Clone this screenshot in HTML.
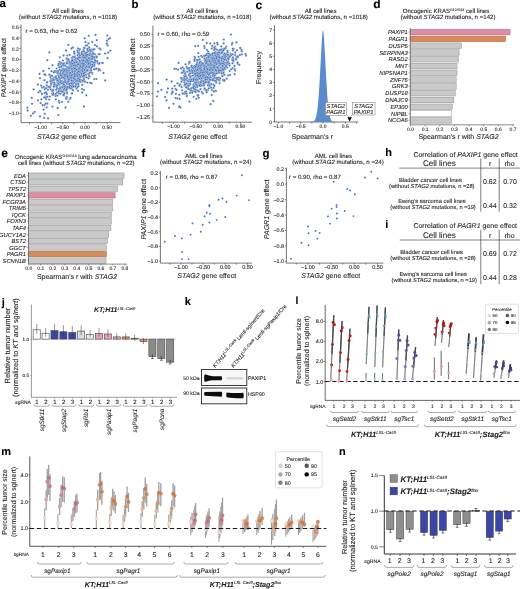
<!DOCTYPE html><html><head><meta charset="utf-8"><style>html,body{margin:0;padding:0;background:#fff;}svg{display:block;opacity:0.999;}text{font-family:"Liberation Sans",sans-serif;text-rendering:geometricPrecision;stroke:#231f20;stroke-width:0.1px;}</style></head><body>
<svg width="520" height="589" viewBox="0 0 520 589" fill="#231f20">
<rect width="520" height="589" fill="#fff"/>
<text x="-0.40" y="6.60" font-size="11.5" font-weight="bold" fill="#000">a</text>
<text x="68.00" y="13.00" font-size="6.1" text-anchor="middle">All cell lines</text>
<text x="68.00" y="18.80" font-size="6.1" text-anchor="middle">(without <tspan font-style="italic">STAG2</tspan> mutations, n =1018)</text>
<line x1="21.00" y1="24.50" x2="21.00" y2="122.60" stroke="#3c3c3c" stroke-width="0.7"/>
<line x1="21.00" y1="122.60" x2="120.40" y2="122.60" stroke="#3c3c3c" stroke-width="0.7"/>
<line x1="19.40" y1="27.16" x2="21.00" y2="27.16" stroke="#3c3c3c" stroke-width="0.6"/>
<text x="18.70" y="28.96" font-size="5.0" text-anchor="end">0.6</text>
<line x1="19.40" y1="37.94" x2="21.00" y2="37.94" stroke="#3c3c3c" stroke-width="0.6"/>
<text x="18.70" y="39.74" font-size="5.0" text-anchor="end">0.4</text>
<line x1="19.40" y1="48.72" x2="21.00" y2="48.72" stroke="#3c3c3c" stroke-width="0.6"/>
<text x="18.70" y="50.52" font-size="5.0" text-anchor="end">0.2</text>
<line x1="19.40" y1="59.50" x2="21.00" y2="59.50" stroke="#3c3c3c" stroke-width="0.6"/>
<text x="18.70" y="61.30" font-size="5.0" text-anchor="end">0.0</text>
<line x1="19.40" y1="70.28" x2="21.00" y2="70.28" stroke="#3c3c3c" stroke-width="0.6"/>
<text x="18.70" y="72.08" font-size="5.0" text-anchor="end">−0.2</text>
<line x1="19.40" y1="81.06" x2="21.00" y2="81.06" stroke="#3c3c3c" stroke-width="0.6"/>
<text x="18.70" y="82.86" font-size="5.0" text-anchor="end">−0.4</text>
<line x1="19.40" y1="91.84" x2="21.00" y2="91.84" stroke="#3c3c3c" stroke-width="0.6"/>
<text x="18.70" y="93.64" font-size="5.0" text-anchor="end">−0.6</text>
<line x1="19.40" y1="102.62" x2="21.00" y2="102.62" stroke="#3c3c3c" stroke-width="0.6"/>
<text x="18.70" y="104.42" font-size="5.0" text-anchor="end">−0.8</text>
<line x1="19.40" y1="113.40" x2="21.00" y2="113.40" stroke="#3c3c3c" stroke-width="0.6"/>
<text x="18.70" y="115.20" font-size="5.0" text-anchor="end">−1.0</text>
<line x1="29.50" y1="122.60" x2="29.50" y2="124.20" stroke="#3c3c3c" stroke-width="0.6"/>
<line x1="40.60" y1="122.60" x2="40.60" y2="124.20" stroke="#3c3c3c" stroke-width="0.6"/>
<text x="40.60" y="128.50" font-size="5.0" text-anchor="middle">−1.00</text>
<line x1="51.70" y1="122.60" x2="51.70" y2="124.20" stroke="#3c3c3c" stroke-width="0.6"/>
<line x1="62.80" y1="122.60" x2="62.80" y2="124.20" stroke="#3c3c3c" stroke-width="0.6"/>
<text x="62.80" y="128.50" font-size="5.0" text-anchor="middle">−0.50</text>
<line x1="73.90" y1="122.60" x2="73.90" y2="124.20" stroke="#3c3c3c" stroke-width="0.6"/>
<line x1="85.00" y1="122.60" x2="85.00" y2="124.20" stroke="#3c3c3c" stroke-width="0.6"/>
<text x="85.00" y="128.50" font-size="5.0" text-anchor="middle">0.00</text>
<line x1="96.10" y1="122.60" x2="96.10" y2="124.20" stroke="#3c3c3c" stroke-width="0.6"/>
<line x1="107.20" y1="122.60" x2="107.20" y2="124.20" stroke="#3c3c3c" stroke-width="0.6"/>
<text x="107.20" y="128.50" font-size="5.0" text-anchor="middle">0.50</text>
<text x="66.40" y="138.82" font-size="7.0" text-anchor="middle"><tspan font-style="italic">STAG2</tspan> gene effect</text>
<text transform="translate(4.00,67.60) rotate(-90)" x="0" y="2.47" font-size="6.85" text-anchor="middle"><tspan font-style="italic">PAXIP1</tspan> gene effect</text>
<text x="25.50" y="33.40" font-size="6.1">r = 0.63, rho = 0.62</text>
<g fill="#3f6db5" stroke="#fff" stroke-width="0.3"><circle cx="79.7" cy="60.8" r="1.15"/><circle cx="60.6" cy="71.4" r="1.15"/><circle cx="69.5" cy="68.9" r="1.15"/><circle cx="79.1" cy="68.0" r="1.15"/><circle cx="67.2" cy="76.7" r="1.15"/><circle cx="82.6" cy="65.8" r="1.15"/><circle cx="52.2" cy="90.5" r="1.15"/><circle cx="61.7" cy="65.8" r="1.15"/><circle cx="44.4" cy="105.2" r="1.15"/><circle cx="58.9" cy="81.0" r="1.15"/><circle cx="74.3" cy="52.8" r="1.15"/><circle cx="59.8" cy="57.3" r="1.15"/><circle cx="83.3" cy="70.2" r="1.15"/><circle cx="69.9" cy="76.4" r="1.15"/><circle cx="54.1" cy="87.2" r="1.15"/><circle cx="65.0" cy="79.2" r="1.15"/><circle cx="69.8" cy="68.6" r="1.15"/><circle cx="72.8" cy="86.6" r="1.15"/><circle cx="57.4" cy="73.3" r="1.15"/><circle cx="86.2" cy="64.2" r="1.15"/><circle cx="72.1" cy="72.0" r="1.15"/><circle cx="64.3" cy="86.6" r="1.15"/><circle cx="58.1" cy="81.1" r="1.15"/><circle cx="56.6" cy="79.4" r="1.15"/><circle cx="72.2" cy="79.3" r="1.15"/><circle cx="71.5" cy="65.5" r="1.15"/><circle cx="58.6" cy="81.4" r="1.15"/><circle cx="84.6" cy="63.3" r="1.15"/><circle cx="44.5" cy="80.2" r="1.15"/><circle cx="68.3" cy="74.7" r="1.15"/><circle cx="81.1" cy="59.5" r="1.15"/><circle cx="74.6" cy="73.2" r="1.15"/><circle cx="49.7" cy="86.9" r="1.15"/><circle cx="59.2" cy="77.2" r="1.15"/><circle cx="82.9" cy="72.4" r="1.15"/><circle cx="89.7" cy="58.6" r="1.15"/><circle cx="58.2" cy="65.5" r="1.15"/><circle cx="54.0" cy="84.5" r="1.15"/><circle cx="85.5" cy="64.1" r="1.15"/><circle cx="67.4" cy="71.1" r="1.15"/><circle cx="79.2" cy="53.4" r="1.15"/><circle cx="47.2" cy="81.8" r="1.15"/><circle cx="64.1" cy="88.0" r="1.15"/><circle cx="66.0" cy="80.4" r="1.15"/><circle cx="76.7" cy="79.3" r="1.15"/><circle cx="63.5" cy="91.9" r="1.15"/><circle cx="64.7" cy="76.7" r="1.15"/><circle cx="63.1" cy="65.1" r="1.15"/><circle cx="75.1" cy="66.2" r="1.15"/><circle cx="73.0" cy="68.2" r="1.15"/><circle cx="62.3" cy="71.0" r="1.15"/><circle cx="63.5" cy="85.3" r="1.15"/><circle cx="94.5" cy="69.3" r="1.15"/><circle cx="51.0" cy="84.9" r="1.15"/><circle cx="72.9" cy="77.4" r="1.15"/><circle cx="79.9" cy="64.0" r="1.15"/><circle cx="78.1" cy="74.0" r="1.15"/><circle cx="74.8" cy="69.8" r="1.15"/><circle cx="70.0" cy="98.9" r="1.15"/><circle cx="69.0" cy="84.4" r="1.15"/><circle cx="90.9" cy="57.0" r="1.15"/><circle cx="49.4" cy="52.4" r="1.15"/><circle cx="62.5" cy="84.8" r="1.15"/><circle cx="57.7" cy="79.5" r="1.15"/><circle cx="89.8" cy="53.5" r="1.15"/><circle cx="76.2" cy="84.0" r="1.15"/><circle cx="77.6" cy="64.4" r="1.15"/><circle cx="96.8" cy="40.2" r="1.15"/><circle cx="80.0" cy="73.6" r="1.15"/><circle cx="61.1" cy="62.8" r="1.15"/><circle cx="72.3" cy="68.0" r="1.15"/><circle cx="72.9" cy="76.8" r="1.15"/><circle cx="45.0" cy="96.7" r="1.15"/><circle cx="71.8" cy="72.1" r="1.15"/><circle cx="84.4" cy="67.9" r="1.15"/><circle cx="68.0" cy="79.4" r="1.15"/><circle cx="76.5" cy="88.7" r="1.15"/><circle cx="79.8" cy="64.3" r="1.15"/><circle cx="52.4" cy="80.5" r="1.15"/><circle cx="59.4" cy="73.3" r="1.15"/><circle cx="62.7" cy="77.2" r="1.15"/><circle cx="70.6" cy="97.8" r="1.15"/><circle cx="68.7" cy="87.8" r="1.15"/><circle cx="71.6" cy="69.9" r="1.15"/><circle cx="75.0" cy="68.6" r="1.15"/><circle cx="83.5" cy="69.7" r="1.15"/><circle cx="76.6" cy="65.9" r="1.15"/><circle cx="65.7" cy="70.8" r="1.15"/><circle cx="63.8" cy="77.0" r="1.15"/><circle cx="76.0" cy="70.6" r="1.15"/><circle cx="49.7" cy="96.6" r="1.15"/><circle cx="47.3" cy="60.2" r="1.15"/><circle cx="67.3" cy="67.8" r="1.15"/><circle cx="33.6" cy="89.3" r="1.15"/><circle cx="70.5" cy="75.8" r="1.15"/><circle cx="65.2" cy="72.7" r="1.15"/><circle cx="67.9" cy="87.0" r="1.15"/><circle cx="50.5" cy="75.5" r="1.15"/><circle cx="84.7" cy="63.8" r="1.15"/><circle cx="66.6" cy="69.9" r="1.15"/><circle cx="61.0" cy="90.1" r="1.15"/><circle cx="85.6" cy="68.6" r="1.15"/><circle cx="77.3" cy="71.9" r="1.15"/><circle cx="66.8" cy="75.3" r="1.15"/><circle cx="72.2" cy="59.9" r="1.15"/><circle cx="66.3" cy="79.0" r="1.15"/><circle cx="59.5" cy="80.2" r="1.15"/><circle cx="91.7" cy="61.4" r="1.15"/><circle cx="65.2" cy="79.8" r="1.15"/><circle cx="63.6" cy="85.4" r="1.15"/><circle cx="57.1" cy="72.7" r="1.15"/><circle cx="67.1" cy="73.3" r="1.15"/><circle cx="83.0" cy="66.2" r="1.15"/><circle cx="94.2" cy="79.1" r="1.15"/><circle cx="63.0" cy="72.7" r="1.15"/><circle cx="57.6" cy="81.8" r="1.15"/><circle cx="76.5" cy="76.6" r="1.15"/><circle cx="85.9" cy="64.3" r="1.15"/><circle cx="82.5" cy="65.7" r="1.15"/><circle cx="60.5" cy="72.3" r="1.15"/><circle cx="82.3" cy="70.6" r="1.15"/><circle cx="87.3" cy="69.8" r="1.15"/><circle cx="76.1" cy="59.7" r="1.15"/><circle cx="61.6" cy="74.7" r="1.15"/><circle cx="100.2" cy="70.3" r="1.15"/><circle cx="91.7" cy="83.3" r="1.15"/><circle cx="81.6" cy="57.9" r="1.15"/><circle cx="81.9" cy="65.6" r="1.15"/><circle cx="75.7" cy="61.7" r="1.15"/><circle cx="63.3" cy="82.5" r="1.15"/><circle cx="77.6" cy="83.2" r="1.15"/><circle cx="84.6" cy="66.0" r="1.15"/><circle cx="73.4" cy="86.3" r="1.15"/><circle cx="78.4" cy="76.2" r="1.15"/><circle cx="59.8" cy="84.5" r="1.15"/><circle cx="98.6" cy="70.5" r="1.15"/><circle cx="86.6" cy="60.6" r="1.15"/><circle cx="48.1" cy="118.4" r="1.15"/><circle cx="61.9" cy="81.3" r="1.15"/><circle cx="87.8" cy="55.6" r="1.15"/><circle cx="86.1" cy="63.0" r="1.15"/><circle cx="76.3" cy="71.6" r="1.15"/><circle cx="79.3" cy="71.2" r="1.15"/><circle cx="68.6" cy="72.0" r="1.15"/><circle cx="92.7" cy="64.5" r="1.15"/><circle cx="77.7" cy="70.8" r="1.15"/><circle cx="82.4" cy="65.8" r="1.15"/><circle cx="45.8" cy="97.8" r="1.15"/><circle cx="88.3" cy="50.9" r="1.15"/><circle cx="73.5" cy="81.3" r="1.15"/><circle cx="85.9" cy="45.7" r="1.15"/><circle cx="72.4" cy="71.9" r="1.15"/><circle cx="66.6" cy="77.2" r="1.15"/><circle cx="96.9" cy="57.3" r="1.15"/><circle cx="96.1" cy="57.5" r="1.15"/><circle cx="83.9" cy="69.0" r="1.15"/><circle cx="67.2" cy="82.2" r="1.15"/><circle cx="77.3" cy="65.5" r="1.15"/><circle cx="66.6" cy="98.9" r="1.15"/><circle cx="82.9" cy="64.6" r="1.15"/><circle cx="82.5" cy="72.0" r="1.15"/><circle cx="81.6" cy="58.1" r="1.15"/><circle cx="105.1" cy="53.6" r="1.15"/><circle cx="90.4" cy="68.4" r="1.15"/><circle cx="44.7" cy="89.2" r="1.15"/><circle cx="78.8" cy="66.9" r="1.15"/><circle cx="82.2" cy="85.0" r="1.15"/><circle cx="76.0" cy="82.0" r="1.15"/><circle cx="59.7" cy="89.1" r="1.15"/><circle cx="88.5" cy="70.4" r="1.15"/><circle cx="77.8" cy="70.3" r="1.15"/><circle cx="68.6" cy="60.0" r="1.15"/><circle cx="66.1" cy="77.4" r="1.15"/><circle cx="78.6" cy="62.1" r="1.15"/><circle cx="86.6" cy="58.9" r="1.15"/><circle cx="95.5" cy="34.9" r="1.15"/><circle cx="67.8" cy="61.2" r="1.15"/><circle cx="52.7" cy="95.2" r="1.15"/><circle cx="56.0" cy="77.5" r="1.15"/><circle cx="61.3" cy="73.9" r="1.15"/><circle cx="89.5" cy="53.5" r="1.15"/><circle cx="85.1" cy="81.8" r="1.15"/><circle cx="65.2" cy="66.0" r="1.15"/><circle cx="63.1" cy="76.6" r="1.15"/><circle cx="62.6" cy="82.9" r="1.15"/><circle cx="58.4" cy="72.2" r="1.15"/><circle cx="84.9" cy="62.7" r="1.15"/><circle cx="78.4" cy="75.0" r="1.15"/><circle cx="86.3" cy="57.1" r="1.15"/><circle cx="70.0" cy="76.7" r="1.15"/><circle cx="96.3" cy="56.5" r="1.15"/><circle cx="74.2" cy="51.6" r="1.15"/><circle cx="83.2" cy="70.2" r="1.15"/><circle cx="33.0" cy="113.4" r="1.15"/><circle cx="79.3" cy="62.2" r="1.15"/><circle cx="84.6" cy="73.4" r="1.15"/><circle cx="85.5" cy="72.4" r="1.15"/><circle cx="63.4" cy="76.7" r="1.15"/><circle cx="60.1" cy="87.2" r="1.15"/><circle cx="58.6" cy="84.4" r="1.15"/><circle cx="90.2" cy="58.4" r="1.15"/><circle cx="50.9" cy="79.1" r="1.15"/><circle cx="80.1" cy="64.9" r="1.15"/><circle cx="75.4" cy="73.1" r="1.15"/><circle cx="69.8" cy="54.9" r="1.15"/><circle cx="67.0" cy="97.2" r="1.15"/><circle cx="85.9" cy="66.3" r="1.15"/><circle cx="84.0" cy="61.5" r="1.15"/><circle cx="84.7" cy="67.6" r="1.15"/><circle cx="65.9" cy="71.9" r="1.15"/><circle cx="107.2" cy="35.6" r="1.15"/><circle cx="71.9" cy="57.9" r="1.15"/><circle cx="70.5" cy="65.1" r="1.15"/><circle cx="57.9" cy="88.7" r="1.15"/><circle cx="77.3" cy="65.9" r="1.15"/><circle cx="76.0" cy="60.4" r="1.15"/><circle cx="40.0" cy="116.4" r="1.15"/><circle cx="69.3" cy="65.1" r="1.15"/><circle cx="68.8" cy="83.7" r="1.15"/><circle cx="71.0" cy="77.9" r="1.15"/><circle cx="70.2" cy="64.7" r="1.15"/><circle cx="72.9" cy="90.3" r="1.15"/><circle cx="67.0" cy="93.5" r="1.15"/><circle cx="96.7" cy="56.9" r="1.15"/><circle cx="65.5" cy="107.5" r="1.15"/><circle cx="70.8" cy="85.8" r="1.15"/><circle cx="72.1" cy="83.2" r="1.15"/><circle cx="65.6" cy="70.7" r="1.15"/><circle cx="76.8" cy="88.1" r="1.15"/><circle cx="78.6" cy="56.1" r="1.15"/><circle cx="57.9" cy="73.6" r="1.15"/><circle cx="63.4" cy="68.6" r="1.15"/><circle cx="87.0" cy="66.3" r="1.15"/><circle cx="67.2" cy="87.2" r="1.15"/><circle cx="69.3" cy="78.8" r="1.15"/><circle cx="34.7" cy="111.9" r="1.15"/><circle cx="79.0" cy="73.3" r="1.15"/><circle cx="49.0" cy="68.6" r="1.15"/><circle cx="95.1" cy="45.2" r="1.15"/><circle cx="69.1" cy="73.1" r="1.15"/><circle cx="78.7" cy="68.5" r="1.15"/><circle cx="84.5" cy="47.9" r="1.15"/><circle cx="87.7" cy="70.0" r="1.15"/><circle cx="68.5" cy="83.0" r="1.15"/><circle cx="84.0" cy="54.0" r="1.15"/><circle cx="71.9" cy="84.0" r="1.15"/><circle cx="75.1" cy="71.6" r="1.15"/><circle cx="82.4" cy="81.4" r="1.15"/><circle cx="68.4" cy="79.2" r="1.15"/><circle cx="84.6" cy="62.7" r="1.15"/><circle cx="77.2" cy="80.6" r="1.15"/><circle cx="61.9" cy="74.6" r="1.15"/><circle cx="72.7" cy="84.0" r="1.15"/><circle cx="77.9" cy="81.6" r="1.15"/><circle cx="77.8" cy="73.9" r="1.15"/><circle cx="69.7" cy="88.5" r="1.15"/><circle cx="81.0" cy="69.2" r="1.15"/><circle cx="64.0" cy="92.8" r="1.15"/><circle cx="86.5" cy="70.5" r="1.15"/><circle cx="74.8" cy="86.2" r="1.15"/><circle cx="50.2" cy="87.7" r="1.15"/><circle cx="61.8" cy="63.3" r="1.15"/><circle cx="80.5" cy="80.7" r="1.15"/><circle cx="58.0" cy="72.1" r="1.15"/><circle cx="96.3" cy="79.1" r="1.15"/><circle cx="67.5" cy="61.7" r="1.15"/><circle cx="60.2" cy="64.1" r="1.15"/><circle cx="44.8" cy="113.9" r="1.15"/><circle cx="74.1" cy="77.3" r="1.15"/><circle cx="45.6" cy="103.6" r="1.15"/><circle cx="73.2" cy="74.7" r="1.15"/><circle cx="81.9" cy="51.6" r="1.15"/><circle cx="75.2" cy="74.8" r="1.15"/><circle cx="66.1" cy="82.4" r="1.15"/><circle cx="65.5" cy="88.6" r="1.15"/><circle cx="74.3" cy="65.9" r="1.15"/><circle cx="71.3" cy="64.0" r="1.15"/><circle cx="72.0" cy="65.4" r="1.15"/><circle cx="67.5" cy="77.0" r="1.15"/><circle cx="80.4" cy="56.4" r="1.15"/><circle cx="69.6" cy="87.8" r="1.15"/><circle cx="64.7" cy="79.2" r="1.15"/><circle cx="61.4" cy="67.6" r="1.15"/><circle cx="84.3" cy="60.0" r="1.15"/><circle cx="89.0" cy="75.5" r="1.15"/><circle cx="50.6" cy="89.4" r="1.15"/><circle cx="85.8" cy="53.4" r="1.15"/><circle cx="79.0" cy="67.8" r="1.15"/><circle cx="95.8" cy="68.8" r="1.15"/><circle cx="81.2" cy="60.0" r="1.15"/><circle cx="71.1" cy="68.1" r="1.15"/><circle cx="81.6" cy="72.6" r="1.15"/><circle cx="67.3" cy="60.0" r="1.15"/><circle cx="42.6" cy="105.2" r="1.15"/><circle cx="78.3" cy="68.4" r="1.15"/><circle cx="66.1" cy="72.5" r="1.15"/><circle cx="60.1" cy="81.4" r="1.15"/><circle cx="74.0" cy="73.1" r="1.15"/><circle cx="90.3" cy="54.4" r="1.15"/><circle cx="108.3" cy="52.7" r="1.15"/><circle cx="71.6" cy="77.1" r="1.15"/><circle cx="77.9" cy="68.5" r="1.15"/><circle cx="84.0" cy="74.6" r="1.15"/><circle cx="82.6" cy="73.8" r="1.15"/><circle cx="88.5" cy="78.3" r="1.15"/><circle cx="57.4" cy="81.8" r="1.15"/><circle cx="59.8" cy="64.2" r="1.15"/><circle cx="44.5" cy="93.2" r="1.15"/><circle cx="89.6" cy="55.3" r="1.15"/><circle cx="66.5" cy="97.2" r="1.15"/><circle cx="69.4" cy="83.7" r="1.15"/><circle cx="60.6" cy="82.8" r="1.15"/><circle cx="74.0" cy="59.7" r="1.15"/><circle cx="53.4" cy="90.0" r="1.15"/><circle cx="70.7" cy="80.5" r="1.15"/><circle cx="58.3" cy="79.8" r="1.15"/><circle cx="84.1" cy="81.1" r="1.15"/><circle cx="66.1" cy="98.2" r="1.15"/><circle cx="84.8" cy="60.5" r="1.15"/><circle cx="86.3" cy="56.4" r="1.15"/><circle cx="27.6" cy="110.5" r="1.15"/><circle cx="70.0" cy="67.9" r="1.15"/><circle cx="67.3" cy="55.6" r="1.15"/><circle cx="86.2" cy="68.3" r="1.15"/><circle cx="82.2" cy="71.9" r="1.15"/><circle cx="62.0" cy="78.3" r="1.15"/><circle cx="72.7" cy="75.4" r="1.15"/><circle cx="83.0" cy="76.9" r="1.15"/><circle cx="83.1" cy="58.6" r="1.15"/><circle cx="72.8" cy="47.5" r="1.15"/><circle cx="66.9" cy="84.3" r="1.15"/><circle cx="78.8" cy="58.9" r="1.15"/><circle cx="72.9" cy="79.2" r="1.15"/><circle cx="107.7" cy="45.4" r="1.15"/><circle cx="71.6" cy="74.6" r="1.15"/><circle cx="71.8" cy="93.6" r="1.15"/><circle cx="71.1" cy="70.6" r="1.15"/><circle cx="85.4" cy="64.8" r="1.15"/><circle cx="45.9" cy="97.6" r="1.15"/><circle cx="61.4" cy="81.3" r="1.15"/><circle cx="65.3" cy="70.3" r="1.15"/><circle cx="30.9" cy="115.8" r="1.15"/><circle cx="75.3" cy="73.4" r="1.15"/><circle cx="63.6" cy="55.5" r="1.15"/><circle cx="65.7" cy="74.4" r="1.15"/><circle cx="54.8" cy="85.0" r="1.15"/><circle cx="83.2" cy="57.8" r="1.15"/><circle cx="66.6" cy="58.4" r="1.15"/><circle cx="81.1" cy="60.8" r="1.15"/><circle cx="41.4" cy="99.4" r="1.15"/><circle cx="72.1" cy="93.4" r="1.15"/><circle cx="42.1" cy="87.7" r="1.15"/><circle cx="82.5" cy="76.8" r="1.15"/><circle cx="65.6" cy="87.0" r="1.15"/><circle cx="65.8" cy="74.7" r="1.15"/><circle cx="27.4" cy="107.6" r="1.15"/><circle cx="70.5" cy="71.1" r="1.15"/><circle cx="86.6" cy="77.4" r="1.15"/><circle cx="92.2" cy="42.0" r="1.15"/><circle cx="85.8" cy="69.5" r="1.15"/><circle cx="89.2" cy="62.3" r="1.15"/><circle cx="40.5" cy="91.7" r="1.15"/><circle cx="52.0" cy="93.8" r="1.15"/><circle cx="60.8" cy="77.6" r="1.15"/><circle cx="62.6" cy="83.4" r="1.15"/><circle cx="92.3" cy="73.5" r="1.15"/><circle cx="65.0" cy="79.7" r="1.15"/><circle cx="62.3" cy="92.4" r="1.15"/><circle cx="80.9" cy="82.1" r="1.15"/><circle cx="74.4" cy="74.5" r="1.15"/><circle cx="56.2" cy="89.8" r="1.15"/><circle cx="84.1" cy="67.2" r="1.15"/><circle cx="65.2" cy="65.3" r="1.15"/><circle cx="73.8" cy="68.2" r="1.15"/><circle cx="86.0" cy="67.7" r="1.15"/><circle cx="73.2" cy="78.6" r="1.15"/><circle cx="76.8" cy="61.4" r="1.15"/><circle cx="80.1" cy="62.2" r="1.15"/><circle cx="75.3" cy="76.5" r="1.15"/><circle cx="77.3" cy="65.0" r="1.15"/><circle cx="75.8" cy="79.2" r="1.15"/><circle cx="69.7" cy="67.2" r="1.15"/><circle cx="82.8" cy="66.9" r="1.15"/><circle cx="73.5" cy="85.8" r="1.15"/><circle cx="73.8" cy="79.9" r="1.15"/><circle cx="78.7" cy="64.6" r="1.15"/><circle cx="78.0" cy="66.7" r="1.15"/><circle cx="54.0" cy="86.4" r="1.15"/><circle cx="55.8" cy="96.0" r="1.15"/><circle cx="55.3" cy="77.4" r="1.15"/><circle cx="66.9" cy="92.7" r="1.15"/><circle cx="84.7" cy="76.9" r="1.15"/><circle cx="79.3" cy="50.6" r="1.15"/><circle cx="90.3" cy="53.9" r="1.15"/><circle cx="56.5" cy="68.6" r="1.15"/><circle cx="70.2" cy="65.9" r="1.15"/><circle cx="65.9" cy="76.3" r="1.15"/><circle cx="88.8" cy="35.8" r="1.15"/><circle cx="83.9" cy="106.5" r="1.15"/><circle cx="62.9" cy="60.6" r="1.15"/><circle cx="67.2" cy="79.7" r="1.15"/><circle cx="77.8" cy="70.4" r="1.15"/><circle cx="93.5" cy="53.6" r="1.15"/><circle cx="56.9" cy="88.0" r="1.15"/><circle cx="60.5" cy="91.3" r="1.15"/><circle cx="59.3" cy="89.9" r="1.15"/><circle cx="72.2" cy="76.3" r="1.15"/><circle cx="55.9" cy="94.0" r="1.15"/><circle cx="78.0" cy="72.6" r="1.15"/><circle cx="61.1" cy="74.3" r="1.15"/><circle cx="62.5" cy="75.2" r="1.15"/><circle cx="82.2" cy="65.5" r="1.15"/><circle cx="76.5" cy="81.2" r="1.15"/><circle cx="80.4" cy="64.1" r="1.15"/><circle cx="95.0" cy="69.0" r="1.15"/><circle cx="60.3" cy="93.8" r="1.15"/><circle cx="82.0" cy="75.5" r="1.15"/><circle cx="64.4" cy="87.1" r="1.15"/><circle cx="78.2" cy="70.2" r="1.15"/><circle cx="78.3" cy="70.0" r="1.15"/><circle cx="53.8" cy="94.9" r="1.15"/><circle cx="67.5" cy="70.4" r="1.15"/><circle cx="71.6" cy="70.3" r="1.15"/><circle cx="79.8" cy="49.1" r="1.15"/><circle cx="84.4" cy="66.1" r="1.15"/><circle cx="62.8" cy="73.7" r="1.15"/><circle cx="73.7" cy="64.1" r="1.15"/><circle cx="88.5" cy="62.3" r="1.15"/><circle cx="75.7" cy="71.1" r="1.15"/><circle cx="57.1" cy="79.8" r="1.15"/><circle cx="84.0" cy="68.0" r="1.15"/><circle cx="63.3" cy="88.9" r="1.15"/><circle cx="58.9" cy="100.9" r="1.15"/><circle cx="84.5" cy="58.7" r="1.15"/><circle cx="77.8" cy="77.4" r="1.15"/><circle cx="84.8" cy="58.4" r="1.15"/><circle cx="81.9" cy="52.4" r="1.15"/><circle cx="84.8" cy="64.9" r="1.15"/><circle cx="82.6" cy="62.8" r="1.15"/><circle cx="72.1" cy="57.8" r="1.15"/><circle cx="66.4" cy="87.0" r="1.15"/><circle cx="92.2" cy="49.7" r="1.15"/><circle cx="59.5" cy="61.8" r="1.15"/><circle cx="64.8" cy="80.3" r="1.15"/><circle cx="80.6" cy="64.7" r="1.15"/><circle cx="46.0" cy="88.2" r="1.15"/><circle cx="76.6" cy="76.1" r="1.15"/><circle cx="87.5" cy="67.3" r="1.15"/><circle cx="53.1" cy="94.6" r="1.15"/><circle cx="90.0" cy="60.9" r="1.15"/><circle cx="71.3" cy="83.4" r="1.15"/><circle cx="74.1" cy="64.8" r="1.15"/><circle cx="87.2" cy="67.4" r="1.15"/><circle cx="57.9" cy="84.5" r="1.15"/><circle cx="86.1" cy="74.7" r="1.15"/><circle cx="81.2" cy="71.5" r="1.15"/><circle cx="76.9" cy="59.5" r="1.15"/><circle cx="84.5" cy="69.6" r="1.15"/><circle cx="77.7" cy="70.0" r="1.15"/><circle cx="54.3" cy="77.7" r="1.15"/><circle cx="81.3" cy="60.6" r="1.15"/><circle cx="63.9" cy="89.4" r="1.15"/><circle cx="89.8" cy="63.7" r="1.15"/><circle cx="72.5" cy="83.8" r="1.15"/><circle cx="90.9" cy="51.4" r="1.15"/><circle cx="91.4" cy="67.6" r="1.15"/><circle cx="61.5" cy="87.1" r="1.15"/><circle cx="63.8" cy="90.4" r="1.15"/><circle cx="97.9" cy="63.2" r="1.15"/><circle cx="68.3" cy="44.9" r="1.15"/><circle cx="88.3" cy="73.9" r="1.15"/><circle cx="53.9" cy="72.0" r="1.15"/><circle cx="72.9" cy="72.2" r="1.15"/><circle cx="73.7" cy="69.1" r="1.15"/><circle cx="85.5" cy="68.1" r="1.15"/><circle cx="47.0" cy="82.6" r="1.15"/><circle cx="82.1" cy="61.8" r="1.15"/><circle cx="70.7" cy="67.8" r="1.15"/><circle cx="46.7" cy="94.2" r="1.15"/><circle cx="83.6" cy="77.1" r="1.15"/><circle cx="47.3" cy="96.7" r="1.15"/><circle cx="72.7" cy="87.6" r="1.15"/><circle cx="86.9" cy="58.0" r="1.15"/><circle cx="68.9" cy="84.6" r="1.15"/><circle cx="92.3" cy="65.0" r="1.15"/><circle cx="78.0" cy="62.8" r="1.15"/><circle cx="77.3" cy="50.6" r="1.15"/><circle cx="77.1" cy="68.8" r="1.15"/><circle cx="49.2" cy="99.6" r="1.15"/><circle cx="67.8" cy="72.7" r="1.15"/><circle cx="80.9" cy="61.1" r="1.15"/><circle cx="77.6" cy="55.1" r="1.15"/><circle cx="65.1" cy="86.0" r="1.15"/><circle cx="64.0" cy="76.9" r="1.15"/><circle cx="58.9" cy="93.6" r="1.15"/><circle cx="74.9" cy="72.7" r="1.15"/><circle cx="65.3" cy="70.7" r="1.15"/><circle cx="68.9" cy="81.5" r="1.15"/><circle cx="61.2" cy="66.7" r="1.15"/><circle cx="52.4" cy="91.4" r="1.15"/><circle cx="79.5" cy="75.7" r="1.15"/><circle cx="80.2" cy="56.6" r="1.15"/><circle cx="108.6" cy="39.1" r="1.15"/><circle cx="71.0" cy="70.9" r="1.15"/><circle cx="83.5" cy="55.2" r="1.15"/><circle cx="82.5" cy="60.0" r="1.15"/><circle cx="84.6" cy="55.7" r="1.15"/><circle cx="87.4" cy="49.0" r="1.15"/><circle cx="75.7" cy="73.0" r="1.15"/><circle cx="77.5" cy="72.8" r="1.15"/><circle cx="52.4" cy="106.7" r="1.15"/><circle cx="79.5" cy="78.3" r="1.15"/><circle cx="94.6" cy="49.3" r="1.15"/><circle cx="78.0" cy="81.6" r="1.15"/><circle cx="55.9" cy="84.3" r="1.15"/><circle cx="51.4" cy="71.2" r="1.15"/><circle cx="78.4" cy="71.2" r="1.15"/><circle cx="69.8" cy="78.8" r="1.15"/><circle cx="85.7" cy="58.1" r="1.15"/><circle cx="91.7" cy="72.4" r="1.15"/><circle cx="90.7" cy="66.0" r="1.15"/><circle cx="92.6" cy="64.9" r="1.15"/><circle cx="71.5" cy="48.5" r="1.15"/><circle cx="61.7" cy="80.8" r="1.15"/><circle cx="59.4" cy="82.2" r="1.15"/><circle cx="79.8" cy="55.5" r="1.15"/><circle cx="71.3" cy="63.4" r="1.15"/><circle cx="43.6" cy="109.6" r="1.15"/><circle cx="80.2" cy="68.4" r="1.15"/><circle cx="85.3" cy="60.3" r="1.15"/><circle cx="72.6" cy="61.3" r="1.15"/><circle cx="62.1" cy="87.3" r="1.15"/><circle cx="46.7" cy="107.3" r="1.15"/><circle cx="86.6" cy="70.0" r="1.15"/><circle cx="83.5" cy="68.6" r="1.15"/><circle cx="68.6" cy="77.6" r="1.15"/><circle cx="58.3" cy="115.1" r="1.15"/><circle cx="71.7" cy="70.8" r="1.15"/><circle cx="79.6" cy="66.1" r="1.15"/><circle cx="50.3" cy="81.2" r="1.15"/><circle cx="85.5" cy="42.2" r="1.15"/><circle cx="53.9" cy="86.5" r="1.15"/><circle cx="45.6" cy="75.0" r="1.15"/><circle cx="83.3" cy="70.4" r="1.15"/><circle cx="85.6" cy="74.8" r="1.15"/><circle cx="61.2" cy="77.8" r="1.15"/><circle cx="80.1" cy="57.6" r="1.15"/><circle cx="56.6" cy="85.5" r="1.15"/><circle cx="66.9" cy="76.6" r="1.15"/><circle cx="90.6" cy="70.2" r="1.15"/><circle cx="69.8" cy="61.9" r="1.15"/><circle cx="79.2" cy="53.7" r="1.15"/><circle cx="57.2" cy="92.3" r="1.15"/><circle cx="64.7" cy="78.9" r="1.15"/><circle cx="83.8" cy="61.5" r="1.15"/><circle cx="67.3" cy="74.9" r="1.15"/><circle cx="78.6" cy="65.3" r="1.15"/><circle cx="53.5" cy="93.1" r="1.15"/><circle cx="95.3" cy="62.4" r="1.15"/><circle cx="92.6" cy="57.4" r="1.15"/><circle cx="72.3" cy="81.2" r="1.15"/><circle cx="88.7" cy="57.6" r="1.15"/><circle cx="84.0" cy="48.0" r="1.15"/><circle cx="60.4" cy="80.9" r="1.15"/><circle cx="90.1" cy="82.8" r="1.15"/><circle cx="73.3" cy="80.6" r="1.15"/><circle cx="78.2" cy="72.2" r="1.15"/><circle cx="60.4" cy="87.9" r="1.15"/><circle cx="44.1" cy="117.9" r="1.15"/><circle cx="68.8" cy="59.8" r="1.15"/><circle cx="57.8" cy="72.3" r="1.15"/><circle cx="90.5" cy="62.5" r="1.15"/><circle cx="57.7" cy="108.0" r="1.15"/><circle cx="84.7" cy="81.4" r="1.15"/><circle cx="72.2" cy="60.7" r="1.15"/><circle cx="84.9" cy="70.7" r="1.15"/><circle cx="89.6" cy="67.3" r="1.15"/><circle cx="93.7" cy="58.5" r="1.15"/><circle cx="72.3" cy="66.8" r="1.15"/><circle cx="89.1" cy="51.2" r="1.15"/><circle cx="57.4" cy="85.8" r="1.15"/><circle cx="73.8" cy="77.9" r="1.15"/><circle cx="68.7" cy="82.0" r="1.15"/><circle cx="65.5" cy="81.4" r="1.15"/><circle cx="72.2" cy="80.3" r="1.15"/><circle cx="67.5" cy="78.7" r="1.15"/><circle cx="83.8" cy="61.4" r="1.15"/><circle cx="80.3" cy="68.6" r="1.15"/><circle cx="55.8" cy="76.3" r="1.15"/><circle cx="98.6" cy="54.2" r="1.15"/><circle cx="59.8" cy="69.7" r="1.15"/><circle cx="79.6" cy="76.4" r="1.15"/><circle cx="68.3" cy="59.4" r="1.15"/><circle cx="70.4" cy="76.3" r="1.15"/><circle cx="66.9" cy="90.3" r="1.15"/><circle cx="64.2" cy="63.3" r="1.15"/><circle cx="91.4" cy="55.9" r="1.15"/><circle cx="78.9" cy="72.7" r="1.15"/><circle cx="47.9" cy="89.7" r="1.15"/><circle cx="76.0" cy="67.0" r="1.15"/><circle cx="58.6" cy="82.3" r="1.15"/><circle cx="91.7" cy="67.2" r="1.15"/><circle cx="73.7" cy="72.1" r="1.15"/><circle cx="56.3" cy="71.3" r="1.15"/><circle cx="87.1" cy="45.3" r="1.15"/><circle cx="71.6" cy="61.0" r="1.15"/><circle cx="82.5" cy="64.0" r="1.15"/><circle cx="37.8" cy="84.5" r="1.15"/><circle cx="91.4" cy="51.0" r="1.15"/><circle cx="72.0" cy="85.1" r="1.15"/><circle cx="86.5" cy="66.6" r="1.15"/><circle cx="84.4" cy="75.7" r="1.15"/><circle cx="71.2" cy="73.3" r="1.15"/><circle cx="68.4" cy="75.8" r="1.15"/><circle cx="66.6" cy="82.2" r="1.15"/><circle cx="75.2" cy="86.6" r="1.15"/><circle cx="48.7" cy="87.0" r="1.15"/><circle cx="87.0" cy="61.0" r="1.15"/><circle cx="79.1" cy="74.3" r="1.15"/><circle cx="82.0" cy="72.9" r="1.15"/><circle cx="76.0" cy="59.2" r="1.15"/><circle cx="77.6" cy="87.0" r="1.15"/><circle cx="100.6" cy="49.4" r="1.15"/><circle cx="71.1" cy="88.4" r="1.15"/><circle cx="63.8" cy="76.4" r="1.15"/><circle cx="52.6" cy="78.9" r="1.15"/><circle cx="76.0" cy="81.0" r="1.15"/><circle cx="99.3" cy="48.3" r="1.15"/><circle cx="83.3" cy="60.4" r="1.15"/><circle cx="66.1" cy="74.2" r="1.15"/><circle cx="71.4" cy="65.9" r="1.15"/><circle cx="58.4" cy="81.8" r="1.15"/><circle cx="73.0" cy="80.8" r="1.15"/><circle cx="103.5" cy="73.0" r="1.15"/><circle cx="83.3" cy="74.5" r="1.15"/><circle cx="92.7" cy="52.3" r="1.15"/><circle cx="46.1" cy="99.2" r="1.15"/><circle cx="74.5" cy="74.2" r="1.15"/><circle cx="71.6" cy="77.5" r="1.15"/><circle cx="44.4" cy="74.5" r="1.15"/><circle cx="41.1" cy="85.7" r="1.15"/><circle cx="74.9" cy="79.6" r="1.15"/><circle cx="85.3" cy="52.9" r="1.15"/><circle cx="72.8" cy="71.7" r="1.15"/><circle cx="78.6" cy="71.0" r="1.15"/><circle cx="90.1" cy="49.5" r="1.15"/><circle cx="82.7" cy="54.9" r="1.15"/><circle cx="64.8" cy="88.6" r="1.15"/><circle cx="58.2" cy="83.7" r="1.15"/><circle cx="77.2" cy="80.5" r="1.15"/><circle cx="110.3" cy="50.6" r="1.15"/><circle cx="79.3" cy="66.0" r="1.15"/><circle cx="82.1" cy="66.7" r="1.15"/><circle cx="99.7" cy="54.2" r="1.15"/><circle cx="64.1" cy="75.9" r="1.15"/><circle cx="66.1" cy="87.6" r="1.15"/><circle cx="73.8" cy="73.3" r="1.15"/><circle cx="98.9" cy="63.9" r="1.15"/><circle cx="69.3" cy="63.1" r="1.15"/><circle cx="91.0" cy="59.6" r="1.15"/><circle cx="40.0" cy="78.2" r="1.15"/><circle cx="80.6" cy="68.2" r="1.15"/><circle cx="61.3" cy="70.4" r="1.15"/><circle cx="71.8" cy="77.9" r="1.15"/><circle cx="74.9" cy="56.3" r="1.15"/><circle cx="69.0" cy="83.6" r="1.15"/><circle cx="50.2" cy="87.1" r="1.15"/><circle cx="79.1" cy="67.3" r="1.15"/><circle cx="82.9" cy="73.5" r="1.15"/><circle cx="85.4" cy="61.8" r="1.15"/><circle cx="62.7" cy="91.8" r="1.15"/><circle cx="58.1" cy="81.6" r="1.15"/><circle cx="88.5" cy="51.0" r="1.15"/><circle cx="84.6" cy="38.3" r="1.15"/><circle cx="80.8" cy="69.7" r="1.15"/><circle cx="74.4" cy="57.3" r="1.15"/><circle cx="59.6" cy="79.3" r="1.15"/><circle cx="92.4" cy="53.8" r="1.15"/><circle cx="82.6" cy="56.2" r="1.15"/><circle cx="72.2" cy="66.2" r="1.15"/><circle cx="54.5" cy="71.0" r="1.15"/><circle cx="72.2" cy="74.8" r="1.15"/><circle cx="72.8" cy="84.2" r="1.15"/><circle cx="76.3" cy="69.3" r="1.15"/><circle cx="87.8" cy="50.8" r="1.15"/><circle cx="81.2" cy="80.1" r="1.15"/><circle cx="76.1" cy="69.2" r="1.15"/><circle cx="65.7" cy="69.0" r="1.15"/><circle cx="63.1" cy="72.8" r="1.15"/><circle cx="60.1" cy="74.0" r="1.15"/><circle cx="69.6" cy="73.2" r="1.15"/><circle cx="69.1" cy="77.8" r="1.15"/><circle cx="78.0" cy="66.4" r="1.15"/><circle cx="73.9" cy="65.3" r="1.15"/><circle cx="52.9" cy="82.4" r="1.15"/><circle cx="66.5" cy="89.3" r="1.15"/><circle cx="72.1" cy="81.3" r="1.15"/><circle cx="69.2" cy="70.8" r="1.15"/><circle cx="83.1" cy="69.2" r="1.15"/><circle cx="94.6" cy="59.7" r="1.15"/><circle cx="78.0" cy="58.0" r="1.15"/><circle cx="89.2" cy="55.1" r="1.15"/><circle cx="78.6" cy="75.0" r="1.15"/><circle cx="72.9" cy="81.2" r="1.15"/><circle cx="93.7" cy="49.4" r="1.15"/><circle cx="105.2" cy="80.4" r="1.15"/><circle cx="66.7" cy="83.9" r="1.15"/><circle cx="77.9" cy="52.4" r="1.15"/><circle cx="89.8" cy="58.3" r="1.15"/><circle cx="67.8" cy="88.0" r="1.15"/><circle cx="71.3" cy="66.3" r="1.15"/><circle cx="59.9" cy="77.7" r="1.15"/><circle cx="79.6" cy="71.5" r="1.15"/><circle cx="42.0" cy="94.0" r="1.15"/><circle cx="68.6" cy="80.0" r="1.15"/><circle cx="77.4" cy="84.1" r="1.15"/><circle cx="74.2" cy="62.3" r="1.15"/><circle cx="78.1" cy="78.7" r="1.15"/><circle cx="83.9" cy="79.2" r="1.15"/><circle cx="90.4" cy="70.8" r="1.15"/><circle cx="74.4" cy="53.5" r="1.15"/><circle cx="57.3" cy="79.4" r="1.15"/><circle cx="73.9" cy="69.5" r="1.15"/><circle cx="79.2" cy="76.0" r="1.15"/><circle cx="71.5" cy="80.5" r="1.15"/><circle cx="106.7" cy="43.3" r="1.15"/><circle cx="59.1" cy="91.4" r="1.15"/><circle cx="88.0" cy="65.5" r="1.15"/><circle cx="78.6" cy="59.3" r="1.15"/><circle cx="77.5" cy="65.7" r="1.15"/><circle cx="80.2" cy="77.1" r="1.15"/><circle cx="38.4" cy="92.3" r="1.15"/><circle cx="81.6" cy="75.2" r="1.15"/><circle cx="95.2" cy="61.8" r="1.15"/><circle cx="80.7" cy="79.9" r="1.15"/><circle cx="89.8" cy="72.8" r="1.15"/><circle cx="79.2" cy="74.6" r="1.15"/><circle cx="50.6" cy="76.9" r="1.15"/><circle cx="32.0" cy="103.8" r="1.15"/><circle cx="94.3" cy="64.5" r="1.15"/><circle cx="82.4" cy="64.1" r="1.15"/><circle cx="67.3" cy="68.3" r="1.15"/><circle cx="106.8" cy="43.8" r="1.15"/><circle cx="61.7" cy="75.7" r="1.15"/><circle cx="54.2" cy="84.3" r="1.15"/><circle cx="75.0" cy="71.8" r="1.15"/><circle cx="92.5" cy="54.4" r="1.15"/><circle cx="65.7" cy="82.0" r="1.15"/><circle cx="70.7" cy="76.3" r="1.15"/><circle cx="86.6" cy="56.5" r="1.15"/><circle cx="74.7" cy="66.9" r="1.15"/><circle cx="64.0" cy="82.0" r="1.15"/><circle cx="64.0" cy="95.5" r="1.15"/><circle cx="74.6" cy="73.2" r="1.15"/><circle cx="76.4" cy="73.5" r="1.15"/><circle cx="74.6" cy="64.4" r="1.15"/><circle cx="93.6" cy="54.2" r="1.15"/><circle cx="72.1" cy="74.7" r="1.15"/><circle cx="43.8" cy="87.0" r="1.15"/><circle cx="66.7" cy="62.7" r="1.15"/><circle cx="49.3" cy="74.7" r="1.15"/><circle cx="76.1" cy="58.5" r="1.15"/><circle cx="89.2" cy="47.5" r="1.15"/><circle cx="78.9" cy="57.2" r="1.15"/><circle cx="67.0" cy="63.6" r="1.15"/><circle cx="77.5" cy="57.9" r="1.15"/><circle cx="84.3" cy="69.6" r="1.15"/><circle cx="46.1" cy="92.2" r="1.15"/><circle cx="56.0" cy="78.1" r="1.15"/><circle cx="76.7" cy="64.6" r="1.15"/><circle cx="65.4" cy="75.7" r="1.15"/><circle cx="69.7" cy="74.9" r="1.15"/><circle cx="68.2" cy="77.6" r="1.15"/><circle cx="99.5" cy="63.2" r="1.15"/><circle cx="39.5" cy="73.9" r="1.15"/><circle cx="77.3" cy="58.3" r="1.15"/><circle cx="58.5" cy="75.7" r="1.15"/><circle cx="82.8" cy="64.7" r="1.15"/><circle cx="79.0" cy="69.5" r="1.15"/><circle cx="38.0" cy="100.4" r="1.15"/><circle cx="64.1" cy="86.3" r="1.15"/><circle cx="70.0" cy="77.7" r="1.15"/><circle cx="75.2" cy="67.9" r="1.15"/><circle cx="68.1" cy="80.4" r="1.15"/><circle cx="70.3" cy="72.6" r="1.15"/><circle cx="57.5" cy="95.6" r="1.15"/><circle cx="56.0" cy="79.3" r="1.15"/><circle cx="62.0" cy="101.9" r="1.15"/><circle cx="87.0" cy="69.6" r="1.15"/><circle cx="83.4" cy="60.7" r="1.15"/><circle cx="44.2" cy="97.6" r="1.15"/><circle cx="43.3" cy="71.0" r="1.15"/><circle cx="74.9" cy="79.6" r="1.15"/><circle cx="53.1" cy="89.9" r="1.15"/><circle cx="89.4" cy="76.3" r="1.15"/><circle cx="78.4" cy="64.9" r="1.15"/><circle cx="87.6" cy="54.8" r="1.15"/><circle cx="79.3" cy="69.5" r="1.15"/><circle cx="51.5" cy="80.6" r="1.15"/><circle cx="59.4" cy="102.7" r="1.15"/><circle cx="63.8" cy="65.6" r="1.15"/><circle cx="69.9" cy="85.5" r="1.15"/><circle cx="55.9" cy="99.3" r="1.15"/><circle cx="87.9" cy="62.2" r="1.15"/><circle cx="72.9" cy="90.1" r="1.15"/><circle cx="81.4" cy="71.7" r="1.15"/><circle cx="72.6" cy="86.6" r="1.15"/><circle cx="90.6" cy="63.0" r="1.15"/><circle cx="68.0" cy="81.9" r="1.15"/><circle cx="60.8" cy="75.5" r="1.15"/><circle cx="71.5" cy="65.9" r="1.15"/><circle cx="95.1" cy="60.4" r="1.15"/><circle cx="80.5" cy="66.5" r="1.15"/><circle cx="90.6" cy="65.1" r="1.15"/><circle cx="64.3" cy="78.4" r="1.15"/><circle cx="52.7" cy="89.8" r="1.15"/><circle cx="73.7" cy="65.5" r="1.15"/><circle cx="87.3" cy="82.7" r="1.15"/><circle cx="80.0" cy="80.6" r="1.15"/><circle cx="52.2" cy="75.9" r="1.15"/><circle cx="64.5" cy="93.7" r="1.15"/><circle cx="90.7" cy="51.0" r="1.15"/><circle cx="71.4" cy="86.7" r="1.15"/><circle cx="78.4" cy="83.9" r="1.15"/><circle cx="55.1" cy="72.0" r="1.15"/><circle cx="94.3" cy="65.9" r="1.15"/><circle cx="91.6" cy="58.9" r="1.15"/><circle cx="60.4" cy="82.5" r="1.15"/><circle cx="60.2" cy="88.2" r="1.15"/><circle cx="97.2" cy="61.2" r="1.15"/><circle cx="88.2" cy="62.2" r="1.15"/><circle cx="73.6" cy="78.2" r="1.15"/><circle cx="79.8" cy="61.0" r="1.15"/><circle cx="79.1" cy="57.3" r="1.15"/><circle cx="71.1" cy="64.1" r="1.15"/><circle cx="79.3" cy="68.5" r="1.15"/><circle cx="62.1" cy="91.6" r="1.15"/><circle cx="75.9" cy="74.6" r="1.15"/><circle cx="87.3" cy="62.5" r="1.15"/><circle cx="74.0" cy="67.8" r="1.15"/><circle cx="88.4" cy="64.6" r="1.15"/><circle cx="89.9" cy="62.4" r="1.15"/><circle cx="102.9" cy="63.0" r="1.15"/><circle cx="78.1" cy="48.3" r="1.15"/><circle cx="86.3" cy="95.3" r="1.15"/><circle cx="91.3" cy="70.0" r="1.15"/><circle cx="82.6" cy="61.7" r="1.15"/><circle cx="71.3" cy="75.8" r="1.15"/><circle cx="79.7" cy="81.4" r="1.15"/><circle cx="79.9" cy="68.1" r="1.15"/><circle cx="72.7" cy="60.4" r="1.15"/><circle cx="82.8" cy="80.4" r="1.15"/><circle cx="81.5" cy="73.8" r="1.15"/><circle cx="70.2" cy="72.8" r="1.15"/><circle cx="86.0" cy="55.2" r="1.15"/><circle cx="87.6" cy="48.8" r="1.15"/><circle cx="82.2" cy="60.3" r="1.15"/><circle cx="76.0" cy="65.4" r="1.15"/><circle cx="83.3" cy="58.1" r="1.15"/><circle cx="88.3" cy="67.3" r="1.15"/><circle cx="96.5" cy="68.6" r="1.15"/><circle cx="75.3" cy="70.4" r="1.15"/><circle cx="84.4" cy="73.5" r="1.15"/><circle cx="82.4" cy="75.8" r="1.15"/><circle cx="77.0" cy="74.6" r="1.15"/><circle cx="75.5" cy="65.7" r="1.15"/><circle cx="74.2" cy="82.9" r="1.15"/><circle cx="54.4" cy="82.7" r="1.15"/><circle cx="107.0" cy="40.7" r="1.15"/><circle cx="87.3" cy="60.4" r="1.15"/><circle cx="47.4" cy="103.7" r="1.15"/><circle cx="89.0" cy="58.6" r="1.15"/><circle cx="83.5" cy="57.3" r="1.15"/><circle cx="82.2" cy="92.5" r="1.15"/><circle cx="76.5" cy="62.7" r="1.15"/><circle cx="78.6" cy="63.4" r="1.15"/><circle cx="73.1" cy="56.9" r="1.15"/><circle cx="82.2" cy="70.9" r="1.15"/><circle cx="82.8" cy="62.0" r="1.15"/><circle cx="88.4" cy="67.4" r="1.15"/><circle cx="77.2" cy="76.1" r="1.15"/><circle cx="72.0" cy="83.1" r="1.15"/><circle cx="74.9" cy="68.6" r="1.15"/><circle cx="62.1" cy="83.2" r="1.15"/><circle cx="52.9" cy="90.8" r="1.15"/><circle cx="79.9" cy="71.9" r="1.15"/><circle cx="79.5" cy="79.9" r="1.15"/><circle cx="65.9" cy="90.5" r="1.15"/><circle cx="74.6" cy="62.8" r="1.15"/><circle cx="67.4" cy="74.4" r="1.15"/><circle cx="86.9" cy="59.8" r="1.15"/><circle cx="94.9" cy="54.3" r="1.15"/><circle cx="66.7" cy="72.0" r="1.15"/><circle cx="75.5" cy="86.6" r="1.15"/><circle cx="72.5" cy="70.1" r="1.15"/><circle cx="75.0" cy="71.1" r="1.15"/><circle cx="53.8" cy="72.3" r="1.15"/><circle cx="58.6" cy="63.9" r="1.15"/><circle cx="81.6" cy="63.1" r="1.15"/><circle cx="78.1" cy="90.8" r="1.15"/><circle cx="72.7" cy="71.3" r="1.15"/><circle cx="68.3" cy="81.0" r="1.15"/><circle cx="51.0" cy="83.3" r="1.15"/><circle cx="65.0" cy="75.1" r="1.15"/><circle cx="56.9" cy="80.5" r="1.15"/><circle cx="46.8" cy="94.0" r="1.15"/><circle cx="98.6" cy="68.8" r="1.15"/><circle cx="86.4" cy="71.4" r="1.15"/><circle cx="67.5" cy="86.8" r="1.15"/><circle cx="81.4" cy="70.4" r="1.15"/><circle cx="83.6" cy="55.3" r="1.15"/><circle cx="82.7" cy="71.5" r="1.15"/><circle cx="66.7" cy="70.1" r="1.15"/><circle cx="63.0" cy="63.9" r="1.15"/><circle cx="74.9" cy="75.5" r="1.15"/><circle cx="71.2" cy="63.1" r="1.15"/><circle cx="82.8" cy="68.7" r="1.15"/><circle cx="81.7" cy="75.4" r="1.15"/><circle cx="66.5" cy="89.5" r="1.15"/><circle cx="59.2" cy="67.2" r="1.15"/><circle cx="86.8" cy="52.5" r="1.15"/><circle cx="67.2" cy="67.2" r="1.15"/><circle cx="68.3" cy="101.7" r="1.15"/><circle cx="81.8" cy="54.2" r="1.15"/><circle cx="65.7" cy="74.4" r="1.15"/><circle cx="82.1" cy="70.2" r="1.15"/><circle cx="92.4" cy="64.6" r="1.15"/><circle cx="52.8" cy="80.6" r="1.15"/><circle cx="63.2" cy="69.3" r="1.15"/><circle cx="55.9" cy="77.1" r="1.15"/><circle cx="68.6" cy="76.6" r="1.15"/><circle cx="83.0" cy="76.3" r="1.15"/><circle cx="84.7" cy="72.6" r="1.15"/><circle cx="48.4" cy="87.0" r="1.15"/><circle cx="92.8" cy="66.3" r="1.15"/><circle cx="63.6" cy="77.4" r="1.15"/><circle cx="67.0" cy="75.7" r="1.15"/><circle cx="86.8" cy="70.4" r="1.15"/><circle cx="77.5" cy="72.8" r="1.15"/><circle cx="92.4" cy="58.3" r="1.15"/><circle cx="76.5" cy="69.7" r="1.15"/><circle cx="59.9" cy="78.3" r="1.15"/><circle cx="72.5" cy="63.7" r="1.15"/><circle cx="49.3" cy="86.8" r="1.15"/><circle cx="78.1" cy="64.2" r="1.15"/><circle cx="81.4" cy="63.3" r="1.15"/><circle cx="54.2" cy="79.8" r="1.15"/><circle cx="94.1" cy="57.2" r="1.15"/><circle cx="67.9" cy="70.7" r="1.15"/><circle cx="102.2" cy="62.8" r="1.15"/><circle cx="68.5" cy="68.8" r="1.15"/><circle cx="63.9" cy="84.4" r="1.15"/><circle cx="78.5" cy="71.4" r="1.15"/><circle cx="83.6" cy="73.8" r="1.15"/><circle cx="78.6" cy="86.1" r="1.15"/><circle cx="78.8" cy="64.2" r="1.15"/><circle cx="64.4" cy="74.7" r="1.15"/><circle cx="82.2" cy="67.6" r="1.15"/><circle cx="68.4" cy="67.4" r="1.15"/><circle cx="66.0" cy="70.9" r="1.15"/><circle cx="92.6" cy="56.5" r="1.15"/><circle cx="88.6" cy="63.2" r="1.15"/><circle cx="69.0" cy="79.2" r="1.15"/><circle cx="69.3" cy="87.2" r="1.15"/><circle cx="83.5" cy="50.2" r="1.15"/><circle cx="83.9" cy="89.9" r="1.15"/><circle cx="83.9" cy="51.4" r="1.15"/><circle cx="82.4" cy="63.7" r="1.15"/><circle cx="63.9" cy="71.4" r="1.15"/><circle cx="72.4" cy="71.9" r="1.15"/><circle cx="67.5" cy="76.9" r="1.15"/><circle cx="93.1" cy="53.5" r="1.15"/><circle cx="97.0" cy="46.4" r="1.15"/><circle cx="57.9" cy="80.3" r="1.15"/><circle cx="92.1" cy="61.6" r="1.15"/><circle cx="110.0" cy="38.2" r="1.15"/><circle cx="50.8" cy="81.3" r="1.15"/><circle cx="84.9" cy="57.3" r="1.15"/><circle cx="89.3" cy="66.9" r="1.15"/><circle cx="58.5" cy="91.3" r="1.15"/><circle cx="56.9" cy="78.9" r="1.15"/><circle cx="62.0" cy="77.1" r="1.15"/><circle cx="66.0" cy="50.5" r="1.15"/><circle cx="76.1" cy="84.6" r="1.15"/><circle cx="40.0" cy="90.9" r="1.15"/><circle cx="107.6" cy="58.2" r="1.15"/><circle cx="69.6" cy="84.0" r="1.15"/><circle cx="94.1" cy="69.2" r="1.15"/><circle cx="71.8" cy="68.9" r="1.15"/><circle cx="40.6" cy="103.0" r="1.15"/><circle cx="31.8" cy="98.0" r="1.15"/><circle cx="65.2" cy="76.0" r="1.15"/><circle cx="82.0" cy="89.1" r="1.15"/><circle cx="58.1" cy="70.8" r="1.15"/><circle cx="56.2" cy="85.8" r="1.15"/><circle cx="93.8" cy="62.5" r="1.15"/><circle cx="87.8" cy="60.7" r="1.15"/><circle cx="63.4" cy="94.8" r="1.15"/><circle cx="88.5" cy="43.3" r="1.15"/><circle cx="83.2" cy="66.0" r="1.15"/><circle cx="74.6" cy="76.5" r="1.15"/><circle cx="84.0" cy="63.9" r="1.15"/><circle cx="71.0" cy="77.8" r="1.15"/><circle cx="53.7" cy="79.9" r="1.15"/><circle cx="87.4" cy="70.4" r="1.15"/><circle cx="64.3" cy="69.9" r="1.15"/><circle cx="73.3" cy="86.3" r="1.15"/><circle cx="78.2" cy="63.4" r="1.15"/><circle cx="52.5" cy="65.2" r="1.15"/><circle cx="74.7" cy="74.3" r="1.15"/><circle cx="46.7" cy="85.5" r="1.15"/><circle cx="99.1" cy="69.4" r="1.15"/><circle cx="71.2" cy="83.5" r="1.15"/><circle cx="58.8" cy="77.2" r="1.15"/><circle cx="83.3" cy="60.3" r="1.15"/><circle cx="78.1" cy="64.4" r="1.15"/><circle cx="83.9" cy="75.6" r="1.15"/><circle cx="69.0" cy="68.2" r="1.15"/></g>
<text x="131.40" y="8.20" font-size="11.5" font-weight="bold" fill="#000">b</text>
<text x="202.30" y="13.00" font-size="6.1" text-anchor="middle">All cell lines</text>
<text x="202.30" y="18.80" font-size="6.1" text-anchor="middle">(without <tspan font-style="italic">STAG2</tspan> mutations, n =1018)</text>
<line x1="152.90" y1="25.50" x2="152.90" y2="122.20" stroke="#3c3c3c" stroke-width="0.7"/>
<line x1="152.90" y1="122.20" x2="252.00" y2="122.20" stroke="#3c3c3c" stroke-width="0.7"/>
<line x1="151.30" y1="34.20" x2="152.90" y2="34.20" stroke="#3c3c3c" stroke-width="0.6"/>
<text x="150.00" y="36.11" font-size="5.3" text-anchor="end">0.50</text>
<line x1="151.30" y1="46.08" x2="152.90" y2="46.08" stroke="#3c3c3c" stroke-width="0.6"/>
<text x="150.00" y="47.98" font-size="5.3" text-anchor="end">0.25</text>
<line x1="151.30" y1="57.95" x2="152.90" y2="57.95" stroke="#3c3c3c" stroke-width="0.6"/>
<text x="150.00" y="59.86" font-size="5.3" text-anchor="end">0.00</text>
<line x1="151.30" y1="69.83" x2="152.90" y2="69.83" stroke="#3c3c3c" stroke-width="0.6"/>
<text x="150.00" y="71.73" font-size="5.3" text-anchor="end">−0.25</text>
<line x1="151.30" y1="81.70" x2="152.90" y2="81.70" stroke="#3c3c3c" stroke-width="0.6"/>
<text x="150.00" y="83.61" font-size="5.3" text-anchor="end">−0.50</text>
<line x1="151.30" y1="93.58" x2="152.90" y2="93.58" stroke="#3c3c3c" stroke-width="0.6"/>
<text x="150.00" y="95.48" font-size="5.3" text-anchor="end">−0.75</text>
<line x1="151.30" y1="105.45" x2="152.90" y2="105.45" stroke="#3c3c3c" stroke-width="0.6"/>
<text x="150.00" y="107.36" font-size="5.3" text-anchor="end">−1.00</text>
<line x1="151.30" y1="117.33" x2="152.90" y2="117.33" stroke="#3c3c3c" stroke-width="0.6"/>
<text x="150.00" y="119.23" font-size="5.3" text-anchor="end">−1.25</text>
<line x1="162.35" y1="122.20" x2="162.35" y2="123.80" stroke="#3c3c3c" stroke-width="0.6"/>
<line x1="173.50" y1="122.20" x2="173.50" y2="123.80" stroke="#3c3c3c" stroke-width="0.6"/>
<text x="173.50" y="128.10" font-size="5.0" text-anchor="middle">−1.00</text>
<line x1="184.65" y1="122.20" x2="184.65" y2="123.80" stroke="#3c3c3c" stroke-width="0.6"/>
<line x1="195.80" y1="122.20" x2="195.80" y2="123.80" stroke="#3c3c3c" stroke-width="0.6"/>
<text x="195.80" y="128.10" font-size="5.0" text-anchor="middle">−0.50</text>
<line x1="206.95" y1="122.20" x2="206.95" y2="123.80" stroke="#3c3c3c" stroke-width="0.6"/>
<line x1="218.10" y1="122.20" x2="218.10" y2="123.80" stroke="#3c3c3c" stroke-width="0.6"/>
<text x="218.10" y="128.10" font-size="5.0" text-anchor="middle">0.00</text>
<line x1="229.25" y1="122.20" x2="229.25" y2="123.80" stroke="#3c3c3c" stroke-width="0.6"/>
<line x1="240.40" y1="122.20" x2="240.40" y2="123.80" stroke="#3c3c3c" stroke-width="0.6"/>
<text x="240.40" y="128.10" font-size="5.0" text-anchor="middle">0.50</text>
<text x="197.70" y="138.82" font-size="7.0" text-anchor="middle"><tspan font-style="italic">STAG2</tspan> gene effect</text>
<text transform="translate(133.00,67.60) rotate(-90)" x="0" y="2.47" font-size="6.85" text-anchor="middle"><tspan font-style="italic">PAGR1</tspan> gene effect</text>
<text x="157.40" y="35.60" font-size="6.1">r = 0.60, rho = 0.59</text>
<g fill="#3f6db5" stroke="#fff" stroke-width="0.3"><circle cx="204.7" cy="79.9" r="1.15"/><circle cx="206.3" cy="63.3" r="1.15"/><circle cx="203.6" cy="63.1" r="1.15"/><circle cx="206.3" cy="75.5" r="1.15"/><circle cx="208.9" cy="63.8" r="1.15"/><circle cx="211.5" cy="73.7" r="1.15"/><circle cx="204.7" cy="70.1" r="1.15"/><circle cx="198.4" cy="67.3" r="1.15"/><circle cx="191.1" cy="90.5" r="1.15"/><circle cx="219.8" cy="61.5" r="1.15"/><circle cx="218.4" cy="61.6" r="1.15"/><circle cx="198.0" cy="67.1" r="1.15"/><circle cx="205.2" cy="68.0" r="1.15"/><circle cx="201.2" cy="80.3" r="1.15"/><circle cx="221.3" cy="63.6" r="1.15"/><circle cx="188.4" cy="69.6" r="1.15"/><circle cx="174.6" cy="85.9" r="1.15"/><circle cx="211.1" cy="59.1" r="1.15"/><circle cx="213.2" cy="68.0" r="1.15"/><circle cx="217.6" cy="65.2" r="1.15"/><circle cx="167.0" cy="92.3" r="1.15"/><circle cx="197.7" cy="85.6" r="1.15"/><circle cx="223.6" cy="64.4" r="1.15"/><circle cx="210.0" cy="73.3" r="1.15"/><circle cx="209.2" cy="77.7" r="1.15"/><circle cx="230.6" cy="54.4" r="1.15"/><circle cx="196.0" cy="85.8" r="1.15"/><circle cx="208.9" cy="74.0" r="1.15"/><circle cx="184.2" cy="81.1" r="1.15"/><circle cx="200.4" cy="61.2" r="1.15"/><circle cx="211.9" cy="73.1" r="1.15"/><circle cx="210.6" cy="70.6" r="1.15"/><circle cx="202.2" cy="77.8" r="1.15"/><circle cx="196.2" cy="73.2" r="1.15"/><circle cx="217.6" cy="44.5" r="1.15"/><circle cx="204.8" cy="55.5" r="1.15"/><circle cx="219.3" cy="78.1" r="1.15"/><circle cx="187.2" cy="71.9" r="1.15"/><circle cx="198.9" cy="60.0" r="1.15"/><circle cx="210.6" cy="73.0" r="1.15"/><circle cx="198.1" cy="68.7" r="1.15"/><circle cx="202.3" cy="75.6" r="1.15"/><circle cx="175.9" cy="93.8" r="1.15"/><circle cx="218.1" cy="53.1" r="1.15"/><circle cx="216.5" cy="67.7" r="1.15"/><circle cx="209.5" cy="63.8" r="1.15"/><circle cx="200.7" cy="70.6" r="1.15"/><circle cx="207.8" cy="90.3" r="1.15"/><circle cx="199.6" cy="59.3" r="1.15"/><circle cx="222.8" cy="71.9" r="1.15"/><circle cx="199.8" cy="76.4" r="1.15"/><circle cx="206.4" cy="67.2" r="1.15"/><circle cx="217.6" cy="64.3" r="1.15"/><circle cx="186.1" cy="84.6" r="1.15"/><circle cx="218.8" cy="64.9" r="1.15"/><circle cx="221.1" cy="56.7" r="1.15"/><circle cx="198.5" cy="70.9" r="1.15"/><circle cx="184.6" cy="71.2" r="1.15"/><circle cx="187.2" cy="78.0" r="1.15"/><circle cx="222.4" cy="56.6" r="1.15"/><circle cx="184.6" cy="81.9" r="1.15"/><circle cx="227.8" cy="52.8" r="1.15"/><circle cx="216.8" cy="79.9" r="1.15"/><circle cx="220.1" cy="63.8" r="1.15"/><circle cx="211.8" cy="48.4" r="1.15"/><circle cx="197.1" cy="62.7" r="1.15"/><circle cx="215.9" cy="69.0" r="1.15"/><circle cx="200.2" cy="62.1" r="1.15"/><circle cx="190.0" cy="92.9" r="1.15"/><circle cx="225.1" cy="58.9" r="1.15"/><circle cx="207.3" cy="63.1" r="1.15"/><circle cx="213.3" cy="73.5" r="1.15"/><circle cx="226.7" cy="78.7" r="1.15"/><circle cx="218.5" cy="67.0" r="1.15"/><circle cx="217.7" cy="59.3" r="1.15"/><circle cx="189.3" cy="69.2" r="1.15"/><circle cx="204.6" cy="48.0" r="1.15"/><circle cx="219.0" cy="72.6" r="1.15"/><circle cx="183.6" cy="79.9" r="1.15"/><circle cx="195.2" cy="87.3" r="1.15"/><circle cx="211.1" cy="65.7" r="1.15"/><circle cx="200.3" cy="82.0" r="1.15"/><circle cx="206.2" cy="63.5" r="1.15"/><circle cx="217.5" cy="72.9" r="1.15"/><circle cx="186.8" cy="96.3" r="1.15"/><circle cx="220.0" cy="68.4" r="1.15"/><circle cx="209.4" cy="79.0" r="1.15"/><circle cx="195.1" cy="77.9" r="1.15"/><circle cx="204.5" cy="80.6" r="1.15"/><circle cx="198.9" cy="78.4" r="1.15"/><circle cx="210.9" cy="55.2" r="1.15"/><circle cx="196.4" cy="69.4" r="1.15"/><circle cx="226.9" cy="54.7" r="1.15"/><circle cx="218.8" cy="56.7" r="1.15"/><circle cx="187.1" cy="87.3" r="1.15"/><circle cx="197.7" cy="81.1" r="1.15"/><circle cx="206.8" cy="43.0" r="1.15"/><circle cx="223.4" cy="60.1" r="1.15"/><circle cx="179.4" cy="107.2" r="1.15"/><circle cx="218.9" cy="50.7" r="1.15"/><circle cx="215.9" cy="71.1" r="1.15"/><circle cx="225.7" cy="63.7" r="1.15"/><circle cx="182.5" cy="67.3" r="1.15"/><circle cx="199.4" cy="71.7" r="1.15"/><circle cx="205.3" cy="79.5" r="1.15"/><circle cx="189.9" cy="74.0" r="1.15"/><circle cx="190.4" cy="76.3" r="1.15"/><circle cx="198.7" cy="71.6" r="1.15"/><circle cx="223.6" cy="72.0" r="1.15"/><circle cx="214.0" cy="74.6" r="1.15"/><circle cx="203.9" cy="64.6" r="1.15"/><circle cx="212.7" cy="74.5" r="1.15"/><circle cx="218.5" cy="62.9" r="1.15"/><circle cx="207.7" cy="76.8" r="1.15"/><circle cx="223.4" cy="61.2" r="1.15"/><circle cx="215.4" cy="52.1" r="1.15"/><circle cx="205.7" cy="67.5" r="1.15"/><circle cx="178.0" cy="69.6" r="1.15"/><circle cx="221.5" cy="63.3" r="1.15"/><circle cx="180.2" cy="84.4" r="1.15"/><circle cx="202.8" cy="80.4" r="1.15"/><circle cx="223.2" cy="80.4" r="1.15"/><circle cx="187.0" cy="95.9" r="1.15"/><circle cx="201.3" cy="70.4" r="1.15"/><circle cx="209.4" cy="66.8" r="1.15"/><circle cx="208.9" cy="63.9" r="1.15"/><circle cx="207.9" cy="72.0" r="1.15"/><circle cx="182.6" cy="93.5" r="1.15"/><circle cx="230.8" cy="54.0" r="1.15"/><circle cx="194.7" cy="66.1" r="1.15"/><circle cx="206.9" cy="64.8" r="1.15"/><circle cx="213.9" cy="72.9" r="1.15"/><circle cx="198.6" cy="83.0" r="1.15"/><circle cx="216.3" cy="82.7" r="1.15"/><circle cx="212.9" cy="73.5" r="1.15"/><circle cx="209.3" cy="73.9" r="1.15"/><circle cx="210.5" cy="65.0" r="1.15"/><circle cx="216.5" cy="59.4" r="1.15"/><circle cx="211.4" cy="69.0" r="1.15"/><circle cx="205.9" cy="59.0" r="1.15"/><circle cx="212.8" cy="64.6" r="1.15"/><circle cx="205.0" cy="80.9" r="1.15"/><circle cx="201.4" cy="71.7" r="1.15"/><circle cx="245.5" cy="54.0" r="1.15"/><circle cx="207.4" cy="71.9" r="1.15"/><circle cx="204.5" cy="59.9" r="1.15"/><circle cx="181.6" cy="72.7" r="1.15"/><circle cx="241.8" cy="54.5" r="1.15"/><circle cx="187.9" cy="88.7" r="1.15"/><circle cx="198.5" cy="82.9" r="1.15"/><circle cx="197.3" cy="60.8" r="1.15"/><circle cx="203.7" cy="78.1" r="1.15"/><circle cx="195.4" cy="81.9" r="1.15"/><circle cx="207.8" cy="72.8" r="1.15"/><circle cx="206.4" cy="75.7" r="1.15"/><circle cx="200.5" cy="67.4" r="1.15"/><circle cx="205.3" cy="79.4" r="1.15"/><circle cx="202.9" cy="39.9" r="1.15"/><circle cx="220.0" cy="65.8" r="1.15"/><circle cx="219.7" cy="68.8" r="1.15"/><circle cx="204.2" cy="72.9" r="1.15"/><circle cx="220.4" cy="57.3" r="1.15"/><circle cx="194.6" cy="91.4" r="1.15"/><circle cx="203.9" cy="65.2" r="1.15"/><circle cx="195.7" cy="69.8" r="1.15"/><circle cx="186.8" cy="84.7" r="1.15"/><circle cx="182.1" cy="90.3" r="1.15"/><circle cx="194.3" cy="88.5" r="1.15"/><circle cx="226.1" cy="62.9" r="1.15"/><circle cx="219.3" cy="66.3" r="1.15"/><circle cx="204.9" cy="74.8" r="1.15"/><circle cx="220.2" cy="65.4" r="1.15"/><circle cx="197.0" cy="59.9" r="1.15"/><circle cx="208.5" cy="73.6" r="1.15"/><circle cx="206.6" cy="69.7" r="1.15"/><circle cx="223.5" cy="54.6" r="1.15"/><circle cx="203.6" cy="74.0" r="1.15"/><circle cx="198.4" cy="95.5" r="1.15"/><circle cx="213.7" cy="55.8" r="1.15"/><circle cx="197.3" cy="73.4" r="1.15"/><circle cx="219.0" cy="64.2" r="1.15"/><circle cx="210.5" cy="73.5" r="1.15"/><circle cx="186.5" cy="78.7" r="1.15"/><circle cx="190.7" cy="80.9" r="1.15"/><circle cx="236.5" cy="57.0" r="1.15"/><circle cx="203.6" cy="81.2" r="1.15"/><circle cx="202.1" cy="77.0" r="1.15"/><circle cx="189.4" cy="101.7" r="1.15"/><circle cx="200.9" cy="62.0" r="1.15"/><circle cx="194.2" cy="72.1" r="1.15"/><circle cx="231.1" cy="55.2" r="1.15"/><circle cx="226.2" cy="46.6" r="1.15"/><circle cx="211.9" cy="79.6" r="1.15"/><circle cx="184.6" cy="85.5" r="1.15"/><circle cx="208.1" cy="69.2" r="1.15"/><circle cx="212.7" cy="70.5" r="1.15"/><circle cx="224.4" cy="49.2" r="1.15"/><circle cx="211.7" cy="88.1" r="1.15"/><circle cx="206.9" cy="57.6" r="1.15"/><circle cx="185.5" cy="64.3" r="1.15"/><circle cx="217.6" cy="59.9" r="1.15"/><circle cx="212.3" cy="45.9" r="1.15"/><circle cx="195.3" cy="80.9" r="1.15"/><circle cx="176.0" cy="68.8" r="1.15"/><circle cx="189.7" cy="83.2" r="1.15"/><circle cx="208.7" cy="88.5" r="1.15"/><circle cx="213.1" cy="62.9" r="1.15"/><circle cx="188.9" cy="63.7" r="1.15"/><circle cx="231.0" cy="34.6" r="1.15"/><circle cx="195.8" cy="67.9" r="1.15"/><circle cx="192.7" cy="91.2" r="1.15"/><circle cx="204.9" cy="80.9" r="1.15"/><circle cx="196.7" cy="73.0" r="1.15"/><circle cx="197.8" cy="68.9" r="1.15"/><circle cx="218.5" cy="53.4" r="1.15"/><circle cx="202.6" cy="69.7" r="1.15"/><circle cx="210.0" cy="66.4" r="1.15"/><circle cx="213.7" cy="60.7" r="1.15"/><circle cx="204.5" cy="69.9" r="1.15"/><circle cx="211.7" cy="62.5" r="1.15"/><circle cx="189.8" cy="89.5" r="1.15"/><circle cx="220.3" cy="71.0" r="1.15"/><circle cx="231.8" cy="44.7" r="1.15"/><circle cx="223.5" cy="72.3" r="1.15"/><circle cx="218.7" cy="77.6" r="1.15"/><circle cx="219.1" cy="54.1" r="1.15"/><circle cx="206.6" cy="54.8" r="1.15"/><circle cx="194.6" cy="75.7" r="1.15"/><circle cx="225.2" cy="58.6" r="1.15"/><circle cx="237.9" cy="57.3" r="1.15"/><circle cx="217.9" cy="57.4" r="1.15"/><circle cx="216.9" cy="64.6" r="1.15"/><circle cx="197.0" cy="79.7" r="1.15"/><circle cx="211.7" cy="71.5" r="1.15"/><circle cx="228.2" cy="75.4" r="1.15"/><circle cx="201.8" cy="91.9" r="1.15"/><circle cx="189.6" cy="85.1" r="1.15"/><circle cx="222.7" cy="51.4" r="1.15"/><circle cx="218.1" cy="64.3" r="1.15"/><circle cx="201.5" cy="71.5" r="1.15"/><circle cx="214.4" cy="58.8" r="1.15"/><circle cx="223.8" cy="39.6" r="1.15"/><circle cx="210.2" cy="71.8" r="1.15"/><circle cx="194.3" cy="75.0" r="1.15"/><circle cx="202.7" cy="73.1" r="1.15"/><circle cx="182.9" cy="72.7" r="1.15"/><circle cx="199.1" cy="70.6" r="1.15"/><circle cx="184.9" cy="73.2" r="1.15"/><circle cx="207.5" cy="67.8" r="1.15"/><circle cx="223.9" cy="59.2" r="1.15"/><circle cx="193.4" cy="66.7" r="1.15"/><circle cx="216.4" cy="69.3" r="1.15"/><circle cx="205.7" cy="72.8" r="1.15"/><circle cx="216.9" cy="61.9" r="1.15"/><circle cx="225.1" cy="55.9" r="1.15"/><circle cx="190.4" cy="76.1" r="1.15"/><circle cx="235.1" cy="55.1" r="1.15"/><circle cx="221.0" cy="53.6" r="1.15"/><circle cx="210.0" cy="84.4" r="1.15"/><circle cx="224.2" cy="81.0" r="1.15"/><circle cx="217.9" cy="57.5" r="1.15"/><circle cx="211.7" cy="95.1" r="1.15"/><circle cx="203.1" cy="63.8" r="1.15"/><circle cx="201.9" cy="74.4" r="1.15"/><circle cx="193.4" cy="86.4" r="1.15"/><circle cx="161.3" cy="89.9" r="1.15"/><circle cx="171.6" cy="93.8" r="1.15"/><circle cx="212.0" cy="63.6" r="1.15"/><circle cx="209.9" cy="66.7" r="1.15"/><circle cx="209.8" cy="59.4" r="1.15"/><circle cx="217.7" cy="67.8" r="1.15"/><circle cx="207.2" cy="63.0" r="1.15"/><circle cx="205.5" cy="67.3" r="1.15"/><circle cx="207.7" cy="67.0" r="1.15"/><circle cx="211.7" cy="65.4" r="1.15"/><circle cx="198.8" cy="97.8" r="1.15"/><circle cx="183.6" cy="68.8" r="1.15"/><circle cx="205.5" cy="59.4" r="1.15"/><circle cx="203.6" cy="77.3" r="1.15"/><circle cx="226.2" cy="56.5" r="1.15"/><circle cx="181.6" cy="87.0" r="1.15"/><circle cx="213.4" cy="63.2" r="1.15"/><circle cx="207.7" cy="69.3" r="1.15"/><circle cx="189.5" cy="74.2" r="1.15"/><circle cx="219.4" cy="80.7" r="1.15"/><circle cx="220.9" cy="59.5" r="1.15"/><circle cx="200.1" cy="70.9" r="1.15"/><circle cx="213.7" cy="69.4" r="1.15"/><circle cx="221.4" cy="58.6" r="1.15"/><circle cx="221.0" cy="58.5" r="1.15"/><circle cx="184.6" cy="83.0" r="1.15"/><circle cx="204.8" cy="82.7" r="1.15"/><circle cx="204.3" cy="46.2" r="1.15"/><circle cx="229.3" cy="57.0" r="1.15"/><circle cx="187.4" cy="80.9" r="1.15"/><circle cx="191.8" cy="78.8" r="1.15"/><circle cx="216.7" cy="54.2" r="1.15"/><circle cx="202.3" cy="72.9" r="1.15"/><circle cx="206.2" cy="73.1" r="1.15"/><circle cx="180.5" cy="107.5" r="1.15"/><circle cx="213.7" cy="55.2" r="1.15"/><circle cx="226.9" cy="56.1" r="1.15"/><circle cx="207.7" cy="63.8" r="1.15"/><circle cx="241.3" cy="49.8" r="1.15"/><circle cx="226.0" cy="65.6" r="1.15"/><circle cx="206.7" cy="76.2" r="1.15"/><circle cx="217.0" cy="68.7" r="1.15"/><circle cx="205.0" cy="65.2" r="1.15"/><circle cx="201.2" cy="76.9" r="1.15"/><circle cx="213.4" cy="72.9" r="1.15"/><circle cx="215.2" cy="46.7" r="1.15"/><circle cx="175.5" cy="88.9" r="1.15"/><circle cx="213.8" cy="53.4" r="1.15"/><circle cx="158.0" cy="91.7" r="1.15"/><circle cx="214.9" cy="54.5" r="1.15"/><circle cx="222.9" cy="73.9" r="1.15"/><circle cx="214.5" cy="47.4" r="1.15"/><circle cx="190.4" cy="72.0" r="1.15"/><circle cx="228.2" cy="63.8" r="1.15"/><circle cx="224.5" cy="59.5" r="1.15"/><circle cx="174.4" cy="68.9" r="1.15"/><circle cx="216.5" cy="80.0" r="1.15"/><circle cx="207.1" cy="67.6" r="1.15"/><circle cx="207.7" cy="64.4" r="1.15"/><circle cx="246.1" cy="55.7" r="1.15"/><circle cx="208.3" cy="66.3" r="1.15"/><circle cx="222.9" cy="79.9" r="1.15"/><circle cx="197.3" cy="90.5" r="1.15"/><circle cx="220.8" cy="67.9" r="1.15"/><circle cx="188.8" cy="81.7" r="1.15"/><circle cx="236.3" cy="59.5" r="1.15"/><circle cx="184.0" cy="69.7" r="1.15"/><circle cx="204.6" cy="73.2" r="1.15"/><circle cx="192.4" cy="68.1" r="1.15"/><circle cx="184.3" cy="75.4" r="1.15"/><circle cx="233.5" cy="61.4" r="1.15"/><circle cx="210.5" cy="68.3" r="1.15"/><circle cx="208.8" cy="73.5" r="1.15"/><circle cx="203.6" cy="81.6" r="1.15"/><circle cx="203.7" cy="66.7" r="1.15"/><circle cx="198.0" cy="71.2" r="1.15"/><circle cx="209.4" cy="80.7" r="1.15"/><circle cx="219.1" cy="55.9" r="1.15"/><circle cx="181.0" cy="68.4" r="1.15"/><circle cx="199.9" cy="78.9" r="1.15"/><circle cx="198.1" cy="68.6" r="1.15"/><circle cx="217.7" cy="58.1" r="1.15"/><circle cx="228.1" cy="61.1" r="1.15"/><circle cx="215.6" cy="66.4" r="1.15"/><circle cx="224.0" cy="57.3" r="1.15"/><circle cx="197.6" cy="76.0" r="1.15"/><circle cx="202.7" cy="77.8" r="1.15"/><circle cx="195.6" cy="89.7" r="1.15"/><circle cx="210.1" cy="75.6" r="1.15"/><circle cx="194.5" cy="84.8" r="1.15"/><circle cx="213.2" cy="65.0" r="1.15"/><circle cx="218.7" cy="68.4" r="1.15"/><circle cx="198.0" cy="69.8" r="1.15"/><circle cx="206.7" cy="66.6" r="1.15"/><circle cx="172.4" cy="91.3" r="1.15"/><circle cx="216.6" cy="64.2" r="1.15"/><circle cx="206.5" cy="71.1" r="1.15"/><circle cx="193.6" cy="84.6" r="1.15"/><circle cx="189.3" cy="79.6" r="1.15"/><circle cx="208.4" cy="56.5" r="1.15"/><circle cx="195.0" cy="77.9" r="1.15"/><circle cx="221.1" cy="50.9" r="1.15"/><circle cx="215.9" cy="68.0" r="1.15"/><circle cx="204.4" cy="82.9" r="1.15"/><circle cx="212.0" cy="61.1" r="1.15"/><circle cx="205.7" cy="68.1" r="1.15"/><circle cx="210.7" cy="104.2" r="1.15"/><circle cx="218.8" cy="72.2" r="1.15"/><circle cx="215.9" cy="91.0" r="1.15"/><circle cx="212.2" cy="66.7" r="1.15"/><circle cx="213.5" cy="70.5" r="1.15"/><circle cx="214.4" cy="70.0" r="1.15"/><circle cx="201.4" cy="77.8" r="1.15"/><circle cx="206.6" cy="63.5" r="1.15"/><circle cx="199.4" cy="84.4" r="1.15"/><circle cx="213.6" cy="87.8" r="1.15"/><circle cx="198.3" cy="53.1" r="1.15"/><circle cx="191.6" cy="72.6" r="1.15"/><circle cx="208.0" cy="64.5" r="1.15"/><circle cx="187.6" cy="87.7" r="1.15"/><circle cx="205.8" cy="68.7" r="1.15"/><circle cx="211.0" cy="71.0" r="1.15"/><circle cx="184.9" cy="84.2" r="1.15"/><circle cx="219.0" cy="58.8" r="1.15"/><circle cx="208.7" cy="61.8" r="1.15"/><circle cx="209.3" cy="85.4" r="1.15"/><circle cx="226.8" cy="64.8" r="1.15"/><circle cx="184.0" cy="93.7" r="1.15"/><circle cx="206.5" cy="81.9" r="1.15"/><circle cx="200.6" cy="69.7" r="1.15"/><circle cx="205.8" cy="69.9" r="1.15"/><circle cx="184.1" cy="80.3" r="1.15"/><circle cx="217.1" cy="79.4" r="1.15"/><circle cx="201.0" cy="71.1" r="1.15"/><circle cx="191.3" cy="88.2" r="1.15"/><circle cx="195.2" cy="83.5" r="1.15"/><circle cx="206.1" cy="64.5" r="1.15"/><circle cx="208.1" cy="61.8" r="1.15"/><circle cx="219.7" cy="64.5" r="1.15"/><circle cx="221.6" cy="61.8" r="1.15"/><circle cx="197.6" cy="79.6" r="1.15"/><circle cx="207.9" cy="59.5" r="1.15"/><circle cx="193.1" cy="88.0" r="1.15"/><circle cx="222.0" cy="71.9" r="1.15"/><circle cx="201.7" cy="75.3" r="1.15"/><circle cx="205.2" cy="65.7" r="1.15"/><circle cx="195.4" cy="83.7" r="1.15"/><circle cx="199.9" cy="72.3" r="1.15"/><circle cx="191.3" cy="70.1" r="1.15"/><circle cx="193.5" cy="84.9" r="1.15"/><circle cx="188.2" cy="85.2" r="1.15"/><circle cx="207.2" cy="70.3" r="1.15"/><circle cx="199.5" cy="77.5" r="1.15"/><circle cx="192.5" cy="80.7" r="1.15"/><circle cx="201.3" cy="63.2" r="1.15"/><circle cx="213.3" cy="101.0" r="1.15"/><circle cx="222.2" cy="68.1" r="1.15"/><circle cx="211.9" cy="60.1" r="1.15"/><circle cx="210.1" cy="76.1" r="1.15"/><circle cx="204.6" cy="89.6" r="1.15"/><circle cx="185.0" cy="92.1" r="1.15"/><circle cx="218.7" cy="70.8" r="1.15"/><circle cx="189.6" cy="83.6" r="1.15"/><circle cx="221.9" cy="58.7" r="1.15"/><circle cx="224.3" cy="55.3" r="1.15"/><circle cx="200.1" cy="86.2" r="1.15"/><circle cx="215.4" cy="66.9" r="1.15"/><circle cx="213.2" cy="64.9" r="1.15"/><circle cx="201.0" cy="64.0" r="1.15"/><circle cx="208.0" cy="80.0" r="1.15"/><circle cx="191.3" cy="66.4" r="1.15"/><circle cx="212.3" cy="67.9" r="1.15"/><circle cx="223.8" cy="64.4" r="1.15"/><circle cx="197.4" cy="80.6" r="1.15"/><circle cx="215.8" cy="57.9" r="1.15"/><circle cx="207.5" cy="76.4" r="1.15"/><circle cx="213.9" cy="91.5" r="1.15"/><circle cx="226.3" cy="60.1" r="1.15"/><circle cx="193.1" cy="72.3" r="1.15"/><circle cx="205.0" cy="75.4" r="1.15"/><circle cx="216.9" cy="49.7" r="1.15"/><circle cx="200.5" cy="89.2" r="1.15"/><circle cx="197.1" cy="67.5" r="1.15"/><circle cx="220.7" cy="59.2" r="1.15"/><circle cx="195.0" cy="78.3" r="1.15"/><circle cx="232.8" cy="54.3" r="1.15"/><circle cx="237.7" cy="63.8" r="1.15"/><circle cx="197.2" cy="73.8" r="1.15"/><circle cx="215.3" cy="54.0" r="1.15"/><circle cx="183.6" cy="70.6" r="1.15"/><circle cx="219.7" cy="65.2" r="1.15"/><circle cx="234.7" cy="74.2" r="1.15"/><circle cx="202.4" cy="84.4" r="1.15"/><circle cx="210.9" cy="87.4" r="1.15"/><circle cx="223.9" cy="60.7" r="1.15"/><circle cx="196.0" cy="80.2" r="1.15"/><circle cx="203.4" cy="73.7" r="1.15"/><circle cx="202.8" cy="93.4" r="1.15"/><circle cx="208.3" cy="59.0" r="1.15"/><circle cx="191.9" cy="81.2" r="1.15"/><circle cx="199.2" cy="75.7" r="1.15"/><circle cx="214.4" cy="68.5" r="1.15"/><circle cx="193.6" cy="68.8" r="1.15"/><circle cx="208.6" cy="63.3" r="1.15"/><circle cx="189.5" cy="62.8" r="1.15"/><circle cx="196.9" cy="82.3" r="1.15"/><circle cx="191.0" cy="76.2" r="1.15"/><circle cx="205.2" cy="64.2" r="1.15"/><circle cx="213.3" cy="69.0" r="1.15"/><circle cx="225.9" cy="62.8" r="1.15"/><circle cx="210.5" cy="56.8" r="1.15"/><circle cx="195.0" cy="58.2" r="1.15"/><circle cx="205.5" cy="63.1" r="1.15"/><circle cx="207.9" cy="70.7" r="1.15"/><circle cx="188.4" cy="88.9" r="1.15"/><circle cx="199.2" cy="75.4" r="1.15"/><circle cx="206.6" cy="54.2" r="1.15"/><circle cx="216.4" cy="54.2" r="1.15"/><circle cx="202.8" cy="84.1" r="1.15"/><circle cx="199.2" cy="63.3" r="1.15"/><circle cx="157.0" cy="96.3" r="1.15"/><circle cx="206.5" cy="68.6" r="1.15"/><circle cx="229.2" cy="56.2" r="1.15"/><circle cx="201.7" cy="85.4" r="1.15"/><circle cx="222.4" cy="69.5" r="1.15"/><circle cx="212.8" cy="69.9" r="1.15"/><circle cx="213.6" cy="84.9" r="1.15"/><circle cx="208.0" cy="69.3" r="1.15"/><circle cx="211.5" cy="63.3" r="1.15"/><circle cx="209.9" cy="72.5" r="1.15"/><circle cx="172.5" cy="92.5" r="1.15"/><circle cx="205.6" cy="73.1" r="1.15"/><circle cx="212.6" cy="76.1" r="1.15"/><circle cx="197.4" cy="95.2" r="1.15"/><circle cx="203.5" cy="69.0" r="1.15"/><circle cx="213.1" cy="75.9" r="1.15"/><circle cx="190.3" cy="84.1" r="1.15"/><circle cx="209.2" cy="56.1" r="1.15"/><circle cx="209.4" cy="77.2" r="1.15"/><circle cx="196.1" cy="71.3" r="1.15"/><circle cx="215.6" cy="62.5" r="1.15"/><circle cx="200.1" cy="84.6" r="1.15"/><circle cx="215.3" cy="48.7" r="1.15"/><circle cx="237.1" cy="50.3" r="1.15"/><circle cx="198.2" cy="67.7" r="1.15"/><circle cx="207.9" cy="62.8" r="1.15"/><circle cx="216.1" cy="66.7" r="1.15"/><circle cx="223.9" cy="61.6" r="1.15"/><circle cx="225.6" cy="65.6" r="1.15"/><circle cx="195.5" cy="75.5" r="1.15"/><circle cx="158.0" cy="83.2" r="1.15"/><circle cx="208.8" cy="65.8" r="1.15"/><circle cx="197.4" cy="64.8" r="1.15"/><circle cx="209.7" cy="64.7" r="1.15"/><circle cx="223.2" cy="72.4" r="1.15"/><circle cx="208.6" cy="68.5" r="1.15"/><circle cx="213.8" cy="60.5" r="1.15"/><circle cx="229.6" cy="65.7" r="1.15"/><circle cx="232.9" cy="50.5" r="1.15"/><circle cx="212.5" cy="56.8" r="1.15"/><circle cx="217.9" cy="54.2" r="1.15"/><circle cx="207.2" cy="59.4" r="1.15"/><circle cx="209.4" cy="82.5" r="1.15"/><circle cx="208.6" cy="63.7" r="1.15"/><circle cx="194.6" cy="60.9" r="1.15"/><circle cx="203.7" cy="66.6" r="1.15"/><circle cx="187.0" cy="86.8" r="1.15"/><circle cx="210.1" cy="64.6" r="1.15"/><circle cx="195.8" cy="75.5" r="1.15"/><circle cx="200.2" cy="76.7" r="1.15"/><circle cx="208.3" cy="72.1" r="1.15"/><circle cx="209.5" cy="65.3" r="1.15"/><circle cx="194.9" cy="67.4" r="1.15"/><circle cx="216.4" cy="69.9" r="1.15"/><circle cx="222.4" cy="76.1" r="1.15"/><circle cx="206.1" cy="78.7" r="1.15"/><circle cx="204.1" cy="69.6" r="1.15"/><circle cx="219.1" cy="58.4" r="1.15"/><circle cx="202.2" cy="57.0" r="1.15"/><circle cx="208.9" cy="71.4" r="1.15"/><circle cx="213.9" cy="58.1" r="1.15"/><circle cx="186.2" cy="76.0" r="1.15"/><circle cx="211.9" cy="62.6" r="1.15"/><circle cx="210.6" cy="69.7" r="1.15"/><circle cx="224.1" cy="60.5" r="1.15"/><circle cx="224.2" cy="57.1" r="1.15"/><circle cx="188.7" cy="85.4" r="1.15"/><circle cx="210.9" cy="77.6" r="1.15"/><circle cx="202.2" cy="75.0" r="1.15"/><circle cx="206.4" cy="68.5" r="1.15"/><circle cx="221.6" cy="73.4" r="1.15"/><circle cx="194.1" cy="86.1" r="1.15"/><circle cx="203.4" cy="85.7" r="1.15"/><circle cx="199.7" cy="75.5" r="1.15"/><circle cx="207.6" cy="73.8" r="1.15"/><circle cx="216.0" cy="69.5" r="1.15"/><circle cx="183.7" cy="70.8" r="1.15"/><circle cx="210.7" cy="62.8" r="1.15"/><circle cx="192.3" cy="71.5" r="1.15"/><circle cx="215.5" cy="53.1" r="1.15"/><circle cx="200.2" cy="76.3" r="1.15"/><circle cx="211.6" cy="65.4" r="1.15"/><circle cx="218.1" cy="67.2" r="1.15"/><circle cx="201.3" cy="73.8" r="1.15"/><circle cx="186.7" cy="83.4" r="1.15"/><circle cx="219.9" cy="50.5" r="1.15"/><circle cx="209.2" cy="79.6" r="1.15"/><circle cx="206.3" cy="71.9" r="1.15"/><circle cx="211.0" cy="54.4" r="1.15"/><circle cx="190.5" cy="76.6" r="1.15"/><circle cx="212.1" cy="57.9" r="1.15"/><circle cx="208.8" cy="64.3" r="1.15"/><circle cx="204.7" cy="68.0" r="1.15"/><circle cx="222.5" cy="57.1" r="1.15"/><circle cx="193.7" cy="96.8" r="1.15"/><circle cx="227.4" cy="62.5" r="1.15"/><circle cx="204.9" cy="67.4" r="1.15"/><circle cx="211.5" cy="84.1" r="1.15"/><circle cx="210.2" cy="43.4" r="1.15"/><circle cx="206.2" cy="90.2" r="1.15"/><circle cx="203.3" cy="64.2" r="1.15"/><circle cx="196.4" cy="79.5" r="1.15"/><circle cx="197.9" cy="72.5" r="1.15"/><circle cx="217.1" cy="62.5" r="1.15"/><circle cx="215.9" cy="71.2" r="1.15"/><circle cx="219.7" cy="64.1" r="1.15"/><circle cx="205.0" cy="65.3" r="1.15"/><circle cx="193.6" cy="79.0" r="1.15"/><circle cx="227.4" cy="58.7" r="1.15"/><circle cx="193.3" cy="87.4" r="1.15"/><circle cx="218.3" cy="60.4" r="1.15"/><circle cx="211.7" cy="64.5" r="1.15"/><circle cx="214.2" cy="47.8" r="1.15"/><circle cx="227.7" cy="58.5" r="1.15"/><circle cx="179.2" cy="106.3" r="1.15"/><circle cx="223.5" cy="72.8" r="1.15"/><circle cx="199.7" cy="72.8" r="1.15"/><circle cx="220.0" cy="64.4" r="1.15"/><circle cx="208.1" cy="51.6" r="1.15"/><circle cx="219.7" cy="72.3" r="1.15"/><circle cx="213.4" cy="80.2" r="1.15"/><circle cx="206.1" cy="73.5" r="1.15"/><circle cx="207.3" cy="72.8" r="1.15"/><circle cx="218.0" cy="53.9" r="1.15"/><circle cx="199.9" cy="62.1" r="1.15"/><circle cx="203.0" cy="65.5" r="1.15"/><circle cx="176.5" cy="89.9" r="1.15"/><circle cx="208.5" cy="75.0" r="1.15"/><circle cx="204.0" cy="72.4" r="1.15"/><circle cx="208.7" cy="83.2" r="1.15"/><circle cx="215.7" cy="68.6" r="1.15"/><circle cx="211.3" cy="68.0" r="1.15"/><circle cx="208.6" cy="71.9" r="1.15"/><circle cx="232.3" cy="59.2" r="1.15"/><circle cx="218.3" cy="66.3" r="1.15"/><circle cx="217.7" cy="55.7" r="1.15"/><circle cx="192.9" cy="75.7" r="1.15"/><circle cx="215.2" cy="71.7" r="1.15"/><circle cx="208.7" cy="75.1" r="1.15"/><circle cx="209.2" cy="60.8" r="1.15"/><circle cx="222.8" cy="68.8" r="1.15"/><circle cx="209.8" cy="74.4" r="1.15"/><circle cx="200.1" cy="74.2" r="1.15"/><circle cx="224.3" cy="69.1" r="1.15"/><circle cx="197.3" cy="73.0" r="1.15"/><circle cx="219.8" cy="69.6" r="1.15"/><circle cx="228.6" cy="58.2" r="1.15"/><circle cx="215.6" cy="60.3" r="1.15"/><circle cx="207.8" cy="60.3" r="1.15"/><circle cx="211.3" cy="61.6" r="1.15"/><circle cx="192.4" cy="72.9" r="1.15"/><circle cx="212.9" cy="78.9" r="1.15"/><circle cx="232.5" cy="68.1" r="1.15"/><circle cx="196.5" cy="76.8" r="1.15"/><circle cx="216.1" cy="67.7" r="1.15"/><circle cx="207.3" cy="71.4" r="1.15"/><circle cx="198.3" cy="69.0" r="1.15"/><circle cx="205.2" cy="61.6" r="1.15"/><circle cx="207.4" cy="67.8" r="1.15"/><circle cx="205.8" cy="63.1" r="1.15"/><circle cx="179.3" cy="94.8" r="1.15"/><circle cx="196.8" cy="78.2" r="1.15"/><circle cx="213.7" cy="65.1" r="1.15"/><circle cx="202.5" cy="72.7" r="1.15"/><circle cx="212.7" cy="64.5" r="1.15"/><circle cx="196.7" cy="64.5" r="1.15"/><circle cx="188.9" cy="75.0" r="1.15"/><circle cx="181.0" cy="78.1" r="1.15"/><circle cx="218.2" cy="62.1" r="1.15"/><circle cx="204.3" cy="66.5" r="1.15"/><circle cx="204.6" cy="72.3" r="1.15"/><circle cx="185.8" cy="76.3" r="1.15"/><circle cx="185.3" cy="74.0" r="1.15"/><circle cx="219.1" cy="52.5" r="1.15"/><circle cx="179.4" cy="85.5" r="1.15"/><circle cx="218.4" cy="61.8" r="1.15"/><circle cx="167.9" cy="88.4" r="1.15"/><circle cx="189.9" cy="70.8" r="1.15"/><circle cx="204.7" cy="88.4" r="1.15"/><circle cx="232.5" cy="60.3" r="1.15"/><circle cx="225.3" cy="69.2" r="1.15"/><circle cx="219.6" cy="59.2" r="1.15"/><circle cx="223.7" cy="43.4" r="1.15"/><circle cx="223.4" cy="66.5" r="1.15"/><circle cx="215.3" cy="57.4" r="1.15"/><circle cx="237.5" cy="62.5" r="1.15"/><circle cx="215.7" cy="77.7" r="1.15"/><circle cx="217.2" cy="66.9" r="1.15"/><circle cx="200.7" cy="69.1" r="1.15"/><circle cx="214.4" cy="43.4" r="1.15"/><circle cx="192.3" cy="71.0" r="1.15"/><circle cx="215.1" cy="58.0" r="1.15"/><circle cx="198.8" cy="65.0" r="1.15"/><circle cx="219.4" cy="57.9" r="1.15"/><circle cx="198.7" cy="75.4" r="1.15"/><circle cx="209.0" cy="60.1" r="1.15"/><circle cx="222.1" cy="59.8" r="1.15"/><circle cx="220.7" cy="57.6" r="1.15"/><circle cx="195.2" cy="46.1" r="1.15"/><circle cx="191.7" cy="67.4" r="1.15"/><circle cx="201.3" cy="78.0" r="1.15"/><circle cx="237.8" cy="56.3" r="1.15"/><circle cx="217.1" cy="63.3" r="1.15"/><circle cx="207.4" cy="78.6" r="1.15"/><circle cx="198.6" cy="91.5" r="1.15"/><circle cx="219.2" cy="59.9" r="1.15"/><circle cx="224.2" cy="68.4" r="1.15"/><circle cx="212.3" cy="59.9" r="1.15"/><circle cx="240.2" cy="47.9" r="1.15"/><circle cx="208.2" cy="61.3" r="1.15"/><circle cx="208.8" cy="81.5" r="1.15"/><circle cx="177.5" cy="83.4" r="1.15"/><circle cx="214.8" cy="48.8" r="1.15"/><circle cx="227.0" cy="67.5" r="1.15"/><circle cx="221.3" cy="46.5" r="1.15"/><circle cx="207.4" cy="67.6" r="1.15"/><circle cx="199.3" cy="85.4" r="1.15"/><circle cx="209.4" cy="78.1" r="1.15"/><circle cx="224.5" cy="74.8" r="1.15"/><circle cx="225.6" cy="48.2" r="1.15"/><circle cx="193.7" cy="78.4" r="1.15"/><circle cx="211.5" cy="70.2" r="1.15"/><circle cx="219.9" cy="65.2" r="1.15"/><circle cx="222.7" cy="65.3" r="1.15"/><circle cx="219.1" cy="72.1" r="1.15"/><circle cx="201.8" cy="65.0" r="1.15"/><circle cx="222.7" cy="62.3" r="1.15"/><circle cx="185.3" cy="84.4" r="1.15"/><circle cx="196.3" cy="65.9" r="1.15"/><circle cx="224.4" cy="80.2" r="1.15"/><circle cx="171.7" cy="81.5" r="1.15"/><circle cx="166.6" cy="79.6" r="1.15"/><circle cx="196.3" cy="75.0" r="1.15"/><circle cx="197.2" cy="79.3" r="1.15"/><circle cx="193.6" cy="78.7" r="1.15"/><circle cx="217.0" cy="70.6" r="1.15"/><circle cx="191.6" cy="65.8" r="1.15"/><circle cx="184.4" cy="79.8" r="1.15"/><circle cx="209.6" cy="70.5" r="1.15"/><circle cx="215.9" cy="73.9" r="1.15"/><circle cx="232.9" cy="57.3" r="1.15"/><circle cx="239.3" cy="64.9" r="1.15"/><circle cx="202.3" cy="71.4" r="1.15"/><circle cx="194.6" cy="74.1" r="1.15"/><circle cx="222.3" cy="65.9" r="1.15"/><circle cx="214.6" cy="74.0" r="1.15"/><circle cx="216.6" cy="71.0" r="1.15"/><circle cx="198.0" cy="95.8" r="1.15"/><circle cx="185.7" cy="79.7" r="1.15"/><circle cx="198.2" cy="77.6" r="1.15"/><circle cx="194.4" cy="83.4" r="1.15"/><circle cx="228.7" cy="58.8" r="1.15"/><circle cx="207.7" cy="74.2" r="1.15"/><circle cx="169.0" cy="108.0" r="1.15"/><circle cx="206.8" cy="71.1" r="1.15"/><circle cx="206.0" cy="67.0" r="1.15"/><circle cx="223.7" cy="63.0" r="1.15"/><circle cx="196.0" cy="69.1" r="1.15"/><circle cx="207.2" cy="62.3" r="1.15"/><circle cx="201.2" cy="77.3" r="1.15"/><circle cx="234.5" cy="66.0" r="1.15"/><circle cx="200.6" cy="70.3" r="1.15"/><circle cx="200.8" cy="72.2" r="1.15"/><circle cx="195.9" cy="66.5" r="1.15"/><circle cx="201.6" cy="81.4" r="1.15"/><circle cx="223.4" cy="61.4" r="1.15"/><circle cx="218.4" cy="56.8" r="1.15"/><circle cx="205.8" cy="76.8" r="1.15"/><circle cx="188.2" cy="85.8" r="1.15"/><circle cx="213.7" cy="70.1" r="1.15"/><circle cx="177.4" cy="98.5" r="1.15"/><circle cx="197.3" cy="75.9" r="1.15"/><circle cx="186.7" cy="67.0" r="1.15"/><circle cx="198.0" cy="75.5" r="1.15"/><circle cx="215.6" cy="66.8" r="1.15"/><circle cx="206.8" cy="63.4" r="1.15"/><circle cx="182.7" cy="79.9" r="1.15"/><circle cx="209.3" cy="57.1" r="1.15"/><circle cx="231.2" cy="69.3" r="1.15"/><circle cx="214.5" cy="58.8" r="1.15"/><circle cx="211.8" cy="65.7" r="1.15"/><circle cx="194.1" cy="89.0" r="1.15"/><circle cx="214.0" cy="65.2" r="1.15"/><circle cx="222.6" cy="70.2" r="1.15"/><circle cx="227.4" cy="50.7" r="1.15"/><circle cx="214.5" cy="85.8" r="1.15"/><circle cx="222.1" cy="49.7" r="1.15"/><circle cx="205.0" cy="70.9" r="1.15"/><circle cx="233.8" cy="49.1" r="1.15"/><circle cx="217.7" cy="59.9" r="1.15"/><circle cx="217.4" cy="63.1" r="1.15"/><circle cx="196.3" cy="82.3" r="1.15"/><circle cx="201.2" cy="70.1" r="1.15"/><circle cx="221.5" cy="49.5" r="1.15"/><circle cx="208.3" cy="82.4" r="1.15"/><circle cx="214.4" cy="77.7" r="1.15"/><circle cx="188.9" cy="68.5" r="1.15"/><circle cx="224.7" cy="69.1" r="1.15"/><circle cx="186.0" cy="93.6" r="1.15"/><circle cx="204.1" cy="56.0" r="1.15"/><circle cx="202.6" cy="63.3" r="1.15"/><circle cx="186.1" cy="87.5" r="1.15"/><circle cx="198.7" cy="56.8" r="1.15"/><circle cx="222.8" cy="50.9" r="1.15"/><circle cx="220.5" cy="62.6" r="1.15"/><circle cx="229.7" cy="71.1" r="1.15"/><circle cx="203.6" cy="83.5" r="1.15"/><circle cx="211.0" cy="63.3" r="1.15"/><circle cx="218.9" cy="60.5" r="1.15"/><circle cx="165.2" cy="97.0" r="1.15"/><circle cx="216.8" cy="69.8" r="1.15"/><circle cx="179.7" cy="98.9" r="1.15"/><circle cx="221.2" cy="70.2" r="1.15"/><circle cx="213.3" cy="69.4" r="1.15"/><circle cx="216.1" cy="66.9" r="1.15"/><circle cx="203.5" cy="71.0" r="1.15"/><circle cx="204.5" cy="58.4" r="1.15"/><circle cx="202.6" cy="76.3" r="1.15"/><circle cx="217.5" cy="52.7" r="1.15"/><circle cx="211.4" cy="63.3" r="1.15"/><circle cx="211.5" cy="68.9" r="1.15"/><circle cx="225.9" cy="65.9" r="1.15"/><circle cx="220.2" cy="78.5" r="1.15"/><circle cx="208.0" cy="65.1" r="1.15"/><circle cx="222.9" cy="68.7" r="1.15"/><circle cx="207.8" cy="77.1" r="1.15"/><circle cx="190.8" cy="79.4" r="1.15"/><circle cx="211.3" cy="71.0" r="1.15"/><circle cx="210.6" cy="70.9" r="1.15"/><circle cx="224.5" cy="53.3" r="1.15"/><circle cx="214.3" cy="65.1" r="1.15"/><circle cx="205.8" cy="60.2" r="1.15"/><circle cx="204.4" cy="69.4" r="1.15"/><circle cx="208.2" cy="55.8" r="1.15"/><circle cx="219.2" cy="57.4" r="1.15"/><circle cx="213.6" cy="61.5" r="1.15"/><circle cx="215.6" cy="55.8" r="1.15"/><circle cx="223.3" cy="69.9" r="1.15"/><circle cx="214.0" cy="67.5" r="1.15"/><circle cx="210.3" cy="77.1" r="1.15"/><circle cx="216.5" cy="73.4" r="1.15"/><circle cx="214.5" cy="62.4" r="1.15"/><circle cx="225.1" cy="57.2" r="1.15"/><circle cx="214.2" cy="62.7" r="1.15"/><circle cx="203.4" cy="70.0" r="1.15"/><circle cx="192.2" cy="92.8" r="1.15"/><circle cx="221.7" cy="59.9" r="1.15"/><circle cx="195.3" cy="83.0" r="1.15"/><circle cx="229.2" cy="63.4" r="1.15"/><circle cx="214.7" cy="63.1" r="1.15"/><circle cx="173.6" cy="103.8" r="1.15"/><circle cx="208.7" cy="73.2" r="1.15"/><circle cx="190.9" cy="90.7" r="1.15"/><circle cx="214.3" cy="53.1" r="1.15"/><circle cx="213.4" cy="79.0" r="1.15"/><circle cx="202.5" cy="74.9" r="1.15"/><circle cx="219.8" cy="49.9" r="1.15"/><circle cx="207.1" cy="72.9" r="1.15"/><circle cx="198.1" cy="45.9" r="1.15"/><circle cx="233.2" cy="59.2" r="1.15"/><circle cx="191.9" cy="79.9" r="1.15"/><circle cx="207.1" cy="78.0" r="1.15"/><circle cx="234.7" cy="69.2" r="1.15"/><circle cx="223.9" cy="63.2" r="1.15"/><circle cx="222.6" cy="57.0" r="1.15"/><circle cx="224.1" cy="64.3" r="1.15"/><circle cx="198.7" cy="91.2" r="1.15"/><circle cx="223.6" cy="59.7" r="1.15"/><circle cx="199.1" cy="66.0" r="1.15"/><circle cx="219.0" cy="72.7" r="1.15"/><circle cx="175.6" cy="98.1" r="1.15"/><circle cx="195.8" cy="73.5" r="1.15"/><circle cx="219.6" cy="83.3" r="1.15"/><circle cx="217.2" cy="42.8" r="1.15"/><circle cx="199.1" cy="73.8" r="1.15"/><circle cx="197.4" cy="67.9" r="1.15"/><circle cx="197.2" cy="87.0" r="1.15"/><circle cx="220.8" cy="63.4" r="1.15"/><circle cx="189.2" cy="70.7" r="1.15"/><circle cx="212.4" cy="55.2" r="1.15"/><circle cx="194.7" cy="57.0" r="1.15"/><circle cx="195.9" cy="84.4" r="1.15"/><circle cx="219.0" cy="79.9" r="1.15"/><circle cx="208.6" cy="56.9" r="1.15"/><circle cx="213.6" cy="69.7" r="1.15"/><circle cx="189.5" cy="61.8" r="1.15"/><circle cx="215.8" cy="81.4" r="1.15"/><circle cx="214.3" cy="50.0" r="1.15"/><circle cx="219.6" cy="70.0" r="1.15"/><circle cx="224.6" cy="67.8" r="1.15"/><circle cx="232.3" cy="42.9" r="1.15"/><circle cx="213.3" cy="74.0" r="1.15"/><circle cx="187.2" cy="68.5" r="1.15"/><circle cx="200.4" cy="76.4" r="1.15"/><circle cx="204.3" cy="69.3" r="1.15"/><circle cx="215.8" cy="62.7" r="1.15"/><circle cx="184.2" cy="80.0" r="1.15"/><circle cx="216.4" cy="64.2" r="1.15"/><circle cx="218.1" cy="69.1" r="1.15"/><circle cx="185.1" cy="76.4" r="1.15"/><circle cx="198.6" cy="69.0" r="1.15"/><circle cx="225.8" cy="54.7" r="1.15"/><circle cx="196.3" cy="98.8" r="1.15"/><circle cx="210.6" cy="62.2" r="1.15"/><circle cx="206.7" cy="68.3" r="1.15"/><circle cx="213.4" cy="57.3" r="1.15"/><circle cx="216.8" cy="77.9" r="1.15"/><circle cx="206.9" cy="49.9" r="1.15"/><circle cx="233.1" cy="60.6" r="1.15"/><circle cx="190.0" cy="73.6" r="1.15"/><circle cx="224.3" cy="59.6" r="1.15"/><circle cx="208.7" cy="77.9" r="1.15"/><circle cx="212.3" cy="54.5" r="1.15"/><circle cx="203.7" cy="75.1" r="1.15"/><circle cx="207.6" cy="69.4" r="1.15"/><circle cx="210.2" cy="79.8" r="1.15"/><circle cx="205.9" cy="55.6" r="1.15"/><circle cx="232.5" cy="63.4" r="1.15"/><circle cx="205.6" cy="81.0" r="1.15"/><circle cx="232.7" cy="48.6" r="1.15"/><circle cx="216.4" cy="70.7" r="1.15"/><circle cx="198.5" cy="66.1" r="1.15"/><circle cx="210.7" cy="73.3" r="1.15"/><circle cx="201.4" cy="78.4" r="1.15"/><circle cx="239.8" cy="55.0" r="1.15"/><circle cx="210.2" cy="72.8" r="1.15"/><circle cx="217.8" cy="54.4" r="1.15"/><circle cx="212.1" cy="72.7" r="1.15"/><circle cx="230.0" cy="75.1" r="1.15"/><circle cx="227.6" cy="52.1" r="1.15"/><circle cx="196.7" cy="64.2" r="1.15"/><circle cx="201.1" cy="55.9" r="1.15"/><circle cx="181.5" cy="81.7" r="1.15"/><circle cx="200.5" cy="75.6" r="1.15"/><circle cx="189.1" cy="68.1" r="1.15"/><circle cx="241.8" cy="51.3" r="1.15"/><circle cx="192.8" cy="67.9" r="1.15"/><circle cx="216.7" cy="56.6" r="1.15"/><circle cx="186.1" cy="91.3" r="1.15"/><circle cx="224.3" cy="48.7" r="1.15"/><circle cx="209.2" cy="53.6" r="1.15"/><circle cx="219.3" cy="65.0" r="1.15"/><circle cx="197.4" cy="70.1" r="1.15"/><circle cx="181.6" cy="78.5" r="1.15"/><circle cx="204.5" cy="67.8" r="1.15"/><circle cx="191.6" cy="80.0" r="1.15"/><circle cx="201.4" cy="67.3" r="1.15"/><circle cx="218.8" cy="69.7" r="1.15"/><circle cx="209.9" cy="79.4" r="1.15"/><circle cx="206.6" cy="61.6" r="1.15"/><circle cx="204.0" cy="85.2" r="1.15"/><circle cx="200.4" cy="65.7" r="1.15"/><circle cx="217.0" cy="67.1" r="1.15"/><circle cx="222.9" cy="63.4" r="1.15"/><circle cx="199.2" cy="78.2" r="1.15"/><circle cx="218.7" cy="70.9" r="1.15"/><circle cx="196.5" cy="64.7" r="1.15"/><circle cx="236.5" cy="42.4" r="1.15"/><circle cx="212.4" cy="70.0" r="1.15"/><circle cx="219.2" cy="62.9" r="1.15"/><circle cx="194.6" cy="70.7" r="1.15"/><circle cx="212.9" cy="58.3" r="1.15"/><circle cx="218.2" cy="68.1" r="1.15"/><circle cx="200.7" cy="82.5" r="1.15"/><circle cx="193.6" cy="80.8" r="1.15"/><circle cx="210.4" cy="68.0" r="1.15"/><circle cx="207.9" cy="85.2" r="1.15"/><circle cx="216.5" cy="58.1" r="1.15"/><circle cx="207.6" cy="69.4" r="1.15"/><circle cx="204.4" cy="69.4" r="1.15"/><circle cx="190.4" cy="81.3" r="1.15"/><circle cx="198.4" cy="70.2" r="1.15"/><circle cx="205.9" cy="82.5" r="1.15"/><circle cx="200.8" cy="67.3" r="1.15"/><circle cx="198.7" cy="76.6" r="1.15"/><circle cx="209.6" cy="69.9" r="1.15"/><circle cx="209.8" cy="61.3" r="1.15"/><circle cx="214.7" cy="75.6" r="1.15"/><circle cx="207.3" cy="77.1" r="1.15"/><circle cx="190.2" cy="77.0" r="1.15"/><circle cx="193.7" cy="79.4" r="1.15"/><circle cx="211.7" cy="64.8" r="1.15"/><circle cx="219.4" cy="63.1" r="1.15"/><circle cx="235.2" cy="70.5" r="1.15"/><circle cx="209.8" cy="73.4" r="1.15"/><circle cx="194.3" cy="60.0" r="1.15"/><circle cx="214.7" cy="65.4" r="1.15"/><circle cx="210.0" cy="55.0" r="1.15"/><circle cx="221.8" cy="58.4" r="1.15"/><circle cx="172.2" cy="88.6" r="1.15"/><circle cx="196.7" cy="84.9" r="1.15"/><circle cx="206.6" cy="92.2" r="1.15"/><circle cx="221.1" cy="63.8" r="1.15"/><circle cx="215.4" cy="69.8" r="1.15"/><circle cx="209.5" cy="85.7" r="1.15"/><circle cx="220.1" cy="70.7" r="1.15"/><circle cx="207.0" cy="79.3" r="1.15"/><circle cx="199.9" cy="68.4" r="1.15"/><circle cx="205.6" cy="79.5" r="1.15"/><circle cx="195.8" cy="79.8" r="1.15"/><circle cx="217.7" cy="67.7" r="1.15"/><circle cx="197.1" cy="69.9" r="1.15"/><circle cx="223.5" cy="50.2" r="1.15"/><circle cx="195.9" cy="75.8" r="1.15"/><circle cx="222.1" cy="52.6" r="1.15"/><circle cx="204.2" cy="68.3" r="1.15"/><circle cx="206.2" cy="63.2" r="1.15"/><circle cx="178.6" cy="62.9" r="1.15"/><circle cx="212.7" cy="53.5" r="1.15"/><circle cx="222.2" cy="76.1" r="1.15"/><circle cx="208.2" cy="53.6" r="1.15"/><circle cx="235.2" cy="52.4" r="1.15"/><circle cx="227.9" cy="54.8" r="1.15"/><circle cx="166.5" cy="100.5" r="1.15"/><circle cx="214.8" cy="80.6" r="1.15"/><circle cx="218.9" cy="61.4" r="1.15"/><circle cx="211.9" cy="90.1" r="1.15"/><circle cx="195.6" cy="92.0" r="1.15"/><circle cx="214.0" cy="65.9" r="1.15"/><circle cx="209.0" cy="74.8" r="1.15"/><circle cx="235.7" cy="59.1" r="1.15"/><circle cx="210.6" cy="63.8" r="1.15"/><circle cx="184.1" cy="77.9" r="1.15"/><circle cx="197.4" cy="75.5" r="1.15"/><circle cx="205.3" cy="77.5" r="1.15"/><circle cx="211.1" cy="65.2" r="1.15"/><circle cx="223.4" cy="59.0" r="1.15"/><circle cx="229.9" cy="56.7" r="1.15"/><circle cx="197.5" cy="69.6" r="1.15"/><circle cx="224.6" cy="59.6" r="1.15"/><circle cx="202.8" cy="72.7" r="1.15"/><circle cx="186.7" cy="93.7" r="1.15"/><circle cx="212.6" cy="80.2" r="1.15"/></g>
<text x="255.60" y="8.60" font-size="12" font-weight="bold" fill="#000">c</text>
<text x="320.60" y="13.00" font-size="6.1" text-anchor="middle">All cell lines</text>
<text x="318.70" y="18.80" font-size="6.1" text-anchor="middle">(without <tspan font-style="italic">STAG2</tspan> mutations, n =1018)</text>
<line x1="274.50" y1="25.30" x2="274.50" y2="122.00" stroke="#3c3c3c" stroke-width="0.7"/>
<line x1="274.50" y1="122.00" x2="358.40" y2="122.00" stroke="#3c3c3c" stroke-width="0.7"/>
<line x1="272.90" y1="121.90" x2="274.50" y2="121.90" stroke="#3c3c3c" stroke-width="0.6"/>
<text x="272.00" y="123.70" font-size="5.0" text-anchor="end">0</text>
<line x1="272.90" y1="108.77" x2="274.50" y2="108.77" stroke="#3c3c3c" stroke-width="0.6"/>
<text x="272.00" y="110.57" font-size="5.0" text-anchor="end">1</text>
<line x1="272.90" y1="95.64" x2="274.50" y2="95.64" stroke="#3c3c3c" stroke-width="0.6"/>
<text x="272.00" y="97.44" font-size="5.0" text-anchor="end">2</text>
<line x1="272.90" y1="82.51" x2="274.50" y2="82.51" stroke="#3c3c3c" stroke-width="0.6"/>
<text x="272.00" y="84.31" font-size="5.0" text-anchor="end">3</text>
<line x1="272.90" y1="69.38" x2="274.50" y2="69.38" stroke="#3c3c3c" stroke-width="0.6"/>
<text x="272.00" y="71.18" font-size="5.0" text-anchor="end">4</text>
<line x1="272.90" y1="56.25" x2="274.50" y2="56.25" stroke="#3c3c3c" stroke-width="0.6"/>
<text x="272.00" y="58.05" font-size="5.0" text-anchor="end">5</text>
<line x1="272.90" y1="43.12" x2="274.50" y2="43.12" stroke="#3c3c3c" stroke-width="0.6"/>
<text x="272.00" y="44.92" font-size="5.0" text-anchor="end">6</text>
<line x1="272.90" y1="29.99" x2="274.50" y2="29.99" stroke="#3c3c3c" stroke-width="0.6"/>
<text x="272.00" y="31.79" font-size="5.0" text-anchor="end">7</text>
<line x1="278.40" y1="122.00" x2="278.40" y2="123.60" stroke="#3c3c3c" stroke-width="0.6"/>
<text x="278.40" y="128.00" font-size="5.0" text-anchor="middle">−1.0</text>
<line x1="289.55" y1="122.00" x2="289.55" y2="123.60" stroke="#3c3c3c" stroke-width="0.6"/>
<line x1="300.70" y1="122.00" x2="300.70" y2="123.60" stroke="#3c3c3c" stroke-width="0.6"/>
<text x="300.70" y="128.00" font-size="5.0" text-anchor="middle">−0.5</text>
<line x1="311.85" y1="122.00" x2="311.85" y2="123.60" stroke="#3c3c3c" stroke-width="0.6"/>
<line x1="323.00" y1="122.00" x2="323.00" y2="123.60" stroke="#3c3c3c" stroke-width="0.6"/>
<text x="323.00" y="128.00" font-size="5.0" text-anchor="middle">0.0</text>
<line x1="334.15" y1="122.00" x2="334.15" y2="123.60" stroke="#3c3c3c" stroke-width="0.6"/>
<line x1="345.30" y1="122.00" x2="345.30" y2="123.60" stroke="#3c3c3c" stroke-width="0.6"/>
<text x="345.30" y="128.00" font-size="5.0" text-anchor="middle">0.5</text>
<line x1="356.45" y1="122.00" x2="356.45" y2="123.60" stroke="#3c3c3c" stroke-width="0.6"/>
<text x="312.30" y="138.92" font-size="7.0" text-anchor="middle">Spearman's r</text>
<text transform="translate(258.00,67.50) rotate(-90)" x="0" y="2.52" font-size="7.0" text-anchor="middle">Frequency</text>
<path d="M310.51,122.00 L310.51,121.87 L310.72,121.86 L310.93,121.85 L311.14,121.84 L311.34,121.83 L311.55,121.81 L311.76,121.79 L311.97,121.76 L312.18,121.73 L312.39,121.69 L312.59,121.64 L312.80,121.58 L313.01,121.51 L313.22,121.42 L313.43,121.32 L313.63,121.19 L313.84,121.05 L314.05,120.88 L314.26,120.67 L314.47,120.43 L314.67,120.15 L314.88,119.82 L315.09,119.44 L315.30,119.00 L315.51,118.49 L315.72,117.91 L315.92,117.24 L316.13,116.47 L316.34,115.60 L316.55,114.62 L316.76,113.52 L316.96,112.28 L317.17,110.89 L317.38,109.35 L317.59,107.65 L317.80,105.78 L318.00,103.72 L318.21,101.48 L318.42,99.04 L318.63,96.42 L318.84,93.60 L319.05,90.58 L319.25,87.39 L319.46,84.02 L319.67,80.48 L319.88,76.80 L320.09,73.00 L320.29,69.10 L320.50,65.13 L320.71,61.13 L320.92,57.14 L321.13,53.21 L321.33,49.38 L321.54,45.71 L321.75,42.26 L321.96,39.08 L322.17,36.24 L322.38,33.82 L322.58,31.90 L322.79,30.56 L323.00,29.99 L323.21,30.56 L323.42,31.90 L323.62,33.82 L323.83,36.24 L324.04,39.08 L324.25,42.26 L324.46,45.71 L324.67,49.38 L324.87,53.21 L325.08,57.14 L325.29,61.13 L325.50,65.13 L325.71,69.10 L325.91,73.00 L326.12,76.80 L326.33,80.48 L326.54,84.02 L326.75,87.39 L326.95,90.58 L327.16,93.60 L327.37,96.42 L327.58,99.04 L327.79,101.48 L328.00,103.72 L328.20,105.78 L328.41,107.65 L328.62,109.35 L328.83,110.89 L329.04,112.28 L329.24,113.52 L329.45,114.62 L329.66,115.60 L329.87,116.47 L330.08,117.24 L330.28,117.91 L330.49,118.49 L330.70,119.00 L330.91,119.44 L331.12,119.82 L331.33,120.15 L331.53,120.43 L331.74,120.67 L331.95,120.88 L332.16,121.05 L332.37,121.19 L332.57,121.32 L332.78,121.42 L332.99,121.51 L333.20,121.58 L333.41,121.64 L333.61,121.69 L333.82,121.73 L334.03,121.76 L334.24,121.79 L334.45,121.81 L334.66,121.83 L334.86,121.84 L335.07,121.85 L335.28,121.86 L335.49,121.87 L335.49,122.00 Z" fill="#5a8bcc"/>
<rect x="325.50" y="102.40" width="20.80" height="13.10" fill="#fff" stroke="#777" stroke-width="0.5"/>
<text x="335.90" y="107.69" font-size="5.8" text-anchor="middle" font-style="italic">STAG2</text>
<text x="335.90" y="114.09" font-size="5.8" text-anchor="middle" font-style="italic">PAGR1</text>
<rect x="352.30" y="102.40" width="22.70" height="12.60" fill="#fff" stroke="#777" stroke-width="0.5"/>
<text x="363.60" y="107.69" font-size="5.8" text-anchor="middle" font-style="italic">STAG2</text>
<text x="363.60" y="114.09" font-size="5.8" text-anchor="middle" font-style="italic">PAXIP1</text>
<line x1="346.30" y1="114.50" x2="349.50" y2="117.50" stroke="#777" stroke-width="0.5"/>
<line x1="352.30" y1="114.50" x2="349.80" y2="117.50" stroke="#777" stroke-width="0.5"/>
<path d="M347.3,117.2 L351.9,117.2 L349.6,121.5 Z" fill="#000"/>
<text x="373.30" y="8.10" font-size="12" font-weight="bold" fill="#000">d</text>
<text x="446.00" y="13.00" font-size="6.1" text-anchor="middle">Oncogenic KRAS<tspan font-size="3.5" dy="-2">G12/G13</tspan><tspan dy="2">​</tspan> cell lines</text>
<text x="448.00" y="18.80" font-size="6.1" text-anchor="middle">(without <tspan font-style="italic">STAG2</tspan> mutations, n =142)</text>
<rect x="410.50" y="29.30" width="99.55" height="5.60" fill="#e08ca3" stroke="#a05c70" stroke-width="0.45"/>
<text x="407.70" y="34.17" font-size="5.75" text-anchor="end" font-style="italic">PAXIP1</text>
<line x1="408.40" y1="32.10" x2="410.20" y2="32.10" stroke="#666" stroke-width="0.4"/>
<rect x="410.50" y="36.09" width="95.16" height="5.60" fill="#d98a5c" stroke="#a0603a" stroke-width="0.45"/>
<text x="407.70" y="40.96" font-size="5.75" text-anchor="end" font-style="italic">PAGR1</text>
<line x1="408.40" y1="38.89" x2="410.20" y2="38.89" stroke="#666" stroke-width="0.4"/>
<rect x="410.50" y="42.88" width="50.95" height="5.60" fill="#c9c9c9" stroke="#8a8a8a" stroke-width="0.45"/>
<text x="407.70" y="47.75" font-size="5.75" text-anchor="end" font-style="italic">DUSP5</text>
<line x1="408.40" y1="45.68" x2="410.20" y2="45.68" stroke="#666" stroke-width="0.4"/>
<rect x="410.50" y="49.67" width="48.60" height="5.60" fill="#c9c9c9" stroke="#8a8a8a" stroke-width="0.45"/>
<text x="407.70" y="54.54" font-size="5.75" text-anchor="end" font-style="italic">SERPINA3</text>
<line x1="408.40" y1="52.47" x2="410.20" y2="52.47" stroke="#666" stroke-width="0.4"/>
<rect x="410.50" y="56.46" width="47.73" height="5.60" fill="#c9c9c9" stroke="#8a8a8a" stroke-width="0.45"/>
<text x="407.70" y="61.33" font-size="5.75" text-anchor="end" font-style="italic">RASD2</text>
<line x1="408.40" y1="59.26" x2="410.20" y2="59.26" stroke="#666" stroke-width="0.4"/>
<rect x="410.50" y="63.25" width="46.56" height="5.60" fill="#c9c9c9" stroke="#8a8a8a" stroke-width="0.45"/>
<text x="407.70" y="68.12" font-size="5.75" text-anchor="end" font-style="italic">MNT</text>
<line x1="408.40" y1="66.05" x2="410.20" y2="66.05" stroke="#666" stroke-width="0.4"/>
<rect x="410.50" y="70.04" width="46.56" height="5.60" fill="#c9c9c9" stroke="#8a8a8a" stroke-width="0.45"/>
<text x="407.70" y="74.91" font-size="5.75" text-anchor="end" font-style="italic">NIPSNAP1</text>
<line x1="408.40" y1="72.84" x2="410.20" y2="72.84" stroke="#666" stroke-width="0.4"/>
<rect x="410.50" y="76.83" width="45.68" height="5.60" fill="#c9c9c9" stroke="#8a8a8a" stroke-width="0.45"/>
<text x="407.70" y="81.70" font-size="5.75" text-anchor="end" font-style="italic">ZNF76</text>
<line x1="408.40" y1="79.63" x2="410.20" y2="79.63" stroke="#666" stroke-width="0.4"/>
<rect x="410.50" y="83.62" width="45.68" height="5.60" fill="#c9c9c9" stroke="#8a8a8a" stroke-width="0.45"/>
<text x="407.70" y="88.49" font-size="5.75" text-anchor="end" font-style="italic">GRK3</text>
<line x1="408.40" y1="86.42" x2="410.20" y2="86.42" stroke="#666" stroke-width="0.4"/>
<rect x="410.50" y="90.41" width="44.80" height="5.60" fill="#c9c9c9" stroke="#8a8a8a" stroke-width="0.45"/>
<text x="407.70" y="95.28" font-size="5.75" text-anchor="end" font-style="italic">DUSP18</text>
<line x1="408.40" y1="93.21" x2="410.20" y2="93.21" stroke="#666" stroke-width="0.4"/>
<rect x="410.50" y="97.20" width="43.33" height="5.60" fill="#c9c9c9" stroke="#8a8a8a" stroke-width="0.45"/>
<text x="407.70" y="102.07" font-size="5.75" text-anchor="end" font-style="italic">DNAJC9</text>
<line x1="408.40" y1="100.00" x2="410.20" y2="100.00" stroke="#666" stroke-width="0.4"/>
<rect x="410.50" y="103.99" width="41.72" height="5.60" fill="#c9c9c9" stroke="#8a8a8a" stroke-width="0.45"/>
<text x="407.70" y="108.86" font-size="5.75" text-anchor="end" font-style="italic">EP300</text>
<line x1="408.40" y1="106.79" x2="410.20" y2="106.79" stroke="#666" stroke-width="0.4"/>
<rect x="410.50" y="110.78" width="41.28" height="5.60" fill="#ffffff" stroke="#8a8a8a" stroke-width="0.45"/>
<text x="407.70" y="115.65" font-size="5.75" text-anchor="end" font-style="italic">NIPBL</text>
<line x1="408.40" y1="113.58" x2="410.20" y2="113.58" stroke="#666" stroke-width="0.4"/>
<rect x="410.50" y="117.57" width="40.99" height="5.60" fill="#c9c9c9" stroke="#8a8a8a" stroke-width="0.45"/>
<text x="407.70" y="122.44" font-size="5.75" text-anchor="end" font-style="italic">NCOA6</text>
<line x1="408.40" y1="120.37" x2="410.20" y2="120.37" stroke="#666" stroke-width="0.4"/>
<line x1="410.20" y1="28.00" x2="410.20" y2="124.80" stroke="#3c3c3c" stroke-width="0.6"/>
<line x1="410.20" y1="124.80" x2="514.00" y2="124.80" stroke="#3c3c3c" stroke-width="0.6"/>
<line x1="410.50" y1="124.80" x2="410.50" y2="126.30" stroke="#3c3c3c" stroke-width="0.5"/>
<text x="410.50" y="131.00" font-size="5.0" text-anchor="middle">0.0</text>
<line x1="425.14" y1="124.80" x2="425.14" y2="126.30" stroke="#3c3c3c" stroke-width="0.5"/>
<text x="425.14" y="131.00" font-size="5.0" text-anchor="middle">0.1</text>
<line x1="439.78" y1="124.80" x2="439.78" y2="126.30" stroke="#3c3c3c" stroke-width="0.5"/>
<text x="439.78" y="131.00" font-size="5.0" text-anchor="middle">0.2</text>
<line x1="454.42" y1="124.80" x2="454.42" y2="126.30" stroke="#3c3c3c" stroke-width="0.5"/>
<text x="454.42" y="131.00" font-size="5.0" text-anchor="middle">0.3</text>
<line x1="469.06" y1="124.80" x2="469.06" y2="126.30" stroke="#3c3c3c" stroke-width="0.5"/>
<text x="469.06" y="131.00" font-size="5.0" text-anchor="middle">0.4</text>
<line x1="483.70" y1="124.80" x2="483.70" y2="126.30" stroke="#3c3c3c" stroke-width="0.5"/>
<text x="483.70" y="131.00" font-size="5.0" text-anchor="middle">0.5</text>
<line x1="498.34" y1="124.80" x2="498.34" y2="126.30" stroke="#3c3c3c" stroke-width="0.5"/>
<text x="498.34" y="131.00" font-size="5.0" text-anchor="middle">0.6</text>
<line x1="512.98" y1="124.80" x2="512.98" y2="126.30" stroke="#3c3c3c" stroke-width="0.5"/>
<text x="512.98" y="131.00" font-size="5.0" text-anchor="middle">0.7</text>
<text x="458.50" y="138.82" font-size="7.0" text-anchor="middle">Spearman's r with <tspan font-style="italic">STAG2</tspan></text>
<text x="1.30" y="156.60" font-size="12" font-weight="bold" fill="#000">e</text>
<text x="15.00" y="158.95" font-size="6.1">Oncogenic KRAS<tspan font-size="3.5" dy="-2">G12/G13</tspan><tspan dy="2">​</tspan> lung adenocarcinoma</text>
<text x="18.00" y="164.70" font-size="6.1">cell lines (without <tspan font-style="italic">STAG2</tspan> mutations, n =22)</text>
<rect x="28.80" y="172.95" width="95.24" height="5.50" fill="#c9c9c9" stroke="#8a8a8a" stroke-width="0.45"/>
<text x="25.90" y="177.77" font-size="5.75" text-anchor="end" font-style="italic">EDA</text>
<line x1="26.60" y1="175.70" x2="28.50" y2="175.70" stroke="#666" stroke-width="0.4"/>
<rect x="28.80" y="179.48" width="94.04" height="5.50" fill="#c9c9c9" stroke="#8a8a8a" stroke-width="0.45"/>
<text x="25.90" y="184.30" font-size="5.75" text-anchor="end" font-style="italic">CTSD</text>
<line x1="26.60" y1="182.23" x2="28.50" y2="182.23" stroke="#666" stroke-width="0.4"/>
<rect x="28.80" y="186.01" width="88.99" height="5.50" fill="#c9c9c9" stroke="#8a8a8a" stroke-width="0.45"/>
<text x="25.90" y="190.83" font-size="5.75" text-anchor="end" font-style="italic">TPST2</text>
<line x1="26.60" y1="188.76" x2="28.50" y2="188.76" stroke="#666" stroke-width="0.4"/>
<rect x="28.80" y="192.54" width="86.35" height="5.50" fill="#e08ca3" stroke="#a05c70" stroke-width="0.45"/>
<text x="25.90" y="197.36" font-size="5.75" text-anchor="end" font-style="italic">PAXIP1</text>
<line x1="26.60" y1="195.29" x2="28.50" y2="195.29" stroke="#666" stroke-width="0.4"/>
<rect x="28.80" y="199.07" width="84.07" height="5.50" fill="#c9c9c9" stroke="#8a8a8a" stroke-width="0.45"/>
<text x="25.90" y="203.89" font-size="5.75" text-anchor="end" font-style="italic">FCGR3A</text>
<line x1="26.60" y1="201.82" x2="28.50" y2="201.82" stroke="#666" stroke-width="0.4"/>
<rect x="28.80" y="205.60" width="83.95" height="5.50" fill="#c9c9c9" stroke="#8a8a8a" stroke-width="0.45"/>
<text x="25.90" y="210.42" font-size="5.75" text-anchor="end" font-style="italic">TRIM5</text>
<line x1="26.60" y1="208.35" x2="28.50" y2="208.35" stroke="#666" stroke-width="0.4"/>
<rect x="28.80" y="212.13" width="82.63" height="5.50" fill="#c9c9c9" stroke="#8a8a8a" stroke-width="0.45"/>
<text x="25.90" y="216.95" font-size="5.75" text-anchor="end" font-style="italic">IQCK</text>
<line x1="26.60" y1="214.88" x2="28.50" y2="214.88" stroke="#666" stroke-width="0.4"/>
<rect x="28.80" y="218.66" width="82.63" height="5.50" fill="#c9c9c9" stroke="#8a8a8a" stroke-width="0.45"/>
<text x="25.90" y="223.48" font-size="5.75" text-anchor="end" font-style="italic">FOXN3</text>
<line x1="26.60" y1="221.41" x2="28.50" y2="221.41" stroke="#666" stroke-width="0.4"/>
<rect x="28.80" y="225.19" width="82.15" height="5.50" fill="#c9c9c9" stroke="#8a8a8a" stroke-width="0.45"/>
<text x="25.90" y="230.01" font-size="5.75" text-anchor="end" font-style="italic">TAF4</text>
<line x1="26.60" y1="227.94" x2="28.50" y2="227.94" stroke="#666" stroke-width="0.4"/>
<rect x="28.80" y="231.72" width="79.99" height="5.50" fill="#c9c9c9" stroke="#8a8a8a" stroke-width="0.45"/>
<text x="25.90" y="236.54" font-size="5.75" text-anchor="end" font-style="italic">GUCY1A2</text>
<line x1="26.60" y1="234.47" x2="28.50" y2="234.47" stroke="#666" stroke-width="0.4"/>
<rect x="28.80" y="238.25" width="78.79" height="5.50" fill="#c9c9c9" stroke="#8a8a8a" stroke-width="0.45"/>
<text x="25.90" y="243.07" font-size="5.75" text-anchor="end" font-style="italic">BST2</text>
<line x1="26.60" y1="241.00" x2="28.50" y2="241.00" stroke="#666" stroke-width="0.4"/>
<rect x="28.80" y="244.78" width="77.70" height="5.50" fill="#c9c9c9" stroke="#8a8a8a" stroke-width="0.45"/>
<text x="25.90" y="249.60" font-size="5.75" text-anchor="end" font-style="italic">GGCT</text>
<line x1="26.60" y1="247.53" x2="28.50" y2="247.53" stroke="#666" stroke-width="0.4"/>
<rect x="28.80" y="251.31" width="77.70" height="5.50" fill="#d98a5c" stroke="#a0603a" stroke-width="0.45"/>
<text x="25.90" y="256.13" font-size="5.75" text-anchor="end" font-style="italic">PAGR1</text>
<line x1="26.60" y1="254.06" x2="28.50" y2="254.06" stroke="#666" stroke-width="0.4"/>
<rect x="28.80" y="257.84" width="77.22" height="5.50" fill="#c9c9c9" stroke="#8a8a8a" stroke-width="0.45"/>
<text x="25.90" y="262.66" font-size="5.75" text-anchor="end" font-style="italic">SCNN1B</text>
<line x1="26.60" y1="260.59" x2="28.50" y2="260.59" stroke="#666" stroke-width="0.4"/>
<line x1="28.50" y1="172.00" x2="28.50" y2="264.10" stroke="#3c3c3c" stroke-width="0.6"/>
<line x1="28.50" y1="264.10" x2="127.00" y2="264.10" stroke="#3c3c3c" stroke-width="0.6"/>
<line x1="28.80" y1="264.10" x2="28.80" y2="265.60" stroke="#3c3c3c" stroke-width="0.5"/>
<text x="28.80" y="269.80" font-size="5.0" text-anchor="middle">0.0</text>
<line x1="40.81" y1="264.10" x2="40.81" y2="265.60" stroke="#3c3c3c" stroke-width="0.5"/>
<text x="40.81" y="269.80" font-size="5.0" text-anchor="middle">0.1</text>
<line x1="52.82" y1="264.10" x2="52.82" y2="265.60" stroke="#3c3c3c" stroke-width="0.5"/>
<text x="52.82" y="269.80" font-size="5.0" text-anchor="middle">0.2</text>
<line x1="64.83" y1="264.10" x2="64.83" y2="265.60" stroke="#3c3c3c" stroke-width="0.5"/>
<text x="64.83" y="269.80" font-size="5.0" text-anchor="middle">0.3</text>
<line x1="76.84" y1="264.10" x2="76.84" y2="265.60" stroke="#3c3c3c" stroke-width="0.5"/>
<text x="76.84" y="269.80" font-size="5.0" text-anchor="middle">0.4</text>
<line x1="88.85" y1="264.10" x2="88.85" y2="265.60" stroke="#3c3c3c" stroke-width="0.5"/>
<text x="88.85" y="269.80" font-size="5.0" text-anchor="middle">0.5</text>
<line x1="100.86" y1="264.10" x2="100.86" y2="265.60" stroke="#3c3c3c" stroke-width="0.5"/>
<text x="100.86" y="269.80" font-size="5.0" text-anchor="middle">0.6</text>
<line x1="112.87" y1="264.10" x2="112.87" y2="265.60" stroke="#3c3c3c" stroke-width="0.5"/>
<text x="112.87" y="269.80" font-size="5.0" text-anchor="middle">0.7</text>
<line x1="124.88" y1="264.10" x2="124.88" y2="265.60" stroke="#3c3c3c" stroke-width="0.5"/>
<text x="124.88" y="269.80" font-size="5.0" text-anchor="middle">0.8</text>
<text x="77.00" y="279.42" font-size="7.0" text-anchor="middle">Spearman's r with <tspan font-style="italic">STAG2</tspan></text>
<text x="141.50" y="157.00" font-size="11.5" font-weight="bold" fill="#000">f</text>
<text x="203.90" y="157.90" font-size="6.1" text-anchor="middle">AML cell lines</text>
<text x="205.70" y="164.30" font-size="6.1" text-anchor="middle">(without <tspan font-style="italic">STAG2</tspan> mutations, n =24)</text>
<line x1="160.40" y1="171.10" x2="160.40" y2="263.10" stroke="#3c3c3c" stroke-width="0.7"/>
<line x1="160.40" y1="263.10" x2="252.00" y2="263.10" stroke="#3c3c3c" stroke-width="0.7"/>
<line x1="158.80" y1="173.02" x2="160.40" y2="173.02" stroke="#3c3c3c" stroke-width="0.6"/>
<text x="158.10" y="174.96" font-size="5.4" text-anchor="end">0.2</text>
<line x1="158.80" y1="187.70" x2="160.40" y2="187.70" stroke="#3c3c3c" stroke-width="0.6"/>
<text x="158.10" y="189.64" font-size="5.4" text-anchor="end">0.0</text>
<line x1="158.80" y1="202.38" x2="160.40" y2="202.38" stroke="#3c3c3c" stroke-width="0.6"/>
<text x="158.10" y="204.32" font-size="5.4" text-anchor="end">−0.2</text>
<line x1="158.80" y1="217.06" x2="160.40" y2="217.06" stroke="#3c3c3c" stroke-width="0.6"/>
<text x="158.10" y="219.00" font-size="5.4" text-anchor="end">−0.4</text>
<line x1="158.80" y1="231.74" x2="160.40" y2="231.74" stroke="#3c3c3c" stroke-width="0.6"/>
<text x="158.10" y="233.68" font-size="5.4" text-anchor="end">−0.6</text>
<line x1="158.80" y1="246.42" x2="160.40" y2="246.42" stroke="#3c3c3c" stroke-width="0.6"/>
<text x="158.10" y="248.36" font-size="5.4" text-anchor="end">−0.8</text>
<line x1="158.80" y1="261.10" x2="160.40" y2="261.10" stroke="#3c3c3c" stroke-width="0.6"/>
<text x="158.10" y="263.04" font-size="5.4" text-anchor="end">−1.0</text>
<line x1="169.80" y1="263.10" x2="169.80" y2="264.70" stroke="#3c3c3c" stroke-width="0.6"/>
<line x1="180.90" y1="263.10" x2="180.90" y2="264.70" stroke="#3c3c3c" stroke-width="0.6"/>
<text x="180.90" y="269.38" font-size="5.5" text-anchor="middle">−1.00</text>
<line x1="192.00" y1="263.10" x2="192.00" y2="264.70" stroke="#3c3c3c" stroke-width="0.6"/>
<line x1="203.10" y1="263.10" x2="203.10" y2="264.70" stroke="#3c3c3c" stroke-width="0.6"/>
<text x="203.10" y="269.38" font-size="5.5" text-anchor="middle">−0.50</text>
<line x1="214.20" y1="263.10" x2="214.20" y2="264.70" stroke="#3c3c3c" stroke-width="0.6"/>
<line x1="225.30" y1="263.10" x2="225.30" y2="264.70" stroke="#3c3c3c" stroke-width="0.6"/>
<text x="225.30" y="269.38" font-size="5.5" text-anchor="middle">0.00</text>
<line x1="236.40" y1="263.10" x2="236.40" y2="264.70" stroke="#3c3c3c" stroke-width="0.6"/>
<line x1="247.50" y1="263.10" x2="247.50" y2="264.70" stroke="#3c3c3c" stroke-width="0.6"/>
<text x="247.50" y="269.38" font-size="5.5" text-anchor="middle">0.50</text>
<text x="206.70" y="277.72" font-size="7.0" text-anchor="middle"><tspan font-style="italic">STAG2</tspan> gene effect</text>
<text transform="translate(143.40,209.30) rotate(-90)" x="0" y="2.52" font-size="7.0" text-anchor="middle"><tspan font-style="italic">PAXIP1</tspan> gene effect</text>
<text x="165.70" y="178.80" font-size="6.1">r = 0.86, rho = 0.87</text>
<g fill="#4472c4"><circle cx="241.9" cy="175.2" r="0.95"/><circle cx="249.1" cy="200.1" r="0.95"/><circle cx="236.7" cy="195.6" r="0.95"/><circle cx="226.5" cy="202.0" r="0.95"/><circle cx="222.5" cy="198.5" r="0.95"/><circle cx="218.6" cy="199.7" r="0.95"/><circle cx="209.4" cy="204.9" r="0.95"/><circle cx="209.4" cy="206.3" r="0.95"/><circle cx="206.8" cy="212.7" r="0.95"/><circle cx="210.1" cy="213.7" r="0.95"/><circle cx="204.6" cy="216.3" r="0.95"/><circle cx="225.3" cy="217.0" r="0.95"/><circle cx="216.7" cy="220.1" r="0.95"/><circle cx="209.4" cy="222.5" r="0.95"/><circle cx="192.5" cy="223.4" r="0.95"/><circle cx="202.7" cy="224.8" r="0.95"/><circle cx="200.8" cy="231.7" r="0.95"/><circle cx="190.6" cy="234.6" r="0.95"/><circle cx="174.9" cy="236.0" r="0.95"/><circle cx="181.8" cy="238.4" r="0.95"/><circle cx="164.7" cy="241.7" r="0.95"/><circle cx="182.1" cy="251.9" r="0.95"/><circle cx="182.1" cy="259.1" r="0.95"/><circle cx="188.5" cy="259.1" r="0.95"/></g>
<text x="262.50" y="157.00" font-size="11.5" font-weight="bold" fill="#000">g</text>
<text x="333.40" y="157.90" font-size="6.1" text-anchor="middle">AML cell lines</text>
<text x="338.00" y="164.30" font-size="6.1" text-anchor="middle">(without <tspan font-style="italic">STAG2</tspan> mutations, n =24)</text>
<line x1="286.40" y1="167.60" x2="286.40" y2="263.10" stroke="#3c3c3c" stroke-width="0.7"/>
<line x1="286.40" y1="263.10" x2="383.40" y2="263.10" stroke="#3c3c3c" stroke-width="0.7"/>
<line x1="284.80" y1="168.77" x2="286.40" y2="168.77" stroke="#3c3c3c" stroke-width="0.6"/>
<text x="284.10" y="170.71" font-size="5.4" text-anchor="end">0.2</text>
<line x1="284.80" y1="184.20" x2="286.40" y2="184.20" stroke="#3c3c3c" stroke-width="0.6"/>
<text x="284.10" y="186.14" font-size="5.4" text-anchor="end">0.0</text>
<line x1="284.80" y1="199.63" x2="286.40" y2="199.63" stroke="#3c3c3c" stroke-width="0.6"/>
<text x="284.10" y="201.57" font-size="5.4" text-anchor="end">−0.2</text>
<line x1="284.80" y1="215.06" x2="286.40" y2="215.06" stroke="#3c3c3c" stroke-width="0.6"/>
<text x="284.10" y="217.00" font-size="5.4" text-anchor="end">−0.4</text>
<line x1="284.80" y1="230.49" x2="286.40" y2="230.49" stroke="#3c3c3c" stroke-width="0.6"/>
<text x="284.10" y="232.43" font-size="5.4" text-anchor="end">−0.6</text>
<line x1="284.80" y1="245.92" x2="286.40" y2="245.92" stroke="#3c3c3c" stroke-width="0.6"/>
<text x="284.10" y="247.86" font-size="5.4" text-anchor="end">−0.8</text>
<line x1="284.80" y1="261.35" x2="286.40" y2="261.35" stroke="#3c3c3c" stroke-width="0.6"/>
<text x="284.10" y="263.29" font-size="5.4" text-anchor="end">−1.0</text>
<line x1="296.30" y1="263.10" x2="296.30" y2="264.70" stroke="#3c3c3c" stroke-width="0.6"/>
<line x1="307.90" y1="263.10" x2="307.90" y2="264.70" stroke="#3c3c3c" stroke-width="0.6"/>
<text x="307.90" y="269.38" font-size="5.5" text-anchor="middle">−1.00</text>
<line x1="319.50" y1="263.10" x2="319.50" y2="264.70" stroke="#3c3c3c" stroke-width="0.6"/>
<line x1="331.10" y1="263.10" x2="331.10" y2="264.70" stroke="#3c3c3c" stroke-width="0.6"/>
<text x="331.10" y="269.38" font-size="5.5" text-anchor="middle">−0.50</text>
<line x1="342.70" y1="263.10" x2="342.70" y2="264.70" stroke="#3c3c3c" stroke-width="0.6"/>
<line x1="354.30" y1="263.10" x2="354.30" y2="264.70" stroke="#3c3c3c" stroke-width="0.6"/>
<text x="354.30" y="269.38" font-size="5.5" text-anchor="middle">0.00</text>
<line x1="365.90" y1="263.10" x2="365.90" y2="264.70" stroke="#3c3c3c" stroke-width="0.6"/>
<line x1="377.50" y1="263.10" x2="377.50" y2="264.70" stroke="#3c3c3c" stroke-width="0.6"/>
<text x="377.50" y="269.38" font-size="5.5" text-anchor="middle">0.50</text>
<text x="330.80" y="277.72" font-size="7.0" text-anchor="middle"><tspan font-style="italic">STAG2</tspan> gene effect</text>
<text transform="translate(266.40,209.30) rotate(-90)" x="0" y="2.52" font-size="7.0" text-anchor="middle"><tspan font-style="italic">PAGR1</tspan> gene effect</text>
<text x="289.00" y="178.80" font-size="6.1">r = 0.90, rho = 0.87</text>
<g fill="#4472c4"><circle cx="371.2" cy="171.7" r="0.95"/><circle cx="364.9" cy="177.5" r="0.95"/><circle cx="333.7" cy="181.8" r="0.95"/><circle cx="347.3" cy="189.0" r="0.95"/><circle cx="350.2" cy="190.5" r="0.95"/><circle cx="354.8" cy="194.2" r="0.95"/><circle cx="336.6" cy="204.9" r="0.95"/><circle cx="336.6" cy="206.9" r="0.95"/><circle cx="331.7" cy="208.6" r="0.95"/><circle cx="344.7" cy="211.0" r="0.95"/><circle cx="336.9" cy="213.5" r="0.95"/><circle cx="328.0" cy="216.4" r="0.95"/><circle cx="353.4" cy="216.1" r="0.95"/><circle cx="336.9" cy="218.5" r="0.95"/><circle cx="330.0" cy="223.6" r="0.95"/><circle cx="308.0" cy="226.5" r="0.95"/><circle cx="315.6" cy="230.9" r="0.95"/><circle cx="308.6" cy="233.2" r="0.95"/><circle cx="319.6" cy="232.9" r="0.95"/><circle cx="317.3" cy="238.6" r="0.95"/><circle cx="301.4" cy="242.7" r="0.95"/><circle cx="308.6" cy="245.3" r="0.95"/><circle cx="291.0" cy="258.8" r="0.95"/><circle cx="377.6" cy="178.4" r="0.95"/></g>
<text x="385.30" y="156.40" font-size="11" font-weight="bold" fill="#000">h</text>
<text x="413.40" y="156.52" font-size="7.0">Correlation of <tspan font-style="italic">PAXIP1</tspan> gene effect</text>
<text x="439.30" y="166.02" font-size="8.1" text-anchor="middle">Cell lines</text>
<text x="490.20" y="165.62" font-size="7.0" text-anchor="middle">r</text>
<text x="509.50" y="165.62" font-size="7.0" text-anchor="middle">rho</text>
<line x1="399.30" y1="168.10" x2="520.00" y2="168.10" stroke="#333" stroke-width="0.6"/>
<line x1="480.80" y1="158.50" x2="480.80" y2="211.70" stroke="#444" stroke-width="0.7"/>
<line x1="499.20" y1="158.50" x2="499.20" y2="211.70" stroke="#444" stroke-width="0.7"/>
<text x="430.40" y="181.79" font-size="5.8" text-anchor="middle">Bladder cancer cell lines</text>
<text x="431.80" y="187.55" font-size="5.7" text-anchor="middle">(without <tspan font-style="italic">STAG2</tspan> mutations, n =28)</text>
<text x="432.00" y="203.39" font-size="5.8" text-anchor="middle">Ewing's sarcoma cell lines</text>
<text x="433.00" y="209.05" font-size="5.7" text-anchor="middle">(without <tspan font-style="italic">STAG2</tspan> mutations, n =19)</text>
<text x="489.80" y="183.92" font-size="7.0" text-anchor="middle">0.62</text>
<text x="510.00" y="183.92" font-size="7.0" text-anchor="middle">0.70</text>
<text x="489.80" y="208.22" font-size="7.0" text-anchor="middle">0.44</text>
<text x="510.00" y="208.22" font-size="7.0" text-anchor="middle">0.32</text>
<text x="385.30" y="228.00" font-size="11" font-weight="bold" fill="#000">i</text>
<text x="413.40" y="228.42" font-size="7.0">Correlation of <tspan font-style="italic">PAGR1</tspan> gene effect</text>
<text x="439.30" y="238.32" font-size="8.1" text-anchor="middle">Cell lines</text>
<text x="490.20" y="237.92" font-size="7.0" text-anchor="middle">r</text>
<text x="509.50" y="237.92" font-size="7.0" text-anchor="middle">rho</text>
<line x1="399.70" y1="240.00" x2="520.00" y2="240.00" stroke="#333" stroke-width="0.6"/>
<line x1="480.80" y1="229.80" x2="480.80" y2="284.30" stroke="#444" stroke-width="0.7"/>
<line x1="499.20" y1="229.80" x2="499.20" y2="284.30" stroke="#444" stroke-width="0.7"/>
<text x="431.60" y="254.09" font-size="5.8" text-anchor="middle">Bladder cancer cell lines</text>
<text x="433.00" y="260.25" font-size="5.7" text-anchor="middle">(without <tspan font-style="italic">STAG2</tspan> mutations, n =28)</text>
<text x="433.20" y="276.29" font-size="5.8" text-anchor="middle">Ewing's sarcoma cell lines</text>
<text x="434.20" y="282.05" font-size="5.7" text-anchor="middle">(without <tspan font-style="italic">STAG2</tspan> mutations, n =19)</text>
<text x="489.80" y="255.92" font-size="7.0" text-anchor="middle">0.69</text>
<text x="510.00" y="255.92" font-size="7.0" text-anchor="middle">0.72</text>
<text x="489.80" y="279.82" font-size="7.0" text-anchor="middle">0.44</text>
<text x="510.00" y="279.82" font-size="7.0" text-anchor="middle">0.28</text>
<text x="1.80" y="306.20" font-size="11" font-weight="bold" fill="#000">j</text>
<line x1="31.40" y1="304.50" x2="31.40" y2="397.30" stroke="#999" stroke-width="1.0"/>
<line x1="31.20" y1="397.30" x2="177.00" y2="397.30" stroke="#777" stroke-width="0.7"/>
<text x="29.00" y="340.76" font-size="4.6" text-anchor="end">1.0</text>
<line x1="30.00" y1="339.10" x2="31.20" y2="339.10" stroke="#777" stroke-width="0.5"/>
<text x="29.00" y="377.36" font-size="4.6" text-anchor="end">0.5</text>
<line x1="30.00" y1="375.70" x2="31.20" y2="375.70" stroke="#777" stroke-width="0.5"/>
<text transform="translate(7.10,345.60) rotate(-90)" x="0" y="2.70" font-size="7.5" text-anchor="middle">Relative tumor number</text>
<text transform="translate(15.30,347.60) rotate(-90)" x="0" y="2.63" font-size="7.3" text-anchor="middle">(normalized to <tspan font-style="italic">KT</tspan> and  sg<tspan font-style="italic">Inert</tspan>)</text>
<text x="94.00" y="312.12" font-size="7.0" font-weight="bold" font-style="italic">KT;H11<tspan font-size="4.0" font-weight="normal" dy="-2.3">LSL-Cas9</tspan></text>
<line x1="31.20" y1="339.10" x2="176.00" y2="339.10" stroke="#aaa" stroke-width="0.4"/>
<rect x="33.15" y="329.80" width="7.10" height="9.30" fill="#fff" stroke="#444" stroke-width="0.6"/>
<line x1="36.70" y1="323.95" x2="36.70" y2="333.80" stroke="#333" stroke-width="0.5"/>
<rect x="42.05" y="333.24" width="7.10" height="5.86" fill="#fff" stroke="#444" stroke-width="0.6"/>
<line x1="45.60" y1="328.12" x2="45.60" y2="336.74" stroke="#333" stroke-width="0.5"/>
<rect x="50.95" y="330.68" width="7.10" height="8.42" fill="#3a46a8" stroke="#444" stroke-width="0.6"/>
<line x1="54.50" y1="324.09" x2="54.50" y2="335.18" stroke="#333" stroke-width="0.5"/>
<rect x="59.85" y="331.78" width="7.10" height="7.32" fill="#3a46a8" stroke="#444" stroke-width="0.6"/>
<line x1="63.40" y1="325.19" x2="63.40" y2="336.28" stroke="#333" stroke-width="0.5"/>
<rect x="68.75" y="332.51" width="7.10" height="6.59" fill="#3a46a8" stroke="#444" stroke-width="0.6"/>
<line x1="72.30" y1="325.92" x2="72.30" y2="337.01" stroke="#333" stroke-width="0.5"/>
<rect x="77.65" y="331.05" width="7.10" height="8.05" fill="#dcdcdc" stroke="#444" stroke-width="0.6"/>
<line x1="81.20" y1="325.19" x2="81.20" y2="335.05" stroke="#333" stroke-width="0.5"/>
<rect x="86.55" y="334.34" width="7.10" height="4.76" fill="#f0f0f0" stroke="#444" stroke-width="0.6"/>
<line x1="90.10" y1="329.95" x2="90.10" y2="337.34" stroke="#333" stroke-width="0.5"/>
<rect x="95.45" y="333.24" width="7.10" height="5.86" fill="#eba5b5" stroke="#444" stroke-width="0.6"/>
<line x1="99.00" y1="328.12" x2="99.00" y2="336.74" stroke="#333" stroke-width="0.5"/>
<rect x="104.35" y="333.98" width="7.10" height="5.12" fill="#eba5b5" stroke="#444" stroke-width="0.6"/>
<line x1="107.90" y1="329.58" x2="107.90" y2="336.98" stroke="#333" stroke-width="0.5"/>
<rect x="113.25" y="336.90" width="7.10" height="2.20" fill="#eba5b5" stroke="#444" stroke-width="0.6"/>
<line x1="116.80" y1="333.24" x2="116.80" y2="339.40" stroke="#333" stroke-width="0.5"/>
<rect x="122.15" y="336.90" width="7.10" height="2.20" fill="#e8925e" stroke="#444" stroke-width="0.6"/>
<line x1="125.70" y1="333.24" x2="125.70" y2="339.40" stroke="#333" stroke-width="0.5"/>
<rect x="131.05" y="338.22" width="7.10" height="0.88" fill="#e8925e" stroke="#444" stroke-width="0.6"/>
<line x1="134.60" y1="334.56" x2="134.60" y2="340.72" stroke="#333" stroke-width="0.5"/>
<rect x="139.95" y="339.10" width="7.10" height="2.56" fill="#e8925e" stroke="#444" stroke-width="0.6"/>
<line x1="143.50" y1="338.16" x2="143.50" y2="344.16" stroke="#333" stroke-width="0.5"/>
<rect x="148.85" y="339.10" width="7.10" height="17.57" fill="#8c8c8c" stroke="#444" stroke-width="0.6"/>
<line x1="152.40" y1="354.17" x2="152.40" y2="358.47" stroke="#222" stroke-width="0.6"/>
<line x1="151.00" y1="358.47" x2="153.80" y2="358.47" stroke="#222" stroke-width="0.6"/>
<rect x="157.75" y="339.10" width="7.10" height="19.40" fill="#8c8c8c" stroke="#444" stroke-width="0.6"/>
<line x1="161.30" y1="356.00" x2="161.30" y2="360.30" stroke="#222" stroke-width="0.6"/>
<line x1="159.90" y1="360.30" x2="162.70" y2="360.30" stroke="#222" stroke-width="0.6"/>
<rect x="166.65" y="339.10" width="7.10" height="23.06" fill="#8c8c8c" stroke="#444" stroke-width="0.6"/>
<line x1="170.20" y1="359.66" x2="170.20" y2="363.96" stroke="#222" stroke-width="0.6"/>
<line x1="168.80" y1="363.96" x2="171.60" y2="363.96" stroke="#222" stroke-width="0.6"/>
<text x="15.30" y="403.76" font-size="4.9">sgRNA</text>
<line x1="36.70" y1="397.30" x2="36.70" y2="398.80" stroke="#777" stroke-width="0.5"/>
<text x="37.00" y="404.16" font-size="6.0" text-anchor="middle">1</text>
<line x1="45.60" y1="397.30" x2="45.60" y2="398.80" stroke="#777" stroke-width="0.5"/>
<text x="45.90" y="404.16" font-size="6.0" text-anchor="middle">2</text>
<line x1="54.50" y1="397.30" x2="54.50" y2="398.80" stroke="#777" stroke-width="0.5"/>
<text x="54.80" y="404.16" font-size="6.0" text-anchor="middle">1</text>
<line x1="63.40" y1="397.30" x2="63.40" y2="398.80" stroke="#777" stroke-width="0.5"/>
<text x="63.70" y="404.16" font-size="6.0" text-anchor="middle">2</text>
<line x1="72.30" y1="397.30" x2="72.30" y2="398.80" stroke="#777" stroke-width="0.5"/>
<text x="72.60" y="404.16" font-size="6.0" text-anchor="middle">3</text>
<line x1="81.20" y1="397.30" x2="81.20" y2="398.80" stroke="#777" stroke-width="0.5"/>
<text x="81.50" y="404.16" font-size="6.0" text-anchor="middle">1</text>
<line x1="90.10" y1="397.30" x2="90.10" y2="398.80" stroke="#777" stroke-width="0.5"/>
<text x="90.40" y="404.16" font-size="6.0" text-anchor="middle">2</text>
<line x1="99.00" y1="397.30" x2="99.00" y2="398.80" stroke="#777" stroke-width="0.5"/>
<text x="99.30" y="404.16" font-size="6.0" text-anchor="middle">1</text>
<line x1="107.90" y1="397.30" x2="107.90" y2="398.80" stroke="#777" stroke-width="0.5"/>
<text x="108.20" y="404.16" font-size="6.0" text-anchor="middle">2</text>
<line x1="116.80" y1="397.30" x2="116.80" y2="398.80" stroke="#777" stroke-width="0.5"/>
<text x="117.10" y="404.16" font-size="6.0" text-anchor="middle">3</text>
<line x1="125.70" y1="397.30" x2="125.70" y2="398.80" stroke="#777" stroke-width="0.5"/>
<text x="126.00" y="404.16" font-size="6.0" text-anchor="middle">1</text>
<line x1="134.60" y1="397.30" x2="134.60" y2="398.80" stroke="#777" stroke-width="0.5"/>
<text x="134.90" y="404.16" font-size="6.0" text-anchor="middle">2</text>
<line x1="143.50" y1="397.30" x2="143.50" y2="398.80" stroke="#777" stroke-width="0.5"/>
<text x="143.80" y="404.16" font-size="6.0" text-anchor="middle">3</text>
<line x1="152.40" y1="397.30" x2="152.40" y2="398.80" stroke="#777" stroke-width="0.5"/>
<text x="152.70" y="404.16" font-size="6.0" text-anchor="middle">1</text>
<line x1="161.30" y1="397.30" x2="161.30" y2="398.80" stroke="#777" stroke-width="0.5"/>
<text x="161.60" y="404.16" font-size="6.0" text-anchor="middle">2</text>
<line x1="170.20" y1="397.30" x2="170.20" y2="398.80" stroke="#777" stroke-width="0.5"/>
<text x="170.50" y="404.16" font-size="6.0" text-anchor="middle">3</text>
<path d="M34.10,404.20 Q34.10,406.20 35.80,406.20 L47.70,406.20 Q49.40,406.20 49.40,404.20" fill="none" stroke="#555" stroke-width="0.5"/>
<text transform="translate(41.65,408.6) rotate(-90)" x="0" y="2.2" font-size="6.4" text-anchor="end" style="stroke-width:0.05px">sg<tspan font-style="italic">Stk11</tspan></text>
<path d="M51.90,404.20 Q51.90,406.20 53.60,406.20 L74.40,406.20 Q76.10,406.20 76.10,404.20" fill="none" stroke="#555" stroke-width="0.5"/>
<text transform="translate(63.90,408.6) rotate(-90)" x="0" y="2.2" font-size="6.4" text-anchor="end" style="stroke-width:0.05px">sg<tspan font-style="italic">Stag2</tspan></text>
<path d="M78.60,404.20 Q78.60,406.20 80.30,406.20 L92.20,406.20 Q93.90,406.20 93.90,404.20" fill="none" stroke="#555" stroke-width="0.5"/>
<text transform="translate(86.15,408.6) rotate(-90)" x="0" y="2.2" font-size="6.4" text-anchor="end" style="stroke-width:0.05px">sg<tspan font-style="italic">Rb1</tspan></text>
<path d="M96.40,404.20 Q96.40,406.20 98.10,406.20 L118.90,406.20 Q120.60,406.20 120.60,404.20" fill="none" stroke="#555" stroke-width="0.5"/>
<text transform="translate(108.40,408.6) rotate(-90)" x="0" y="2.2" font-size="6.4" text-anchor="end" style="stroke-width:0.05px">sg<tspan font-style="italic">Paxip1</tspan></text>
<path d="M123.10,404.20 Q123.10,406.20 124.80,406.20 L145.60,406.20 Q147.30,406.20 147.30,404.20" fill="none" stroke="#555" stroke-width="0.5"/>
<text transform="translate(135.10,408.6) rotate(-90)" x="0" y="2.2" font-size="6.4" text-anchor="end" style="stroke-width:0.05px">sg<tspan font-style="italic">Pagr1</tspan></text>
<path d="M149.80,404.20 Q149.80,406.20 151.50,406.20 L172.30,406.20 Q174.00,406.20 174.00,404.20" fill="none" stroke="#555" stroke-width="0.5"/>
<text transform="translate(161.80,408.6) rotate(-90)" x="0" y="2.2" font-size="6.4" text-anchor="end" style="stroke-width:0.05px">sg<tspan font-style="italic">Pcna</tspan></text>
<text x="184.80" y="304.50" font-size="11" font-weight="bold" fill="#000">k</text>
<text transform="translate(215.20,368.0) rotate(-49)" x="0" y="0" font-size="5.3" style="stroke-width:0.08px"><tspan font-style="italic">KT;H11</tspan><tspan font-size="4.0" dy="-2">LSL-Cas9</tspan><tspan dy="2">​</tspan> Lenti-sg<tspan font-style="italic">Inert</tspan>/Cre</text>
<text transform="translate(233.40,368.0) rotate(-49)" x="0" y="0" font-size="5.3" style="stroke-width:0.08px"><tspan font-style="italic">KT;H11</tspan><tspan font-size="4.0" dy="-2">LSL-Cas9</tspan><tspan dy="2">​</tspan> Lenti-sg<tspan font-style="italic">Paxip1</tspan>/Cre</text>
<rect x="201.50" y="369.50" width="45.30" height="16.00" fill="#f8f8f8" stroke="#2a2a2a" stroke-width="0.9"/>
<rect x="201.50" y="388.00" width="45.30" height="15.80" fill="#f8f8f8" stroke="#2a2a2a" stroke-width="0.9"/>
<defs><filter id="bl" x="-20%" y="-80%" width="140%" height="260%"><feGaussianBlur stdDeviation="0.75"/></filter></defs>
<g filter="url(#bl)">
<path d="M204.5,374.6 C206.5,374.2 208.5,375.6 212.5,376.2 L221.6,376.3 Q222.8,378.2 221.6,380.3 L212.5,380.3 C208.5,380.6 206.5,382.0 204.5,381.7 Q203.6,378.2 204.5,374.6 Z" fill="#0c0c0c"/>
<rect x="226.5" y="377.2" width="16.5" height="2.2" fill="#d4d4d4"/>
<path d="M204.5,391.9 L221.8,391.7 Q222.8,394.2 221.8,396.8 L204.5,395.8 Q203.6,393.9 204.5,391.9 Z" fill="#111"/>
<path d="M226.6,392.4 C232,393.0 238,393.4 243.4,392.7 Q244.3,395.4 243.4,398.2 C238,398.6 232,397.9 226.6,397.2 Q225.8,394.8 226.6,392.4 Z" fill="#111"/>
</g>
<text x="199.60" y="380.07" font-size="5.2" text-anchor="end">50 kDa</text>
<text x="199.60" y="394.87" font-size="5.2" text-anchor="end">90 kDa</text>
<text x="248.00" y="380.31" font-size="5.3">PAXIP1</text>
<text x="248.00" y="395.71" font-size="5.3">HSP90</text>
<text x="295.50" y="304.20" font-size="10.5" font-weight="bold" fill="#000">l</text>
<line x1="325.20" y1="305.00" x2="325.20" y2="400.40" stroke="#444" stroke-width="0.8"/>
<line x1="325.20" y1="400.40" x2="520.00" y2="400.40" stroke="#444" stroke-width="0.8"/>
<line x1="323.60" y1="321.39" x2="325.20" y2="321.39" stroke="#444" stroke-width="0.6"/>
<text x="323.20" y="323.33" font-size="5.4" text-anchor="end">8.0</text>
<line x1="323.60" y1="341.46" x2="325.20" y2="341.46" stroke="#444" stroke-width="0.6"/>
<text x="323.20" y="343.40" font-size="5.4" text-anchor="end">4.0</text>
<line x1="323.60" y1="361.53" x2="325.20" y2="361.53" stroke="#444" stroke-width="0.6"/>
<text x="323.20" y="363.47" font-size="5.4" text-anchor="end">2.0</text>
<line x1="323.60" y1="381.60" x2="325.20" y2="381.60" stroke="#444" stroke-width="0.6"/>
<text x="323.20" y="383.54" font-size="5.4" text-anchor="end">1.0</text>
<text transform="translate(298.20,351.00) rotate(-90)" x="0" y="2.52" font-size="7.0" text-anchor="middle">Percentile tumor size</text>
<text transform="translate(306.60,351.00) rotate(-90)" x="0" y="2.52" font-size="7.0" text-anchor="middle">(normalized to sgInert)</text>
<line x1="325.20" y1="381.50" x2="520.00" y2="381.50" stroke="#1a1a1a" stroke-width="1.15" stroke-dasharray="4.4,2.6"/>
<line x1="330.60" y1="381.50" x2="333.80" y2="315.20" stroke="#b0b0b0" stroke-width="1.2"/>
<line x1="330.60" y1="381.50" x2="333.80" y2="315.20" stroke="#505050" stroke-width="0.5"/>
<line x1="331.91" y1="354.40" x2="333.80" y2="315.20" stroke="#4a4a4a" stroke-width="1.3"/>
<circle cx="331.20" cy="379.20" r="1.45" fill="#e4a0a0"/>
<circle cx="331.70" cy="365.00" r="1.45" fill="#c42a2a"/>
<circle cx="332.50" cy="344.40" r="1.45" fill="#bc1e1e"/>
<circle cx="333.10" cy="322.40" r="1.45" fill="#ac1212"/>
<circle cx="334.40" cy="324.70" r="1.45" fill="#c41414"/>
<line x1="338.80" y1="382.50" x2="342.10" y2="321.00" stroke="#b0b0b0" stroke-width="1.2"/>
<line x1="338.80" y1="382.50" x2="342.10" y2="321.00" stroke="#505050" stroke-width="0.5"/>
<line x1="339.86" y1="362.80" x2="342.10" y2="321.00" stroke="#4a4a4a" stroke-width="1.3"/>
<circle cx="339.00" cy="380.80" r="1.45" fill="#e4a0a0"/>
<circle cx="339.60" cy="370.80" r="1.45" fill="#c42a2a"/>
<circle cx="340.50" cy="352.80" r="1.45" fill="#bc1e1e"/>
<circle cx="341.20" cy="331.00" r="1.45" fill="#ac1212"/>
<circle cx="342.30" cy="327.80" r="1.45" fill="#c41414"/>
<line x1="346.60" y1="382.50" x2="350.00" y2="328.70" stroke="#b0b0b0" stroke-width="1.2"/>
<line x1="346.60" y1="382.50" x2="350.00" y2="328.70" stroke="#505050" stroke-width="0.5"/>
<line x1="347.42" y1="369.50" x2="350.00" y2="328.70" stroke="#4a4a4a" stroke-width="1.3"/>
<circle cx="346.80" cy="381.00" r="1.45" fill="#e4a0a0"/>
<circle cx="347.00" cy="371.50" r="1.45" fill="#c42a2a"/>
<circle cx="348.10" cy="359.50" r="1.45" fill="#bc1e1e"/>
<circle cx="349.10" cy="340.60" r="1.45" fill="#ac1212"/>
<circle cx="350.20" cy="335.90" r="1.45" fill="#c41414"/>
<line x1="366.20" y1="364.20" x2="369.00" y2="306.90" stroke="#b0b0b0" stroke-width="1.2"/>
<line x1="366.20" y1="364.20" x2="369.00" y2="306.90" stroke="#505050" stroke-width="0.5"/>
<line x1="367.70" y1="333.50" x2="369.00" y2="306.90" stroke="#4a4a4a" stroke-width="1.3"/>
<line x1="366.00" y1="373.00" x2="366.00" y2="381.00" stroke="#b0b0b0" stroke-width="1.2"/>
<line x1="366.00" y1="373.00" x2="366.00" y2="381.00" stroke="#505050" stroke-width="0.5"/>
<circle cx="366.10" cy="379.00" r="1.15" fill="#a4d2e2"/>
<circle cx="366.70" cy="354.20" r="1.15" fill="#72b6cc"/>
<circle cx="367.70" cy="323.50" r="1.15" fill="#62a8c0"/>
<circle cx="369.00" cy="315.20" r="1.15" fill="#5a9cb4"/>
<circle cx="369.30" cy="317.50" r="1.15" fill="#5fa4bc"/>
<line x1="374.80" y1="367.00" x2="377.10" y2="305.60" stroke="#b0b0b0" stroke-width="1.2"/>
<line x1="374.80" y1="367.00" x2="377.10" y2="305.60" stroke="#505050" stroke-width="0.5"/>
<line x1="375.94" y1="336.70" x2="377.10" y2="305.60" stroke="#4a4a4a" stroke-width="1.3"/>
<line x1="374.60" y1="373.00" x2="374.60" y2="381.00" stroke="#b0b0b0" stroke-width="1.2"/>
<line x1="374.60" y1="373.00" x2="374.60" y2="381.00" stroke="#505050" stroke-width="0.5"/>
<circle cx="374.70" cy="379.00" r="1.15" fill="#a4d2e2"/>
<circle cx="375.20" cy="352.70" r="1.15" fill="#72b6cc"/>
<circle cx="376.20" cy="326.70" r="1.15" fill="#62a8c0"/>
<circle cx="377.10" cy="314.20" r="1.15" fill="#5a9cb4"/>
<circle cx="377.40" cy="316.50" r="1.15" fill="#5fa4bc"/>
<line x1="382.60" y1="367.50" x2="385.40" y2="307.50" stroke="#b0b0b0" stroke-width="1.2"/>
<line x1="382.60" y1="367.50" x2="385.40" y2="307.50" stroke="#505050" stroke-width="0.5"/>
<line x1="384.08" y1="335.80" x2="385.40" y2="307.50" stroke="#4a4a4a" stroke-width="1.3"/>
<line x1="382.50" y1="373.00" x2="382.50" y2="381.00" stroke="#b0b0b0" stroke-width="1.2"/>
<line x1="382.50" y1="373.00" x2="382.50" y2="381.00" stroke="#505050" stroke-width="0.5"/>
<circle cx="382.60" cy="380.00" r="1.15" fill="#a4d2e2"/>
<circle cx="382.90" cy="351.70" r="1.15" fill="#72b6cc"/>
<circle cx="384.00" cy="325.80" r="1.15" fill="#62a8c0"/>
<circle cx="385.40" cy="315.20" r="1.15" fill="#5a9cb4"/>
<circle cx="385.70" cy="317.50" r="1.15" fill="#5fa4bc"/>
<line x1="396.90" y1="379.60" x2="398.80" y2="329.60" stroke="#b0b0b0" stroke-width="1.2"/>
<line x1="396.90" y1="379.60" x2="398.80" y2="329.60" stroke="#505050" stroke-width="0.5"/>
<line x1="398.02" y1="350.20" x2="398.80" y2="329.60" stroke="#4a4a4a" stroke-width="1.3"/>
<circle cx="396.90" cy="378.00" r="1.50" fill="#b4acd4"/>
<circle cx="396.90" cy="358.50" r="1.50" fill="#7e72b4"/>
<circle cx="398.50" cy="340.20" r="1.50" fill="#64589e"/>
<circle cx="398.80" cy="335.00" r="1.50" fill="#524690"/>
<circle cx="399.80" cy="340.20" r="1.50" fill="#5a4e98"/>
<line x1="404.60" y1="379.60" x2="407.50" y2="335.40" stroke="#b0b0b0" stroke-width="1.2"/>
<line x1="404.60" y1="379.60" x2="407.50" y2="335.40" stroke="#505050" stroke-width="0.5"/>
<line x1="405.86" y1="360.40" x2="407.50" y2="335.40" stroke="#4a4a4a" stroke-width="1.3"/>
<circle cx="404.80" cy="379.00" r="1.50" fill="#b4acd4"/>
<circle cx="405.20" cy="366.50" r="1.50" fill="#7e72b4"/>
<circle cx="406.20" cy="350.40" r="1.50" fill="#64589e"/>
<circle cx="407.10" cy="340.80" r="1.50" fill="#524690"/>
<circle cx="408.10" cy="345.00" r="1.50" fill="#5a4e98"/>
<line x1="412.30" y1="379.60" x2="415.60" y2="347.00" stroke="#b0b0b0" stroke-width="1.2"/>
<line x1="412.30" y1="379.60" x2="415.60" y2="347.00" stroke="#505050" stroke-width="0.5"/>
<line x1="413.46" y1="368.10" x2="415.60" y2="347.00" stroke="#4a4a4a" stroke-width="1.3"/>
<circle cx="412.50" cy="379.00" r="1.50" fill="#b4acd4"/>
<circle cx="412.90" cy="366.20" r="1.50" fill="#7e72b4"/>
<circle cx="413.80" cy="358.10" r="1.50" fill="#64589e"/>
<circle cx="414.80" cy="352.30" r="1.50" fill="#524690"/>
<circle cx="416.20" cy="355.60" r="1.50" fill="#5a4e98"/>
<line x1="435.00" y1="346.00" x2="437.30" y2="317.10" stroke="#b0b0b0" stroke-width="1.2"/>
<line x1="435.00" y1="346.00" x2="437.30" y2="317.10" stroke="#505050" stroke-width="0.5"/>
<line x1="435.63" y1="338.10" x2="437.30" y2="317.10" stroke="#4a4a4a" stroke-width="1.3"/>
<line x1="434.40" y1="357.50" x2="434.40" y2="379.60" stroke="#b0b0b0" stroke-width="1.2"/>
<line x1="434.40" y1="357.50" x2="434.40" y2="379.60" stroke="#505050" stroke-width="0.5"/>
<circle cx="434.40" cy="371.50" r="1.45" fill="#e4a0a0"/>
<circle cx="435.00" cy="334.40" r="1.45" fill="#c42a2a"/>
<circle cx="435.80" cy="328.10" r="1.45" fill="#bc1e1e"/>
<circle cx="436.90" cy="321.90" r="1.45" fill="#ac1212"/>
<circle cx="437.60" cy="320.50" r="1.45" fill="#c41414"/>
<line x1="441.50" y1="342.70" x2="443.50" y2="320.00" stroke="#b0b0b0" stroke-width="1.2"/>
<line x1="441.50" y1="342.70" x2="443.50" y2="320.00" stroke="#505050" stroke-width="0.5"/>
<line x1="442.20" y1="334.80" x2="443.50" y2="320.00" stroke="#4a4a4a" stroke-width="1.3"/>
<line x1="441.20" y1="350.80" x2="441.20" y2="375.80" stroke="#b0b0b0" stroke-width="1.2"/>
<line x1="441.20" y1="350.80" x2="441.20" y2="375.80" stroke="#505050" stroke-width="0.5"/>
<circle cx="441.50" cy="366.50" r="1.45" fill="#e4a0a0"/>
<circle cx="442.10" cy="331.90" r="1.45" fill="#c42a2a"/>
<circle cx="443.10" cy="324.80" r="1.45" fill="#bc1e1e"/>
<circle cx="443.60" cy="323.00" r="1.45" fill="#ac1212"/>
<circle cx="444.20" cy="325.80" r="1.45" fill="#c41414"/>
<line x1="448.80" y1="347.00" x2="450.80" y2="323.80" stroke="#b0b0b0" stroke-width="1.2"/>
<line x1="448.80" y1="347.00" x2="450.80" y2="323.80" stroke="#505050" stroke-width="0.5"/>
<line x1="449.69" y1="336.70" x2="450.80" y2="323.80" stroke="#4a4a4a" stroke-width="1.3"/>
<line x1="448.50" y1="362.30" x2="448.50" y2="379.20" stroke="#b0b0b0" stroke-width="1.2"/>
<line x1="448.50" y1="362.30" x2="448.50" y2="379.20" stroke="#505050" stroke-width="0.5"/>
<circle cx="448.80" cy="372.90" r="1.45" fill="#e4a0a0"/>
<circle cx="449.20" cy="333.10" r="1.45" fill="#c42a2a"/>
<circle cx="450.20" cy="326.70" r="1.45" fill="#bc1e1e"/>
<circle cx="450.80" cy="325.00" r="1.45" fill="#ac1212"/>
<circle cx="451.30" cy="323.80" r="1.45" fill="#c41414"/>
<line x1="466.20" y1="373.80" x2="469.00" y2="333.50" stroke="#b0b0b0" stroke-width="1.2"/>
<line x1="466.20" y1="373.80" x2="469.00" y2="333.50" stroke="#505050" stroke-width="0.5"/>
<line x1="467.93" y1="348.90" x2="469.00" y2="333.50" stroke="#3c3c3c" stroke-width="1.7"/>
<circle cx="467.10" cy="362.30" r="1.00" fill="#a4d2e2"/>
<circle cx="468.10" cy="346.90" r="1.00" fill="#72b6cc"/>
<circle cx="469.00" cy="342.10" r="1.00" fill="#62a8c0"/>
<circle cx="469.60" cy="341.20" r="1.00" fill="#5a9cb4"/>
<circle cx="469.80" cy="343.00" r="1.00" fill="#5fa4bc"/>
<line x1="473.50" y1="378.00" x2="476.20" y2="337.30" stroke="#b0b0b0" stroke-width="1.2"/>
<line x1="473.50" y1="378.00" x2="476.20" y2="337.30" stroke="#505050" stroke-width="0.5"/>
<line x1="475.24" y1="351.80" x2="476.20" y2="337.30" stroke="#3c3c3c" stroke-width="1.7"/>
<circle cx="473.80" cy="368.10" r="1.00" fill="#a4d2e2"/>
<circle cx="475.00" cy="349.80" r="1.00" fill="#72b6cc"/>
<circle cx="475.80" cy="343.10" r="1.00" fill="#62a8c0"/>
<circle cx="476.20" cy="342.00" r="1.00" fill="#5a9cb4"/>
<circle cx="476.50" cy="344.00" r="1.00" fill="#5fa4bc"/>
<line x1="480.60" y1="380.60" x2="483.50" y2="334.40" stroke="#b0b0b0" stroke-width="1.2"/>
<line x1="480.60" y1="380.60" x2="483.50" y2="334.40" stroke="#505050" stroke-width="0.5"/>
<line x1="482.23" y1="354.70" x2="483.50" y2="334.40" stroke="#3c3c3c" stroke-width="1.7"/>
<circle cx="481.20" cy="372.90" r="1.00" fill="#a4d2e2"/>
<circle cx="481.90" cy="352.70" r="1.00" fill="#72b6cc"/>
<circle cx="483.10" cy="344.60" r="1.00" fill="#62a8c0"/>
<circle cx="484.00" cy="341.20" r="1.00" fill="#5a9cb4"/>
<circle cx="484.20" cy="343.00" r="1.00" fill="#5fa4bc"/>
<line x1="494.00" y1="377.70" x2="496.50" y2="360.40" stroke="#b0b0b0" stroke-width="1.2"/>
<line x1="494.00" y1="377.70" x2="496.50" y2="360.40" stroke="#505050" stroke-width="0.5"/>
<line x1="495.33" y1="368.50" x2="496.50" y2="360.40" stroke="#3c3c3c" stroke-width="1.7"/>
<circle cx="493.70" cy="373.80" r="1.20" fill="#b4acd4"/>
<circle cx="494.60" cy="366.50" r="1.20" fill="#4c3e8c"/>
<circle cx="496.00" cy="363.30" r="1.20" fill="#4c3e8c"/>
<circle cx="496.50" cy="362.00" r="1.20" fill="#4c3e8c"/>
<circle cx="496.90" cy="367.10" r="1.20" fill="#4c3e8c"/>
<line x1="500.80" y1="379.20" x2="503.70" y2="360.40" stroke="#b0b0b0" stroke-width="1.2"/>
<line x1="500.80" y1="379.20" x2="503.70" y2="360.40" stroke="#505050" stroke-width="0.5"/>
<line x1="502.20" y1="370.10" x2="503.70" y2="360.40" stroke="#3c3c3c" stroke-width="1.7"/>
<circle cx="501.20" cy="375.80" r="1.20" fill="#b4acd4"/>
<circle cx="502.30" cy="368.10" r="1.20" fill="#4c3e8c"/>
<circle cx="503.30" cy="364.20" r="1.20" fill="#4c3e8c"/>
<circle cx="503.60" cy="363.00" r="1.20" fill="#4c3e8c"/>
<circle cx="503.80" cy="366.00" r="1.20" fill="#4c3e8c"/>
<line x1="508.50" y1="378.00" x2="510.40" y2="364.20" stroke="#b0b0b0" stroke-width="1.2"/>
<line x1="508.50" y1="378.00" x2="510.40" y2="364.20" stroke="#505050" stroke-width="0.5"/>
<line x1="509.19" y1="373.00" x2="510.40" y2="364.20" stroke="#3c3c3c" stroke-width="1.7"/>
<circle cx="508.50" cy="373.80" r="1.20" fill="#b4acd4"/>
<circle cx="509.40" cy="371.00" r="1.20" fill="#4c3e8c"/>
<circle cx="510.80" cy="369.00" r="1.20" fill="#4c3e8c"/>
<circle cx="511.00" cy="368.00" r="1.20" fill="#4c3e8c"/>
<circle cx="511.20" cy="370.00" r="1.20" fill="#4c3e8c"/>
<rect x="485.4" y="304.2" width="33.1" height="29.3" rx="1.2" fill="#fff" stroke="#cfcfcf" stroke-width="0.6"/>
<text x="501.90" y="310.88" font-size="4.4" text-anchor="middle" fill="#333">Percentile</text>
<circle cx="489.30" cy="315.80" r="1.75" fill="#d8d8d8"/>
<text x="492.60" y="317.38" font-size="4.4" fill="#333">50</text>
<circle cx="489.30" cy="322.70" r="1.75" fill="#a8a8a8"/>
<text x="492.60" y="324.28" font-size="4.4" fill="#333">70</text>
<circle cx="489.30" cy="329.40" r="1.75" fill="#777"/>
<text x="492.60" y="330.98" font-size="4.4" fill="#333">80</text>
<circle cx="507.40" cy="315.60" r="1.75" fill="#555"/>
<text x="510.70" y="317.18" font-size="4.4" fill="#333">90</text>
<circle cx="507.40" cy="322.50" r="1.75" fill="#000"/>
<text x="510.70" y="324.08" font-size="4.4" fill="#333">95</text>
<text x="310.20" y="408.33" font-size="4.8">sgRNA</text>
<line x1="333.80" y1="400.40" x2="333.80" y2="401.90" stroke="#444" stroke-width="0.5"/>
<text x="333.80" y="408.40" font-size="5.0" text-anchor="middle">1</text>
<line x1="344.20" y1="400.40" x2="344.20" y2="401.90" stroke="#444" stroke-width="0.5"/>
<text x="344.20" y="408.40" font-size="5.0" text-anchor="middle">2</text>
<line x1="352.30" y1="400.40" x2="352.30" y2="401.90" stroke="#444" stroke-width="0.5"/>
<text x="352.30" y="408.40" font-size="5.0" text-anchor="middle">3</text>
<line x1="365.00" y1="400.40" x2="365.00" y2="401.90" stroke="#444" stroke-width="0.5"/>
<text x="365.00" y="408.40" font-size="5.0" text-anchor="middle">1</text>
<line x1="374.90" y1="400.40" x2="374.90" y2="401.90" stroke="#444" stroke-width="0.5"/>
<text x="374.90" y="408.40" font-size="5.0" text-anchor="middle">2</text>
<line x1="383.50" y1="400.40" x2="383.50" y2="401.90" stroke="#444" stroke-width="0.5"/>
<text x="383.50" y="408.40" font-size="5.0" text-anchor="middle">3</text>
<line x1="394.30" y1="400.40" x2="394.30" y2="401.90" stroke="#444" stroke-width="0.5"/>
<text x="394.30" y="408.40" font-size="5.0" text-anchor="middle">1</text>
<line x1="404.20" y1="400.40" x2="404.20" y2="401.90" stroke="#444" stroke-width="0.5"/>
<text x="404.20" y="408.40" font-size="5.0" text-anchor="middle">2</text>
<line x1="413.40" y1="400.40" x2="413.40" y2="401.90" stroke="#444" stroke-width="0.5"/>
<text x="413.40" y="408.40" font-size="5.0" text-anchor="middle">3</text>
<line x1="432.30" y1="400.40" x2="432.30" y2="401.90" stroke="#444" stroke-width="0.5"/>
<text x="432.30" y="408.40" font-size="5.0" text-anchor="middle">1</text>
<line x1="442.00" y1="400.40" x2="442.00" y2="401.90" stroke="#444" stroke-width="0.5"/>
<text x="442.00" y="408.40" font-size="5.0" text-anchor="middle">2</text>
<line x1="450.80" y1="400.40" x2="450.80" y2="401.90" stroke="#444" stroke-width="0.5"/>
<text x="450.80" y="408.40" font-size="5.0" text-anchor="middle">3</text>
<line x1="462.30" y1="400.40" x2="462.30" y2="401.90" stroke="#444" stroke-width="0.5"/>
<text x="462.30" y="408.40" font-size="5.0" text-anchor="middle">1</text>
<line x1="472.00" y1="400.40" x2="472.00" y2="401.90" stroke="#444" stroke-width="0.5"/>
<text x="472.00" y="408.40" font-size="5.0" text-anchor="middle">2</text>
<line x1="481.20" y1="400.40" x2="481.20" y2="401.90" stroke="#444" stroke-width="0.5"/>
<text x="481.20" y="408.40" font-size="5.0" text-anchor="middle">3</text>
<line x1="491.80" y1="400.40" x2="491.80" y2="401.90" stroke="#444" stroke-width="0.5"/>
<text x="491.80" y="408.40" font-size="5.0" text-anchor="middle">1</text>
<line x1="501.50" y1="400.40" x2="501.50" y2="401.90" stroke="#444" stroke-width="0.5"/>
<text x="501.50" y="408.40" font-size="5.0" text-anchor="middle">2</text>
<line x1="511.20" y1="400.40" x2="511.20" y2="401.90" stroke="#444" stroke-width="0.5"/>
<text x="511.20" y="408.40" font-size="5.0" text-anchor="middle">3</text>
<path d="M330.40,410.60 Q330.40,412.50 332.10,412.50 L356.80,412.50 Q358.50,412.50 358.50,410.60" fill="none" stroke="#555" stroke-width="0.5"/>
<text x="344.45" y="421.30" font-size="6.4" text-anchor="middle" font-style="italic">sgSetd2</text>
<path d="M361.50,410.60 Q361.50,412.50 363.20,412.50 L387.50,412.50 Q389.20,412.50 389.20,410.60" fill="none" stroke="#555" stroke-width="0.5"/>
<text x="375.35" y="421.30" font-size="6.4" text-anchor="middle" font-style="italic">sgStk11</text>
<path d="M391.00,410.60 Q391.00,412.50 392.70,412.50 L415.80,412.50 Q417.50,412.50 417.50,410.60" fill="none" stroke="#555" stroke-width="0.5"/>
<text x="404.25" y="421.30" font-size="6.4" text-anchor="middle" font-style="italic">sgTsc1</text>
<path d="M428.20,410.60 Q428.20,412.50 429.90,412.50 L453.70,412.50 Q455.40,412.50 455.40,410.60" fill="none" stroke="#555" stroke-width="0.5"/>
<text x="441.80" y="421.30" font-size="6.4" text-anchor="middle" font-style="italic">sgSetd2</text>
<path d="M458.80,410.60 Q458.80,412.50 460.50,412.50 L484.80,412.50 Q486.50,412.50 486.50,410.60" fill="none" stroke="#555" stroke-width="0.5"/>
<text x="472.65" y="421.30" font-size="6.4" text-anchor="middle" font-style="italic">sgStk11</text>
<path d="M488.20,410.60 Q488.20,412.50 489.90,412.50 L513.70,412.50 Q515.40,412.50 515.40,410.60" fill="none" stroke="#555" stroke-width="0.5"/>
<text x="501.80" y="421.30" font-size="6.4" text-anchor="middle" font-style="italic">sgTsc1</text>
<path d="M326.60,424.60 Q326.60,426.60 328.30,426.60 L416.80,426.60 Q418.50,426.60 418.50,424.60" fill="none" stroke="#555" stroke-width="0.5"/>
<path d="M424.20,424.60 Q424.20,426.60 425.90,426.60 L514.40,426.60 Q516.10,426.60 516.10,424.60" fill="none" stroke="#555" stroke-width="0.5"/>
<text x="373.40" y="436.64" font-size="7.6" text-anchor="middle" font-weight="bold" font-style="italic">KT;H11<tspan font-size="4.4" font-weight="normal" dy="-2.3">LSL-Cas9</tspan></text>
<text x="472.40" y="436.64" font-size="7.6" text-anchor="middle" font-weight="bold" font-style="italic">KT;H11<tspan font-size="4.4" font-weight="normal" dy="-2.3">LSL-Cas9</tspan><tspan dy="2.3">;Stag2</tspan><tspan font-size="4.4" font-weight="normal" dy="-2.3">flox</tspan></text>
<text x="1.30" y="455.20" font-size="11" font-weight="bold" fill="#000">m</text>
<line x1="29.80" y1="456.30" x2="29.80" y2="546.30" stroke="#444" stroke-width="0.9"/>
<line x1="29.80" y1="546.30" x2="326.40" y2="546.30" stroke="#444" stroke-width="0.9"/>
<line x1="28.30" y1="475.00" x2="29.80" y2="475.00" stroke="#444" stroke-width="0.6"/>
<text x="28.00" y="476.94" font-size="5.4" text-anchor="end">4.0</text>
<line x1="28.30" y1="501.75" x2="29.80" y2="501.75" stroke="#444" stroke-width="0.6"/>
<text x="28.00" y="503.69" font-size="5.4" text-anchor="end">2.0</text>
<line x1="28.30" y1="528.50" x2="29.80" y2="528.50" stroke="#444" stroke-width="0.6"/>
<text x="28.00" y="530.44" font-size="5.4" text-anchor="end">1.0</text>
<text transform="translate(4.90,502.00) rotate(-90)" x="0" y="2.52" font-size="7.0" text-anchor="middle">Percentile tumor size</text>
<text transform="translate(13.20,502.00) rotate(-90)" x="0" y="2.52" font-size="7.0" text-anchor="middle">(normalized to sgInert)</text>
<line x1="44.70" y1="508.50" x2="44.70" y2="528.00" stroke="#555" stroke-width="0.6"/>
<line x1="46.20" y1="490.09" x2="46.20" y2="510.34" stroke="#a2a2a2" stroke-width="1.35"/>
<line x1="47.30" y1="469.10" x2="47.30" y2="497.67" stroke="#a2a2a2" stroke-width="1.35"/>
<line x1="48.70" y1="464.69" x2="48.70" y2="495.01" stroke="#a2a2a2" stroke-width="1.35"/>
<line x1="50.00" y1="474.32" x2="50.00" y2="500.82" stroke="#a2a2a2" stroke-width="1.35"/>
<circle cx="44.70" cy="517.50" r="1.90" fill="#f2d4da" fill-opacity="0.9"/>
<circle cx="46.20" cy="499.70" r="1.90" fill="#dca0ae" fill-opacity="0.9"/>
<circle cx="47.30" cy="481.60" r="1.90" fill="#cc8494" fill-opacity="0.9"/>
<circle cx="48.70" cy="477.80" r="1.90" fill="#b96c7e" fill-opacity="0.9"/>
<circle cx="50.00" cy="486.10" r="1.90" fill="#c27686" fill-opacity="0.9"/>
<line x1="57.90" y1="514.00" x2="57.90" y2="528.00" stroke="#555" stroke-width="0.6"/>
<line x1="59.60" y1="497.86" x2="59.60" y2="515.03" stroke="#a2a2a2" stroke-width="1.35"/>
<line x1="61.10" y1="484.64" x2="61.10" y2="507.05" stroke="#a2a2a2" stroke-width="1.35"/>
<line x1="62.70" y1="476.17" x2="62.70" y2="501.94" stroke="#a2a2a2" stroke-width="1.35"/>
<line x1="64.30" y1="477.22" x2="64.30" y2="502.57" stroke="#a2a2a2" stroke-width="1.35"/>
<circle cx="57.90" cy="523.00" r="1.90" fill="#f2d4da" fill-opacity="0.9"/>
<circle cx="59.60" cy="506.40" r="1.90" fill="#dca0ae" fill-opacity="0.9"/>
<circle cx="61.10" cy="495.00" r="1.90" fill="#cc8494" fill-opacity="0.9"/>
<circle cx="62.70" cy="487.70" r="1.90" fill="#b96c7e" fill-opacity="0.9"/>
<circle cx="64.30" cy="488.60" r="1.90" fill="#c27686" fill-opacity="0.9"/>
<line x1="71.30" y1="515.20" x2="71.30" y2="528.00" stroke="#555" stroke-width="0.6"/>
<line x1="72.90" y1="508.19" x2="72.90" y2="521.26" stroke="#a2a2a2" stroke-width="1.35"/>
<line x1="74.40" y1="500.88" x2="74.40" y2="516.85" stroke="#a2a2a2" stroke-width="1.35"/>
<line x1="75.70" y1="494.96" x2="75.70" y2="513.28" stroke="#a2a2a2" stroke-width="1.35"/>
<line x1="77.00" y1="493.46" x2="77.00" y2="512.37" stroke="#a2a2a2" stroke-width="1.35"/>
<circle cx="71.30" cy="524.20" r="1.90" fill="#f2d4da" fill-opacity="0.9"/>
<circle cx="72.90" cy="515.30" r="1.90" fill="#dca0ae" fill-opacity="0.9"/>
<circle cx="74.40" cy="509.00" r="1.90" fill="#cc8494" fill-opacity="0.9"/>
<circle cx="75.70" cy="503.90" r="1.90" fill="#b96c7e" fill-opacity="0.9"/>
<circle cx="77.00" cy="502.60" r="1.90" fill="#c27686" fill-opacity="0.9"/>
<line x1="96.30" y1="509.70" x2="96.30" y2="528.00" stroke="#555" stroke-width="0.6"/>
<line x1="97.70" y1="489.74" x2="97.70" y2="510.13" stroke="#a2a2a2" stroke-width="1.35"/>
<line x1="99.60" y1="473.04" x2="99.60" y2="500.05" stroke="#a2a2a2" stroke-width="1.35"/>
<line x1="100.60" y1="471.88" x2="100.60" y2="499.35" stroke="#a2a2a2" stroke-width="1.35"/>
<line x1="101.90" y1="480.81" x2="101.90" y2="504.74" stroke="#a2a2a2" stroke-width="1.35"/>
<circle cx="96.30" cy="518.70" r="1.90" fill="#f8dcc8" fill-opacity="0.9"/>
<circle cx="97.70" cy="499.40" r="1.90" fill="#ecb48c" fill-opacity="0.9"/>
<circle cx="99.60" cy="485.00" r="1.90" fill="#dc905c" fill-opacity="0.9"/>
<circle cx="100.60" cy="484.00" r="1.90" fill="#ca7642" fill-opacity="0.9"/>
<circle cx="101.90" cy="491.70" r="1.90" fill="#d27e4a" fill-opacity="0.9"/>
<line x1="109.80" y1="513.50" x2="109.80" y2="528.00" stroke="#555" stroke-width="0.6"/>
<line x1="111.20" y1="499.37" x2="111.20" y2="515.94" stroke="#a2a2a2" stroke-width="1.35"/>
<line x1="112.70" y1="488.70" x2="112.70" y2="509.50" stroke="#a2a2a2" stroke-width="1.35"/>
<line x1="114.00" y1="491.60" x2="114.00" y2="511.25" stroke="#a2a2a2" stroke-width="1.35"/>
<line x1="115.40" y1="494.85" x2="115.40" y2="513.21" stroke="#a2a2a2" stroke-width="1.35"/>
<circle cx="109.80" cy="522.50" r="1.90" fill="#f8dcc8" fill-opacity="0.9"/>
<circle cx="111.20" cy="507.70" r="1.90" fill="#ecb48c" fill-opacity="0.9"/>
<circle cx="112.70" cy="498.50" r="1.90" fill="#dc905c" fill-opacity="0.9"/>
<circle cx="114.00" cy="501.00" r="1.90" fill="#ca7642" fill-opacity="0.9"/>
<circle cx="115.40" cy="503.80" r="1.90" fill="#d27e4a" fill-opacity="0.9"/>
<line x1="123.10" y1="515.40" x2="123.10" y2="528.00" stroke="#555" stroke-width="0.6"/>
<line x1="124.60" y1="508.77" x2="124.60" y2="521.61" stroke="#a2a2a2" stroke-width="1.35"/>
<line x1="125.60" y1="498.21" x2="125.60" y2="515.24" stroke="#a2a2a2" stroke-width="1.35"/>
<line x1="127.10" y1="486.38" x2="127.10" y2="508.10" stroke="#a2a2a2" stroke-width="1.35"/>
<line x1="128.50" y1="492.64" x2="128.50" y2="511.88" stroke="#a2a2a2" stroke-width="1.35"/>
<circle cx="123.10" cy="524.40" r="1.90" fill="#f8dcc8" fill-opacity="0.9"/>
<circle cx="124.60" cy="515.80" r="1.90" fill="#ecb48c" fill-opacity="0.9"/>
<circle cx="125.60" cy="506.70" r="1.90" fill="#dc905c" fill-opacity="0.9"/>
<circle cx="127.10" cy="496.50" r="1.90" fill="#ca7642" fill-opacity="0.9"/>
<circle cx="128.50" cy="501.90" r="1.90" fill="#d27e4a" fill-opacity="0.9"/>
<line x1="141.00" y1="512.90" x2="141.00" y2="528.00" stroke="#555" stroke-width="0.6"/>
<line x1="142.30" y1="500.88" x2="142.30" y2="516.85" stroke="#a2a2a2" stroke-width="1.35"/>
<line x1="143.80" y1="488.24" x2="143.80" y2="509.22" stroke="#a2a2a2" stroke-width="1.35"/>
<line x1="145.20" y1="477.45" x2="145.20" y2="502.71" stroke="#a2a2a2" stroke-width="1.35"/>
<line x1="146.70" y1="483.71" x2="146.70" y2="506.49" stroke="#a2a2a2" stroke-width="1.35"/>
<circle cx="141.00" cy="521.90" r="1.90" fill="#f8dcc8" fill-opacity="0.9"/>
<circle cx="142.30" cy="509.00" r="1.90" fill="#ecb48c" fill-opacity="0.9"/>
<circle cx="143.80" cy="498.10" r="1.90" fill="#dc905c" fill-opacity="0.9"/>
<circle cx="145.20" cy="488.80" r="1.90" fill="#ca7642" fill-opacity="0.9"/>
<circle cx="146.70" cy="494.20" r="1.90" fill="#d27e4a" fill-opacity="0.9"/>
<line x1="154.80" y1="514.80" x2="154.80" y2="528.00" stroke="#555" stroke-width="0.6"/>
<line x1="156.30" y1="503.20" x2="156.30" y2="518.25" stroke="#a2a2a2" stroke-width="1.35"/>
<line x1="157.70" y1="493.57" x2="157.70" y2="512.44" stroke="#a2a2a2" stroke-width="1.35"/>
<line x1="158.80" y1="481.97" x2="158.80" y2="505.44" stroke="#a2a2a2" stroke-width="1.35"/>
<line x1="160.80" y1="483.13" x2="160.80" y2="506.14" stroke="#a2a2a2" stroke-width="1.35"/>
<circle cx="154.80" cy="523.80" r="1.90" fill="#f8dcc8" fill-opacity="0.9"/>
<circle cx="156.30" cy="511.00" r="1.90" fill="#ecb48c" fill-opacity="0.9"/>
<circle cx="157.70" cy="502.70" r="1.90" fill="#dc905c" fill-opacity="0.9"/>
<circle cx="158.80" cy="492.70" r="1.90" fill="#ca7642" fill-opacity="0.9"/>
<circle cx="160.80" cy="493.70" r="1.90" fill="#d27e4a" fill-opacity="0.9"/>
<line x1="168.80" y1="514.50" x2="168.80" y2="528.00" stroke="#555" stroke-width="0.6"/>
<line x1="170.40" y1="510.51" x2="170.40" y2="522.66" stroke="#a2a2a2" stroke-width="1.35"/>
<line x1="171.70" y1="500.30" x2="171.70" y2="516.50" stroke="#a2a2a2" stroke-width="1.35"/>
<line x1="173.10" y1="483.13" x2="173.10" y2="506.14" stroke="#a2a2a2" stroke-width="1.35"/>
<line x1="174.60" y1="485.34" x2="174.60" y2="507.47" stroke="#a2a2a2" stroke-width="1.35"/>
<circle cx="168.80" cy="523.50" r="1.90" fill="#f8dcc8" fill-opacity="0.9"/>
<circle cx="170.40" cy="517.30" r="1.90" fill="#ecb48c" fill-opacity="0.9"/>
<circle cx="171.70" cy="508.50" r="1.90" fill="#dc905c" fill-opacity="0.9"/>
<circle cx="173.10" cy="493.70" r="1.90" fill="#ca7642" fill-opacity="0.9"/>
<circle cx="174.60" cy="495.60" r="1.90" fill="#d27e4a" fill-opacity="0.9"/>
<line x1="190.80" y1="516.47" x2="190.80" y2="535.20" stroke="#555" stroke-width="0.6"/>
<line x1="192.10" y1="513.07" x2="192.10" y2="532.13" stroke="#a2a2a2" stroke-width="1.35"/>
<line x1="194.00" y1="509.68" x2="194.00" y2="529.06" stroke="#a2a2a2" stroke-width="1.35"/>
<line x1="194.80" y1="506.29" x2="194.80" y2="525.99" stroke="#a2a2a2" stroke-width="1.35"/>
<line x1="195.60" y1="502.90" x2="195.60" y2="522.93" stroke="#a2a2a2" stroke-width="1.35"/>
<circle cx="190.80" cy="521.70" r="1.90" fill="#f2d4da" fill-opacity="0.9"/>
<circle cx="192.10" cy="527.10" r="1.90" fill="#dca0ae" fill-opacity="0.9"/>
<circle cx="194.00" cy="523.10" r="1.90" fill="#cc8494" fill-opacity="0.9"/>
<circle cx="194.80" cy="520.40" r="1.90" fill="#b96c7e" fill-opacity="0.9"/>
<circle cx="195.60" cy="514.50" r="1.90" fill="#c27686" fill-opacity="0.9"/>
<line x1="205.60" y1="520.73" x2="205.60" y2="537.90" stroke="#555" stroke-width="0.6"/>
<line x1="206.30" y1="517.62" x2="206.30" y2="535.09" stroke="#a2a2a2" stroke-width="1.35"/>
<line x1="206.90" y1="514.52" x2="206.90" y2="532.28" stroke="#a2a2a2" stroke-width="1.35"/>
<line x1="208.00" y1="511.41" x2="208.00" y2="529.46" stroke="#a2a2a2" stroke-width="1.35"/>
<line x1="209.10" y1="508.30" x2="209.10" y2="526.65" stroke="#a2a2a2" stroke-width="1.35"/>
<circle cx="205.60" cy="529.80" r="1.90" fill="#f2d4da" fill-opacity="0.9"/>
<circle cx="206.30" cy="523.60" r="1.90" fill="#dca0ae" fill-opacity="0.9"/>
<circle cx="206.90" cy="523.10" r="1.90" fill="#cc8494" fill-opacity="0.9"/>
<circle cx="208.00" cy="521.00" r="1.90" fill="#b96c7e" fill-opacity="0.9"/>
<circle cx="209.10" cy="517.70" r="1.90" fill="#c27686" fill-opacity="0.9"/>
<line x1="219.00" y1="516.15" x2="219.00" y2="541.90" stroke="#555" stroke-width="0.6"/>
<line x1="219.80" y1="511.49" x2="219.80" y2="537.68" stroke="#a2a2a2" stroke-width="1.35"/>
<line x1="220.90" y1="506.82" x2="220.90" y2="533.46" stroke="#a2a2a2" stroke-width="1.35"/>
<line x1="221.70" y1="502.16" x2="221.70" y2="529.25" stroke="#a2a2a2" stroke-width="1.35"/>
<line x1="222.50" y1="497.50" x2="222.50" y2="525.03" stroke="#a2a2a2" stroke-width="1.35"/>
<circle cx="219.00" cy="532.50" r="1.90" fill="#f2d4da" fill-opacity="0.9"/>
<circle cx="219.80" cy="527.90" r="1.90" fill="#dca0ae" fill-opacity="0.9"/>
<circle cx="220.90" cy="523.10" r="1.90" fill="#cc8494" fill-opacity="0.9"/>
<circle cx="221.70" cy="520.00" r="1.90" fill="#b96c7e" fill-opacity="0.9"/>
<circle cx="222.50" cy="515.50" r="1.90" fill="#c27686" fill-opacity="0.9"/>
<line x1="243.00" y1="522.65" x2="243.00" y2="533.90" stroke="#555" stroke-width="0.6"/>
<line x1="244.60" y1="520.61" x2="244.60" y2="532.06" stroke="#a2a2a2" stroke-width="1.35"/>
<line x1="245.60" y1="518.57" x2="245.60" y2="530.21" stroke="#a2a2a2" stroke-width="1.35"/>
<line x1="246.80" y1="516.54" x2="246.80" y2="528.37" stroke="#a2a2a2" stroke-width="1.35"/>
<line x1="247.90" y1="514.50" x2="247.90" y2="526.53" stroke="#a2a2a2" stroke-width="1.35"/>
<circle cx="243.00" cy="521.00" r="1.90" fill="#f8dcc8" fill-opacity="0.9"/>
<circle cx="244.60" cy="520.90" r="1.90" fill="#ecb48c" fill-opacity="0.9"/>
<circle cx="245.60" cy="521.50" r="1.90" fill="#dc905c" fill-opacity="0.9"/>
<circle cx="246.80" cy="524.00" r="1.90" fill="#ca7642" fill-opacity="0.9"/>
<circle cx="247.90" cy="527.90" r="1.90" fill="#d27e4a" fill-opacity="0.9"/>
<line x1="256.80" y1="519.60" x2="256.80" y2="535.20" stroke="#555" stroke-width="0.6"/>
<line x1="258.10" y1="516.77" x2="258.10" y2="532.64" stroke="#a2a2a2" stroke-width="1.35"/>
<line x1="259.00" y1="513.95" x2="259.00" y2="530.09" stroke="#a2a2a2" stroke-width="1.35"/>
<line x1="260.00" y1="511.12" x2="260.00" y2="527.53" stroke="#a2a2a2" stroke-width="1.35"/>
<line x1="262.10" y1="508.30" x2="262.10" y2="524.98" stroke="#a2a2a2" stroke-width="1.35"/>
<circle cx="256.80" cy="521.00" r="1.90" fill="#f8dcc8" fill-opacity="0.9"/>
<circle cx="258.10" cy="521.70" r="1.90" fill="#ecb48c" fill-opacity="0.9"/>
<circle cx="259.00" cy="521.00" r="1.90" fill="#dc905c" fill-opacity="0.9"/>
<circle cx="260.00" cy="520.40" r="1.90" fill="#ca7642" fill-opacity="0.9"/>
<circle cx="262.10" cy="518.20" r="1.90" fill="#d27e4a" fill-opacity="0.9"/>
<line x1="271.50" y1="518.38" x2="271.50" y2="544.60" stroke="#555" stroke-width="0.6"/>
<line x1="272.90" y1="513.64" x2="272.90" y2="540.31" stroke="#a2a2a2" stroke-width="1.35"/>
<line x1="274.80" y1="508.89" x2="274.80" y2="536.01" stroke="#a2a2a2" stroke-width="1.35"/>
<line x1="275.50" y1="504.15" x2="275.50" y2="531.72" stroke="#a2a2a2" stroke-width="1.35"/>
<line x1="276.40" y1="499.40" x2="276.40" y2="527.42" stroke="#a2a2a2" stroke-width="1.35"/>
<circle cx="271.50" cy="521.00" r="1.90" fill="#f8dcc8" fill-opacity="0.9"/>
<circle cx="272.90" cy="529.80" r="1.90" fill="#ecb48c" fill-opacity="0.9"/>
<circle cx="274.80" cy="527.10" r="1.90" fill="#dc905c" fill-opacity="0.9"/>
<circle cx="275.50" cy="524.00" r="1.90" fill="#ca7642" fill-opacity="0.9"/>
<circle cx="276.40" cy="518.20" r="1.90" fill="#d27e4a" fill-opacity="0.9"/>
<line x1="285.80" y1="523.74" x2="285.80" y2="536.50" stroke="#555" stroke-width="0.6"/>
<line x1="287.20" y1="521.43" x2="287.20" y2="534.41" stroke="#a2a2a2" stroke-width="1.35"/>
<line x1="288.50" y1="519.12" x2="288.50" y2="532.32" stroke="#a2a2a2" stroke-width="1.35"/>
<line x1="289.90" y1="516.81" x2="289.90" y2="530.23" stroke="#a2a2a2" stroke-width="1.35"/>
<line x1="291.70" y1="514.50" x2="291.70" y2="528.14" stroke="#a2a2a2" stroke-width="1.35"/>
<circle cx="285.80" cy="524.00" r="1.90" fill="#f8dcc8" fill-opacity="0.9"/>
<circle cx="287.20" cy="526.30" r="1.90" fill="#ecb48c" fill-opacity="0.9"/>
<circle cx="288.50" cy="525.00" r="1.90" fill="#dc905c" fill-opacity="0.9"/>
<circle cx="289.90" cy="524.40" r="1.90" fill="#ca7642" fill-opacity="0.9"/>
<circle cx="291.70" cy="522.50" r="1.90" fill="#d27e4a" fill-opacity="0.9"/>
<line x1="298.50" y1="522.21" x2="298.50" y2="535.20" stroke="#555" stroke-width="0.6"/>
<line x1="299.80" y1="519.86" x2="299.80" y2="533.07" stroke="#a2a2a2" stroke-width="1.35"/>
<line x1="301.00" y1="517.50" x2="301.00" y2="530.94" stroke="#a2a2a2" stroke-width="1.35"/>
<line x1="302.50" y1="515.15" x2="302.50" y2="528.82" stroke="#a2a2a2" stroke-width="1.35"/>
<line x1="304.40" y1="512.80" x2="304.40" y2="526.69" stroke="#a2a2a2" stroke-width="1.35"/>
<circle cx="298.50" cy="521.00" r="1.90" fill="#f8dcc8" fill-opacity="0.9"/>
<circle cx="299.80" cy="521.70" r="1.90" fill="#ecb48c" fill-opacity="0.9"/>
<circle cx="301.00" cy="522.00" r="1.90" fill="#dc905c" fill-opacity="0.9"/>
<circle cx="302.50" cy="522.50" r="1.90" fill="#ca7642" fill-opacity="0.9"/>
<circle cx="304.40" cy="524.40" r="1.90" fill="#d27e4a" fill-opacity="0.9"/>
<line x1="313.00" y1="529.43" x2="313.00" y2="541.90" stroke="#555" stroke-width="0.6"/>
<line x1="314.60" y1="527.17" x2="314.60" y2="539.86" stroke="#a2a2a2" stroke-width="1.35"/>
<line x1="315.80" y1="524.91" x2="315.80" y2="537.81" stroke="#a2a2a2" stroke-width="1.35"/>
<line x1="317.00" y1="522.66" x2="317.00" y2="535.77" stroke="#a2a2a2" stroke-width="1.35"/>
<line x1="317.90" y1="520.40" x2="317.90" y2="533.73" stroke="#a2a2a2" stroke-width="1.35"/>
<circle cx="313.00" cy="526.00" r="1.90" fill="#f8dcc8" fill-opacity="0.9"/>
<circle cx="314.60" cy="533.90" r="1.90" fill="#ecb48c" fill-opacity="0.9"/>
<circle cx="315.80" cy="532.00" r="1.90" fill="#dc905c" fill-opacity="0.9"/>
<circle cx="317.00" cy="527.00" r="1.90" fill="#ca7642" fill-opacity="0.9"/>
<circle cx="317.90" cy="521.70" r="1.90" fill="#d27e4a" fill-opacity="0.9"/>
<line x1="29.80" y1="528.50" x2="326.40" y2="528.50" stroke="#1a1a1a" stroke-width="1.15" stroke-dasharray="4.4,2.6"/>
<rect x="275.4" y="451.7" width="46.7" height="36.1" rx="1.2" fill="#fff" stroke="#cfcfcf" stroke-width="0.6"/>
<text x="298.30" y="460.51" font-size="5.3" text-anchor="middle" fill="#333">Percentile</text>
<circle cx="280.40" cy="465.80" r="2.20" fill="#d2d2d2"/>
<text x="284.80" y="467.74" font-size="5.4" fill="#333">50</text>
<circle cx="280.40" cy="474.40" r="2.20" fill="#a8a8a8"/>
<text x="284.80" y="476.34" font-size="5.4" fill="#333">70</text>
<circle cx="280.40" cy="482.80" r="2.20" fill="#808080"/>
<text x="284.80" y="484.74" font-size="5.4" fill="#333">80</text>
<circle cx="306.70" cy="465.80" r="2.20" fill="#555"/>
<text x="311.10" y="467.74" font-size="5.4" fill="#333">90</text>
<circle cx="306.70" cy="474.40" r="2.20" fill="#000"/>
<text x="311.10" y="476.34" font-size="5.4" fill="#333">95</text>
<text x="13.70" y="555.53" font-size="4.8">sgRNA</text>
<line x1="43.00" y1="546.30" x2="43.00" y2="548.00" stroke="#444" stroke-width="0.6"/>
<text x="43.00" y="557.45" font-size="6.8" text-anchor="middle">1</text>
<line x1="58.70" y1="546.30" x2="58.70" y2="548.00" stroke="#444" stroke-width="0.6"/>
<text x="58.70" y="557.45" font-size="6.8" text-anchor="middle">2</text>
<line x1="73.70" y1="546.30" x2="73.70" y2="548.00" stroke="#444" stroke-width="0.6"/>
<text x="73.70" y="557.45" font-size="6.8" text-anchor="middle">3</text>
<line x1="95.20" y1="546.30" x2="95.20" y2="548.00" stroke="#444" stroke-width="0.6"/>
<text x="95.20" y="557.45" font-size="6.8" text-anchor="middle">1</text>
<line x1="110.80" y1="546.30" x2="110.80" y2="548.00" stroke="#444" stroke-width="0.6"/>
<text x="110.80" y="557.45" font-size="6.8" text-anchor="middle">2</text>
<line x1="125.60" y1="546.30" x2="125.60" y2="548.00" stroke="#444" stroke-width="0.6"/>
<text x="125.60" y="557.45" font-size="6.8" text-anchor="middle">3</text>
<line x1="139.20" y1="546.30" x2="139.20" y2="548.00" stroke="#444" stroke-width="0.6"/>
<text x="139.20" y="557.45" font-size="6.8" text-anchor="middle">4</text>
<line x1="154.50" y1="546.30" x2="154.50" y2="548.00" stroke="#444" stroke-width="0.6"/>
<text x="154.50" y="557.45" font-size="6.8" text-anchor="middle">5</text>
<line x1="169.60" y1="546.30" x2="169.60" y2="548.00" stroke="#444" stroke-width="0.6"/>
<text x="169.60" y="557.45" font-size="6.8" text-anchor="middle">6</text>
<line x1="191.80" y1="546.30" x2="191.80" y2="548.00" stroke="#444" stroke-width="0.6"/>
<text x="191.80" y="557.45" font-size="6.8" text-anchor="middle">1</text>
<line x1="207.20" y1="546.30" x2="207.20" y2="548.00" stroke="#444" stroke-width="0.6"/>
<text x="207.20" y="557.45" font-size="6.8" text-anchor="middle">2</text>
<line x1="222.80" y1="546.30" x2="222.80" y2="548.00" stroke="#444" stroke-width="0.6"/>
<text x="222.80" y="557.45" font-size="6.8" text-anchor="middle">3</text>
<line x1="244.20" y1="546.30" x2="244.20" y2="548.00" stroke="#444" stroke-width="0.6"/>
<text x="244.20" y="557.45" font-size="6.8" text-anchor="middle">1</text>
<line x1="259.60" y1="546.30" x2="259.60" y2="548.00" stroke="#444" stroke-width="0.6"/>
<text x="259.60" y="557.45" font-size="6.8" text-anchor="middle">2</text>
<line x1="274.40" y1="546.30" x2="274.40" y2="548.00" stroke="#444" stroke-width="0.6"/>
<text x="274.40" y="557.45" font-size="6.8" text-anchor="middle">3</text>
<line x1="289.00" y1="546.30" x2="289.00" y2="548.00" stroke="#444" stroke-width="0.6"/>
<text x="289.00" y="557.45" font-size="6.8" text-anchor="middle">4</text>
<line x1="303.30" y1="546.30" x2="303.30" y2="548.00" stroke="#444" stroke-width="0.6"/>
<text x="303.30" y="557.45" font-size="6.8" text-anchor="middle">5</text>
<line x1="317.90" y1="546.30" x2="317.90" y2="548.00" stroke="#444" stroke-width="0.6"/>
<text x="317.90" y="557.45" font-size="6.8" text-anchor="middle">6</text>
<path d="M37.50,562.00 Q37.50,564.00 39.20,564.00 L79.50,564.00 Q81.20,564.00 81.20,562.00" fill="none" stroke="#555" stroke-width="0.5"/>
<text x="57.30" y="572.90" font-size="6.4" text-anchor="middle">sg<tspan font-style="italic">Paxip1</tspan></text>
<path d="M87.00,562.00 Q87.00,564.00 88.70,564.00 L172.40,564.00 Q174.10,564.00 174.10,562.00" fill="none" stroke="#555" stroke-width="0.5"/>
<text x="128.50" y="572.90" font-size="6.4" text-anchor="middle">sg<tspan font-style="italic">Pagr1</tspan></text>
<path d="M183.90,562.00 Q183.90,564.00 185.60,564.00 L226.30,564.00 Q228.00,564.00 228.00,562.00" fill="none" stroke="#555" stroke-width="0.5"/>
<text x="206.80" y="572.90" font-size="6.4" text-anchor="middle">sg<tspan font-style="italic">Paxip1</tspan></text>
<path d="M235.30,562.00 Q235.30,564.00 237.00,564.00 L321.30,564.00 Q323.00,564.00 323.00,562.00" fill="none" stroke="#555" stroke-width="0.5"/>
<text x="278.70" y="572.90" font-size="6.4" text-anchor="middle">sg<tspan font-style="italic">Pagr1</tspan></text>
<path d="M31.20,575.00 Q31.20,577.20 32.90,577.20 L175.70,577.20 Q177.40,577.20 177.40,575.00" fill="none" stroke="#555" stroke-width="0.5"/>
<path d="M179.70,575.00 Q179.70,577.20 181.40,577.20 L323.30,577.20 Q325.00,577.20 325.00,575.00" fill="none" stroke="#555" stroke-width="0.5"/>
<text x="106.20" y="586.79" font-size="7.2" text-anchor="middle" font-weight="bold" font-style="italic">KT;H11<tspan font-size="4.2" font-weight="normal" dy="-2.3">LSL-Cas9</tspan></text>
<text x="245.40" y="586.79" font-size="7.2" text-anchor="middle" font-weight="bold" font-style="italic">KT;H11<tspan font-size="4.2" font-weight="normal" dy="-2.3">LSL-Cas9</tspan><tspan dy="2.3">;Stag2</tspan><tspan font-size="4.2" font-weight="normal" dy="-2.3">flox</tspan></text>
<text x="339.10" y="454.60" font-size="11" font-weight="bold" fill="#000">n</text>
<line x1="384.30" y1="475.60" x2="384.30" y2="554.00" stroke="#333" stroke-width="1.0"/>
<line x1="384.30" y1="554.00" x2="516.00" y2="554.00" stroke="#333" stroke-width="1.0"/>
<line x1="379.20" y1="475.60" x2="384.30" y2="475.60" stroke="#444" stroke-width="0.7"/>
<text x="378.00" y="477.47" font-size="5.2" text-anchor="end">1.5</text>
<line x1="379.20" y1="511.20" x2="384.30" y2="511.20" stroke="#444" stroke-width="0.7"/>
<text x="378.00" y="513.07" font-size="5.2" text-anchor="end">1.0</text>
<line x1="379.20" y1="546.80" x2="384.30" y2="546.80" stroke="#444" stroke-width="0.7"/>
<text x="378.00" y="548.67" font-size="5.2" text-anchor="end">0.5</text>
<text transform="translate(344.20,517.10) rotate(-90)" x="0" y="2.63" font-size="7.3" text-anchor="middle">Relative tumor number</text>
<text transform="translate(352.30,520.70) rotate(-90)" x="0" y="2.74" font-size="7.6" text-anchor="middle">(normalized to KT and sgInert)</text>
<rect x="390.10" y="474.70" width="7.20" height="7.60" fill="#8e8e8e" stroke="#555" stroke-width="0.5"/>
<rect x="390.10" y="487.20" width="7.20" height="7.60" fill="#3a46a8" stroke="#2a3080" stroke-width="0.5"/>
<text x="400.60" y="481.54" font-size="7.9" font-weight="bold" font-style="italic">KT;H11<tspan font-size="4.5" font-weight="normal" dy="-2.3">LSL-Cas9</tspan></text>
<text x="400.60" y="494.34" font-size="7.9" font-weight="bold" font-style="italic">KT;H11<tspan font-size="4.5" font-weight="normal" dy="-2.3">LSL-Cas9</tspan><tspan dy="2.3">;Stag2</tspan><tspan font-size="4.5" font-weight="normal" dy="-2.3">flox</tspan></text>
<rect x="386.70" y="511.20" width="7.20" height="18.51" fill="#8e8e8e" stroke="#444" stroke-width="0.5"/>
<line x1="390.30" y1="528.71" x2="390.30" y2="532.31" stroke="#222" stroke-width="0.6"/>
<line x1="388.90" y1="532.31" x2="391.70" y2="532.31" stroke="#222" stroke-width="0.6"/>
<rect x="396.50" y="511.20" width="7.20" height="27.77" fill="#8e8e8e" stroke="#444" stroke-width="0.5"/>
<line x1="400.10" y1="537.97" x2="400.10" y2="541.57" stroke="#222" stroke-width="0.6"/>
<line x1="398.70" y1="541.57" x2="401.50" y2="541.57" stroke="#222" stroke-width="0.6"/>
<rect x="406.00" y="511.20" width="7.20" height="18.16" fill="#8e8e8e" stroke="#444" stroke-width="0.5"/>
<line x1="409.60" y1="528.36" x2="409.60" y2="531.96" stroke="#222" stroke-width="0.6"/>
<line x1="408.20" y1="531.96" x2="411.00" y2="531.96" stroke="#222" stroke-width="0.6"/>
<rect x="420.50" y="511.20" width="7.20" height="21.36" fill="#3a46a8" stroke="#444" stroke-width="0.5"/>
<line x1="424.10" y1="531.56" x2="424.10" y2="535.16" stroke="#222" stroke-width="0.6"/>
<line x1="422.70" y1="535.16" x2="425.50" y2="535.16" stroke="#222" stroke-width="0.6"/>
<rect x="430.00" y="511.20" width="7.20" height="24.21" fill="#3a46a8" stroke="#444" stroke-width="0.5"/>
<line x1="433.60" y1="534.41" x2="433.60" y2="538.01" stroke="#222" stroke-width="0.6"/>
<line x1="432.20" y1="538.01" x2="435.00" y2="538.01" stroke="#222" stroke-width="0.6"/>
<rect x="439.20" y="511.20" width="7.20" height="19.22" fill="#3a46a8" stroke="#444" stroke-width="0.5"/>
<line x1="442.80" y1="529.42" x2="442.80" y2="533.02" stroke="#222" stroke-width="0.6"/>
<line x1="441.40" y1="533.02" x2="444.20" y2="533.02" stroke="#222" stroke-width="0.6"/>
<rect x="453.60" y="511.20" width="7.20" height="13.53" fill="#8e8e8e" stroke="#444" stroke-width="0.5"/>
<line x1="457.20" y1="523.73" x2="457.20" y2="527.33" stroke="#222" stroke-width="0.6"/>
<line x1="455.80" y1="527.33" x2="458.60" y2="527.33" stroke="#222" stroke-width="0.6"/>
<rect x="462.90" y="511.20" width="7.20" height="12.46" fill="#8e8e8e" stroke="#444" stroke-width="0.5"/>
<line x1="466.50" y1="522.66" x2="466.50" y2="526.26" stroke="#222" stroke-width="0.6"/>
<line x1="465.10" y1="526.26" x2="467.90" y2="526.26" stroke="#222" stroke-width="0.6"/>
<rect x="472.40" y="510.49" width="7.20" height="0.71" fill="#8e8e8e" stroke="#444" stroke-width="0.5"/>
<line x1="476.00" y1="508.49" x2="476.00" y2="511.49" stroke="#222" stroke-width="0.6"/>
<line x1="474.60" y1="508.49" x2="477.40" y2="508.49" stroke="#222" stroke-width="0.6"/>
<rect x="486.20" y="511.20" width="7.20" height="26.34" fill="#3a46a8" stroke="#444" stroke-width="0.5"/>
<line x1="489.80" y1="536.54" x2="489.80" y2="540.14" stroke="#222" stroke-width="0.6"/>
<line x1="488.40" y1="540.14" x2="491.20" y2="540.14" stroke="#222" stroke-width="0.6"/>
<rect x="495.50" y="511.20" width="7.20" height="19.94" fill="#3a46a8" stroke="#444" stroke-width="0.5"/>
<line x1="499.10" y1="530.14" x2="499.10" y2="533.74" stroke="#222" stroke-width="0.6"/>
<line x1="497.70" y1="533.74" x2="500.50" y2="533.74" stroke="#222" stroke-width="0.6"/>
<rect x="504.10" y="511.20" width="7.20" height="7.83" fill="#3a46a8" stroke="#444" stroke-width="0.5"/>
<line x1="507.70" y1="518.03" x2="507.70" y2="521.63" stroke="#222" stroke-width="0.6"/>
<line x1="506.30" y1="521.63" x2="509.10" y2="521.63" stroke="#222" stroke-width="0.6"/>
<line x1="384.30" y1="511.00" x2="520.00" y2="511.00" stroke="#1a1a1a" stroke-width="1.15" stroke-dasharray="4.4,2.6"/>
<text x="364.30" y="563.07" font-size="5.2">sgRNA</text>
<line x1="390.30" y1="554.00" x2="390.30" y2="555.80" stroke="#333" stroke-width="0.7"/>
<line x1="400.10" y1="554.00" x2="400.10" y2="555.80" stroke="#333" stroke-width="0.7"/>
<line x1="409.60" y1="554.00" x2="409.60" y2="555.80" stroke="#333" stroke-width="0.7"/>
<line x1="424.10" y1="554.00" x2="424.10" y2="555.80" stroke="#333" stroke-width="0.7"/>
<line x1="433.60" y1="554.00" x2="433.60" y2="555.80" stroke="#333" stroke-width="0.7"/>
<line x1="442.80" y1="554.00" x2="442.80" y2="555.80" stroke="#333" stroke-width="0.7"/>
<line x1="457.20" y1="554.00" x2="457.20" y2="555.80" stroke="#333" stroke-width="0.7"/>
<line x1="466.50" y1="554.00" x2="466.50" y2="555.80" stroke="#333" stroke-width="0.7"/>
<line x1="476.00" y1="554.00" x2="476.00" y2="555.80" stroke="#333" stroke-width="0.7"/>
<line x1="489.80" y1="554.00" x2="489.80" y2="555.80" stroke="#333" stroke-width="0.7"/>
<line x1="499.10" y1="554.00" x2="499.10" y2="555.80" stroke="#333" stroke-width="0.7"/>
<line x1="507.70" y1="554.00" x2="507.70" y2="555.80" stroke="#333" stroke-width="0.7"/>
<text x="389.60" y="563.42" font-size="7.0" text-anchor="middle">1</text>
<text x="399.70" y="563.42" font-size="7.0" text-anchor="middle">2</text>
<text x="408.90" y="563.42" font-size="7.0" text-anchor="middle">3</text>
<text x="423.40" y="563.42" font-size="7.0" text-anchor="middle">1</text>
<text x="432.90" y="563.42" font-size="7.0" text-anchor="middle">2</text>
<text x="442.10" y="563.42" font-size="7.0" text-anchor="middle">3</text>
<text x="457.40" y="563.42" font-size="7.0" text-anchor="middle">1</text>
<text x="466.60" y="563.42" font-size="7.0" text-anchor="middle">2</text>
<text x="475.30" y="563.42" font-size="7.0" text-anchor="middle">3</text>
<text x="490.60" y="563.42" font-size="7.0" text-anchor="middle">1</text>
<text x="499.80" y="563.42" font-size="7.0" text-anchor="middle">2</text>
<text x="507.90" y="563.42" font-size="7.0" text-anchor="middle">3</text>
<path d="M384.60,565.20 Q384.60,567.40 386.30,567.40 L411.80,567.40 Q413.50,567.40 413.50,565.20" fill="none" stroke="#555" stroke-width="0.5"/>
<text x="399.15" y="575.50" font-size="6.4" text-anchor="middle" font-style="italic">sgPole2</text>
<path d="M417.20,565.20 Q417.20,567.40 418.90,567.40 L444.90,567.40 Q446.60,567.40 446.60,565.20" fill="none" stroke="#555" stroke-width="0.5"/>
<text x="432.00" y="575.50" font-size="6.4" text-anchor="middle" font-style="italic">sgPole2</text>
<path d="M451.20,565.20 Q451.20,567.40 452.90,567.40 L478.10,567.40 Q479.80,567.40 479.80,565.20" fill="none" stroke="#555" stroke-width="0.5"/>
<text x="465.60" y="575.50" font-size="6.4" text-anchor="middle" font-style="italic">sgStag1</text>
<path d="M484.40,565.20 Q484.40,567.40 486.10,567.40 L511.30,567.40 Q513.00,567.40 513.00,565.20" fill="none" stroke="#555" stroke-width="0.5"/>
<text x="498.80" y="575.50" font-size="6.4" text-anchor="middle" font-style="italic">sgStag1</text>
</svg></body></html>
